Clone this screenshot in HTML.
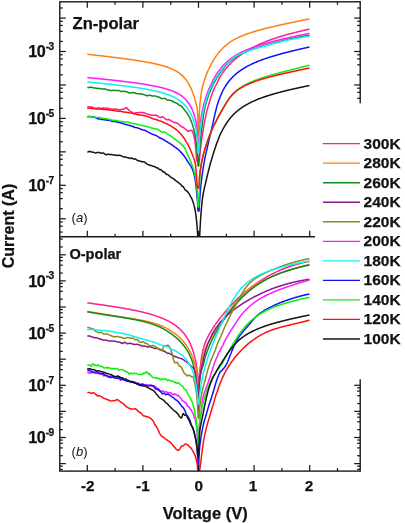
<!DOCTYPE html><html><head><meta charset="utf-8"><title>IV</title><style>
html,body{margin:0;padding:0;background:#fff}
#w{position:relative;width:405px;height:523px;overflow:hidden;background:#fff;font-family:"Liberation Sans",sans-serif;font-weight:bold;color:#111}
.t{position:absolute;white-space:nowrap;line-height:1;-webkit-text-stroke:0.25px #111}
#tx{position:absolute;left:0;top:0;width:405px;height:523px;will-change:transform;background:transparent}
.yl{font-size:16.2px;letter-spacing:-0.35px;text-align:right;width:60px}
.yl sup{font-size:10.2px;letter-spacing:-0.7px;position:relative;top:-7.2px;vertical-align:baseline;line-height:0;margin-left:0.3px;margin-right:0.7px}
.xl{font-size:15.3px;text-align:center;width:40px}
.lg{font-size:15.5px;left:363.6px}
</style></head><body><div id="w">
<svg width="405" height="523" viewBox="0 0 405 523" style="position:absolute;left:0;top:0">
<defs><clipPath id="c1"><rect x="59.8" y="1.8" width="300.4" height="235.0"/></clipPath><clipPath id="c2"><rect x="59.8" y="236.8" width="300.4" height="234.3"/></clipPath></defs>
<g fill="none" stroke-width="1.5" stroke-linejoin="round" stroke-linecap="butt" clip-path="url(#c1)">
<path d="M87.3 106.7 L87.8 106.8 L88.3 106.8 L88.8 106.8 L89.3 106.7 L89.8 106.9 L90.3 107.2 L90.8 107.2 L91.3 106.9 L91.8 106.8 L92.3 107.5 L92.8 108.2 L93.3 108.1 L93.8 107.9 L94.3 108.1 L94.8 108.3 L95.3 108.3 L95.8 108.3 L96.3 108.3 L96.8 108.5 L97.3 108.7 L97.8 108.2 L98.3 107.7 L98.8 107.9 L99.3 108.2 L99.8 108.2 L100.3 108.2 L100.8 108.3 L101.3 108.5 L101.8 108.5 L102.3 108.2 L102.8 108.0 L103.3 108.1 L103.8 108.2 L104.3 108.1 L104.8 107.9 L105.3 108.0 L105.8 108.1 L106.3 108.3 L106.8 108.4 L107.3 108.4 L107.8 108.2 L108.3 108.1 L108.8 108.4 L109.3 108.8 L109.8 108.9 L110.3 109.0 L110.8 109.0 L111.3 109.1 L111.8 109.2 L112.3 109.4 L112.8 109.4 L113.3 109.2 L113.8 109.0 L114.3 109.1 L114.8 109.1 L115.3 109.0 L115.8 108.9 L116.3 109.0 L116.8 109.2 L117.3 109.4 L117.8 109.6 L118.3 109.7 L118.8 109.7 L119.3 109.7 L119.8 109.8 L120.3 109.8 L120.8 109.6 L121.3 109.5 L121.8 109.4 L122.3 109.3 L122.8 109.2 L123.3 109.2 L123.8 109.0 L124.3 108.8 L124.8 108.7 L125.3 108.3 L125.8 107.9 L126.3 107.8 L126.8 107.8 L127.3 108.4 L127.8 109.1 L128.3 109.7 L128.8 110.1 L129.3 110.5 L129.8 111.0 L130.3 111.4 L130.8 111.7 L131.3 111.8 L131.8 112.1 L132.3 112.3 L132.8 112.8 L133.3 113.4 L133.8 113.7 L134.3 113.5 L134.8 113.2 L135.3 112.9 L135.8 112.7 L136.3 112.7 L136.8 112.7 L137.3 112.8 L137.8 112.9 L138.3 112.8 L138.8 112.5 L139.3 112.5 L139.8 112.6 L140.3 112.6 L140.8 112.6 L141.3 112.6 L141.8 112.6 L142.3 112.6 L142.8 112.6 L143.3 112.6 L143.8 112.8 L144.3 113.0 L144.8 113.1 L145.3 113.3 L145.8 113.5 L146.3 113.7 L146.8 113.9 L147.3 114.1 L147.8 114.2 L148.3 114.4 L148.8 114.5 L149.3 114.6 L149.8 114.7 L150.3 114.8 L150.8 115.1 L151.3 115.2 L151.8 115.1 L152.3 115.1 L152.8 115.3 L153.3 115.6 L153.8 115.4 L154.3 115.3 L154.8 115.2 L155.3 115.1 L155.8 115.1 L156.3 115.4 L156.8 115.7 L157.3 115.8 L157.8 116.0 L158.3 116.4 L158.8 116.8 L159.3 117.1 L159.8 117.2 L160.3 117.4 L160.8 117.5 L161.3 117.4 L161.8 116.9 L162.3 116.7 L162.8 116.8 L163.3 117.1 L163.8 117.5 L164.3 118.0 L164.8 118.4 L165.3 118.8 L165.8 119.2 L166.3 119.6 L166.8 119.8 L167.3 119.8 L167.8 119.7 L168.3 119.5 L168.8 119.3 L169.3 119.7 L169.8 120.0 L170.3 120.3 L170.8 120.7 L171.3 121.0 L171.8 121.2 L172.3 121.5 L172.8 121.9 L173.3 122.1 L173.8 122.3 L174.3 122.3 L174.8 122.4 L175.3 122.5 L175.8 122.7 L176.3 122.9 L176.8 123.0 L177.3 123.2 L177.8 123.6 L178.3 124.0 L178.8 124.4 L179.3 124.9 L179.8 125.3 L180.3 125.7 L180.8 126.0 L181.3 126.5 L181.8 126.8 L182.3 127.0 L182.8 127.2 L183.3 127.5 L183.8 127.8 L184.3 128.1 L184.8 128.5 L185.3 129.0 L185.8 129.4 L186.3 129.8 L186.8 130.3 L187.3 130.7 L187.8 131.2 L188.3 131.4 L188.8 131.1 L189.3 131.0 L189.8 130.8 L190.3 130.5 L190.8 130.3 L191.3 130.2 L191.8 130.3 L192.3 131.3 L192.5 131.7 L192.6 131.9 L192.7 132.2 L192.8 132.4 L192.9 132.7 L193.0 133.0 L193.1 133.2 L193.2 133.5 L193.3 133.8 L193.4 134.1 L193.5 134.4 L193.6 134.7 L193.7 135.0 L193.8 135.4 L193.9 135.8 L194.0 136.2 L194.1 136.6 L194.2 137.1 L194.3 137.7 L194.4 138.2 L194.5 138.8 L194.6 139.4 L194.7 140.0 L194.8 140.6 L194.9 141.3 L195.0 142.1 L195.1 142.8 L195.2 143.6 L195.3 144.4 L195.4 145.2 L195.5 146.1 L195.6 147.1 L195.7 148.1 L195.8 149.2 L195.9 150.3 L196.0 151.5 L196.1 152.7 L196.2 153.9 L196.3 155.2 L196.4 156.5 L196.5 157.8 L196.6 159.0 L196.7 160.2 L196.8 161.0 L196.9 161.0 L197.0 161.0 L197.1 161.0 L197.2 161.0 L197.3 161.0 L197.4 161.0 L197.5 161.0 L197.6 161.0 L197.7 161.0 L197.8 161.0 L197.9 161.0 L198.0 161.0 L198.1 161.0 L198.2 161.0 L198.3 161.0 L198.4 161.0 L198.5 161.0 L198.6 161.0 L198.7 161.0 L198.8 161.0 L198.9 161.0 L199.0 161.0 L199.1 161.0 L199.2 161.0 L199.3 161.0 L199.4 160.2 L199.5 159.4 L199.6 158.4 L199.7 157.4 L199.8 156.4 L199.9 155.3 L200.0 154.3 L200.1 153.3 L200.2 152.2 L200.3 151.2 L200.4 150.2 L200.5 149.3 L200.6 148.3 L200.7 147.4 L200.8 146.5 L200.9 145.6 L201.0 144.8 L201.1 144.0 L201.2 143.1 L201.3 142.4 L201.4 141.6 L201.5 140.8 L201.6 140.1 L201.7 139.4 L201.8 138.7 L201.9 138.0 L202.0 137.3 L202.1 136.7 L202.2 136.1 L202.3 135.4 L202.4 134.8 L202.5 134.2 L202.6 133.6 L202.7 132.9 L202.8 132.2 L202.9 131.6 L203.0 130.9 L203.1 130.2 L203.2 129.6 L203.3 129.0 L203.4 128.4 L203.5 127.7 L203.6 127.1 L203.7 126.5 L203.8 125.9 L203.9 125.4 L204.0 124.8 L204.1 124.3 L204.2 123.7 L204.3 123.2 L204.4 122.7 L204.5 122.2 L204.5 122.2 L205.0 119.7 L205.5 117.2 L206.0 114.9 L206.5 112.7 L207.0 110.6 L207.5 108.7 L208.0 107.0 L208.5 105.3 L209.0 103.6 L209.5 101.9 L210.0 100.1 L210.5 98.4 L211.0 97.0 L211.5 95.5 L212.0 94.0 L212.5 92.5 L213.0 91.2 L213.5 90.1 L214.0 88.9 L214.5 87.8 L215.0 86.7 L215.5 85.8 L216.0 85.1 L216.5 84.1 L217.0 83.1 L217.5 82.0 L218.0 80.9 L218.5 79.8 L219.0 78.8 L219.5 77.8 L220.0 77.0 L220.5 76.2 L221.0 75.6 L221.5 74.9 L222.0 74.0 L222.5 73.0 L223.0 72.5 L223.5 71.7 L224.0 71.0 L224.5 70.4 L225.0 69.7 L225.5 69.1 L226.0 68.5 L226.5 67.9 L227.0 67.3 L227.5 66.7 L228.0 66.2 L228.5 65.6 L229.0 65.1 L229.5 64.5 L230.0 64.0 L230.5 63.5 L231.0 63.0 L231.5 62.5 L232.0 62.0 L232.5 61.6 L233.0 61.1 L233.5 60.6 L234.0 60.2 L234.5 59.7 L235.0 59.3 L235.5 58.9 L236.0 58.5 L236.5 58.1 L237.0 57.7 L237.5 57.3 L238.0 56.9 L238.5 56.5 L239.0 56.1 L239.5 55.7 L240.0 55.4 L240.5 55.0 L241.0 54.6 L241.5 54.3 L242.0 53.9 L242.5 53.6 L243.0 53.3 L243.5 52.9 L244.0 52.6 L244.5 52.3 L245.0 52.0 L245.5 51.7 L246.0 51.3 L246.5 51.0 L247.0 50.7 L247.5 50.4 L248.0 50.1 L248.5 49.9 L249.0 49.6 L249.5 49.3 L250.0 49.0 L250.5 48.7 L251.0 48.5 L251.5 48.2 L252.0 47.9 L252.5 47.7 L253.0 47.4 L253.5 47.1 L254.0 46.9 L254.5 46.6 L255.0 46.4 L255.5 46.1 L256.0 45.9 L256.5 45.7 L257.0 45.4 L257.5 45.2 L258.0 45.0 L258.5 44.7 L259.0 44.5 L259.5 44.3 L260.0 44.0 L260.5 43.8 L261.0 43.6 L261.5 43.4 L262.0 43.2 L262.5 43.0 L263.0 42.8 L263.5 42.6 L264.0 42.3 L264.5 42.1 L265.0 41.9 L265.5 41.7 L266.0 41.5 L266.5 41.3 L267.0 41.2 L267.5 41.0 L268.0 40.8 L268.5 40.6 L269.0 40.4 L269.5 40.2 L270.0 40.0 L270.5 39.8 L271.0 39.7 L271.5 39.5 L272.0 39.3 L272.5 39.1 L273.0 39.0 L273.5 38.8 L274.0 38.6 L274.5 38.4 L275.0 38.3 L275.5 38.1 L276.0 37.9 L276.5 37.8 L277.0 37.6 L277.5 37.4 L278.0 37.3 L278.5 37.1 L279.0 37.0 L279.5 36.8 L280.0 36.7 L280.5 36.5 L281.0 36.4 L281.5 36.2 L282.0 36.1 L282.5 35.9 L283.0 35.8 L283.5 35.6 L284.0 35.5 L284.5 35.3 L285.0 35.2 L285.5 35.0 L286.0 34.9 L286.5 34.7 L287.0 34.6 L287.5 34.5 L288.0 34.3 L288.5 34.2 L289.0 34.1 L289.5 33.9 L290.0 33.8 L290.5 33.7 L291.0 33.5 L291.5 33.4 L292.0 33.3 L292.5 33.1 L293.0 33.0 L293.5 32.9 L294.0 32.8 L294.5 32.6 L295.0 32.5 L295.5 32.4 L296.0 32.3 L296.5 32.1 L297.0 32.0 L297.5 31.9 L298.0 31.8 L298.5 31.6 L299.0 31.5 L299.5 31.4 L300.0 31.3 L300.5 31.2 L301.0 31.1 L301.5 30.9 L302.0 30.8 L302.5 30.7 L303.0 30.6 L303.5 30.5 L304.0 30.4 L304.5 30.3 L305.0 30.2 L305.5 30.1 L306.0 29.9 L306.5 29.8 L307.0 29.7 L307.5 29.6 L308.0 29.5 L308.5 29.4 L309.0 29.3 L309.5 29.2" stroke="#ff1f8f"/>
<path d="M87.3 54.3 L87.8 54.3 L88.3 54.4 L88.8 54.4 L89.3 54.5 L89.8 54.6 L90.3 54.6 L90.8 54.7 L91.3 54.7 L91.8 54.8 L92.3 54.8 L92.8 54.9 L93.3 54.9 L93.8 55.0 L94.3 55.1 L94.8 55.1 L95.3 55.2 L95.8 55.2 L96.3 55.3 L96.8 55.3 L97.3 55.4 L97.8 55.4 L98.3 55.5 L98.8 55.6 L99.3 55.6 L99.8 55.7 L100.3 55.7 L100.8 55.8 L101.3 55.8 L101.8 55.9 L102.3 56.0 L102.8 56.0 L103.3 56.1 L103.8 56.1 L104.3 56.2 L104.8 56.3 L105.3 56.3 L105.8 56.4 L106.3 56.4 L106.8 56.5 L107.3 56.6 L107.8 56.6 L108.3 56.7 L108.8 56.7 L109.3 56.8 L109.8 56.9 L110.3 56.9 L110.8 57.0 L111.3 57.0 L111.8 57.1 L112.3 57.2 L112.8 57.2 L113.3 57.3 L113.8 57.3 L114.3 57.4 L114.8 57.5 L115.3 57.5 L115.8 57.6 L116.3 57.7 L116.8 57.7 L117.3 57.8 L117.8 57.8 L118.3 57.9 L118.8 58.0 L119.3 58.0 L119.8 58.1 L120.3 58.2 L120.8 58.2 L121.3 58.3 L121.8 58.4 L122.3 58.4 L122.8 58.5 L123.3 58.6 L123.8 58.6 L124.3 58.7 L124.8 58.8 L125.3 58.8 L125.8 58.9 L126.3 59.0 L126.8 59.0 L127.3 59.1 L127.8 59.2 L128.3 59.2 L128.8 59.3 L129.3 59.4 L129.8 59.5 L130.3 59.5 L130.8 59.6 L131.3 59.7 L131.8 59.7 L132.3 59.8 L132.8 59.9 L133.3 60.0 L133.8 60.0 L134.3 60.1 L134.8 60.2 L135.3 60.3 L135.8 60.3 L136.3 60.4 L136.8 60.5 L137.3 60.6 L137.8 60.7 L138.3 60.7 L138.8 60.8 L139.3 60.9 L139.8 61.0 L140.3 61.1 L140.8 61.1 L141.3 61.2 L141.8 61.3 L142.3 61.4 L142.8 61.5 L143.3 61.6 L143.8 61.6 L144.3 61.7 L144.8 61.8 L145.3 61.9 L145.8 62.0 L146.3 62.1 L146.8 62.2 L147.3 62.3 L147.8 62.4 L148.3 62.5 L148.8 62.6 L149.3 62.6 L149.8 62.7 L150.3 62.8 L150.8 62.9 L151.3 63.0 L151.8 63.1 L152.3 63.2 L152.8 63.3 L153.3 63.5 L153.8 63.6 L154.3 63.7 L154.8 63.8 L155.3 63.9 L155.8 64.0 L156.3 64.1 L156.8 64.2 L157.3 64.3 L157.8 64.5 L158.3 64.6 L158.8 64.7 L159.3 64.8 L159.8 65.0 L160.3 65.1 L160.8 65.2 L161.3 65.4 L161.8 65.5 L162.3 65.6 L162.8 65.8 L163.3 65.9 L163.8 66.1 L164.3 66.2 L164.8 66.4 L165.3 66.5 L165.8 66.7 L166.3 66.8 L166.8 67.0 L167.3 67.2 L167.8 67.3 L168.3 67.5 L168.8 67.7 L169.3 67.9 L169.8 68.1 L170.3 68.3 L170.8 68.5 L171.3 68.7 L171.8 68.9 L172.3 69.1 L172.8 69.3 L173.3 69.6 L173.8 69.8 L174.3 70.1 L174.8 70.3 L175.3 70.6 L175.8 70.9 L176.3 71.2 L176.8 71.4 L177.3 71.8 L177.8 72.1 L178.3 72.4 L178.8 72.7 L179.3 73.1 L179.8 73.5 L180.3 73.9 L180.8 74.3 L181.3 74.7 L181.8 75.1 L182.3 75.6 L182.8 76.1 L183.3 76.6 L183.8 77.1 L184.3 77.7 L184.8 78.3 L185.3 78.9 L185.8 79.5 L186.3 80.2 L186.8 80.8 L187.3 81.6 L187.8 82.3 L188.3 83.2 L188.8 84.0 L189.3 84.9 L189.8 85.9 L190.3 86.9 L190.8 87.9 L191.3 89.0 L191.8 90.2 L192.3 91.5 L192.5 92.0 L192.6 92.3 L192.7 92.5 L192.8 92.8 L192.9 93.1 L193.0 93.4 L193.1 93.7 L193.2 93.9 L193.3 94.2 L193.4 94.5 L193.5 94.8 L193.6 95.1 L193.7 95.4 L193.8 95.7 L193.9 96.0 L194.0 96.3 L194.1 96.7 L194.2 97.0 L194.3 97.3 L194.4 97.6 L194.5 98.0 L194.6 98.3 L194.7 98.6 L194.8 99.0 L194.9 99.3 L195.0 99.7 L195.1 100.0 L195.2 100.4 L195.3 100.8 L195.4 101.1 L195.5 101.5 L195.6 101.9 L195.7 102.2 L195.8 102.6 L195.9 103.0 L196.0 103.4 L196.1 103.8 L196.2 104.2 L196.3 104.6 L196.4 105.0 L196.5 105.4 L196.6 105.8 L196.7 106.2 L196.8 106.7 L196.9 107.2 L197.0 107.7 L197.1 108.3 L197.2 109.0 L197.3 109.7 L197.4 110.6 L197.5 111.6 L197.6 112.9 L197.7 114.5 L197.8 116.5 L197.9 119.3 L198.0 123.3 L198.1 129.4 L198.2 133.6 L198.3 136.0 L198.4 136.0 L198.5 136.0 L198.6 136.0 L198.7 136.0 L198.8 133.0 L198.9 128.8 L199.0 125.6 L199.1 122.9 L199.2 120.7 L199.3 117.3 L199.4 114.6 L199.5 112.2 L199.6 110.1 L199.7 108.3 L199.8 106.7 L199.9 105.3 L200.0 103.9 L200.1 102.7 L200.2 101.6 L200.3 100.6 L200.4 99.6 L200.5 98.7 L200.6 97.8 L200.7 97.0 L200.8 96.3 L200.9 95.5 L201.0 94.8 L201.1 94.2 L201.2 93.5 L201.3 92.9 L201.4 92.3 L201.5 91.8 L201.6 91.2 L201.7 90.7 L201.8 90.2 L201.9 89.7 L202.0 89.2 L202.1 88.7 L202.2 88.2 L202.3 87.8 L202.4 87.4 L202.5 86.9 L202.6 86.5 L202.7 86.1 L202.8 85.7 L202.9 85.3 L203.0 84.9 L203.1 84.5 L203.2 84.2 L203.3 83.8 L203.4 83.4 L203.5 83.1 L203.6 82.7 L203.7 82.4 L203.8 82.1 L203.9 81.7 L204.0 81.4 L204.1 81.1 L204.2 80.8 L204.3 80.5 L204.4 80.1 L204.5 79.8 L204.5 79.8 L205.0 78.4 L205.5 77.0 L206.0 75.6 L206.5 74.4 L207.0 73.1 L207.5 71.9 L208.0 70.8 L208.5 69.7 L209.0 68.6 L209.5 67.6 L210.0 66.6 L210.5 65.6 L211.0 64.6 L211.5 63.7 L212.0 62.8 L212.5 61.9 L213.0 61.0 L213.5 60.2 L214.0 59.4 L214.5 58.6 L215.0 57.8 L215.5 57.0 L216.0 56.3 L216.5 55.6 L217.0 54.9 L217.5 54.2 L218.0 53.6 L218.5 52.9 L219.0 52.3 L219.5 51.7 L220.0 51.1 L220.5 50.6 L221.0 50.0 L221.5 49.5 L222.0 49.0 L222.5 48.4 L223.0 48.0 L223.5 47.5 L224.0 47.0 L224.5 46.5 L225.0 46.1 L225.5 45.7 L226.0 45.2 L226.5 44.8 L227.0 44.4 L227.5 44.0 L228.0 43.6 L228.5 43.3 L229.0 42.9 L229.5 42.5 L230.0 42.2 L230.5 41.9 L231.0 41.5 L231.5 41.2 L232.0 40.9 L232.5 40.6 L233.0 40.3 L233.5 40.0 L234.0 39.7 L234.5 39.4 L235.0 39.2 L235.5 38.9 L236.0 38.6 L236.5 38.4 L237.0 38.1 L237.5 37.9 L238.0 37.6 L238.5 37.4 L239.0 37.2 L239.5 37.0 L240.0 36.7 L240.5 36.5 L241.0 36.3 L241.5 36.1 L242.0 35.9 L242.5 35.7 L243.0 35.5 L243.5 35.3 L244.0 35.1 L244.5 34.9 L245.0 34.7 L245.5 34.5 L246.0 34.3 L246.5 34.1 L247.0 34.0 L247.5 33.8 L248.0 33.6 L248.5 33.4 L249.0 33.3 L249.5 33.1 L250.0 32.9 L250.5 32.8 L251.0 32.6 L251.5 32.4 L252.0 32.3 L252.5 32.1 L253.0 32.0 L253.5 31.8 L254.0 31.7 L254.5 31.5 L255.0 31.4 L255.5 31.2 L256.0 31.1 L256.5 30.9 L257.0 30.8 L257.5 30.6 L258.0 30.5 L258.5 30.3 L259.0 30.2 L259.5 30.1 L260.0 29.9 L260.5 29.8 L261.0 29.7 L261.5 29.5 L262.0 29.4 L262.5 29.3 L263.0 29.1 L263.5 29.0 L264.0 28.9 L264.5 28.7 L265.0 28.6 L265.5 28.5 L266.0 28.4 L266.5 28.2 L267.0 28.1 L267.5 28.0 L268.0 27.9 L268.5 27.7 L269.0 27.6 L269.5 27.5 L270.0 27.4 L270.5 27.2 L271.0 27.1 L271.5 27.0 L272.0 26.9 L272.5 26.8 L273.0 26.6 L273.5 26.5 L274.0 26.4 L274.5 26.3 L275.0 26.2 L275.5 26.1 L276.0 25.9 L276.5 25.8 L277.0 25.7 L277.5 25.6 L278.0 25.5 L278.5 25.4 L279.0 25.3 L279.5 25.2 L280.0 25.0 L280.5 24.9 L281.0 24.8 L281.5 24.7 L282.0 24.6 L282.5 24.5 L283.0 24.4 L283.5 24.3 L284.0 24.2 L284.5 24.1 L285.0 23.9 L285.5 23.8 L286.0 23.7 L286.5 23.6 L287.0 23.5 L287.5 23.4 L288.0 23.3 L288.5 23.2 L289.0 23.1 L289.5 23.0 L290.0 22.9 L290.5 22.8 L291.0 22.7 L291.5 22.6 L292.0 22.5 L292.5 22.4 L293.0 22.3 L293.5 22.2 L294.0 22.0 L294.5 21.9 L295.0 21.8 L295.5 21.7 L296.0 21.6 L296.5 21.5 L297.0 21.4 L297.5 21.3 L298.0 21.2 L298.5 21.1 L299.0 21.0 L299.5 20.9 L300.0 20.8 L300.5 20.7 L301.0 20.6 L301.5 20.5 L302.0 20.4 L302.5 20.3 L303.0 20.2 L303.5 20.1 L304.0 20.0 L304.5 19.9 L305.0 19.8 L305.5 19.7 L306.0 19.6 L306.5 19.5 L307.0 19.4 L307.5 19.3 L308.0 19.2 L308.5 19.1 L309.0 19.0 L309.5 18.9" stroke="#ff8010"/>
<path d="M87.3 87.4 L87.8 87.4 L88.3 87.5 L88.8 87.5 L89.3 87.5 L89.8 87.4 L90.3 87.3 L90.8 87.2 L91.3 87.1 L91.8 87.2 L92.3 87.4 L92.8 87.6 L93.3 87.8 L93.8 87.9 L94.3 87.9 L94.8 88.0 L95.3 88.0 L95.8 88.1 L96.3 88.2 L96.8 88.3 L97.3 88.4 L97.8 88.4 L98.3 88.4 L98.8 88.4 L99.3 88.4 L99.8 88.5 L100.3 88.6 L100.8 88.7 L101.3 88.8 L101.8 88.9 L102.3 88.9 L102.8 88.9 L103.3 88.9 L103.8 88.9 L104.3 88.9 L104.8 88.9 L105.3 88.9 L105.8 89.1 L106.3 89.4 L106.8 89.6 L107.3 89.9 L107.8 89.9 L108.3 90.0 L108.8 90.1 L109.3 90.1 L109.8 90.3 L110.3 90.4 L110.8 90.5 L111.3 90.7 L111.8 90.6 L112.3 90.5 L112.8 90.4 L113.3 90.3 L113.8 90.3 L114.3 90.4 L114.8 90.4 L115.3 90.4 L115.8 90.5 L116.3 90.5 L116.8 90.6 L117.3 90.6 L117.8 90.6 L118.3 90.6 L118.8 90.5 L119.3 90.5 L119.8 90.8 L120.3 91.1 L120.8 91.4 L121.3 91.7 L121.8 91.6 L122.3 91.4 L122.8 91.3 L123.3 91.2 L123.8 91.3 L124.3 91.3 L124.8 91.4 L125.3 91.4 L125.8 91.6 L126.3 91.7 L126.8 91.9 L127.3 92.1 L127.8 92.3 L128.3 92.5 L128.8 92.7 L129.3 92.9 L129.8 92.9 L130.3 92.8 L130.8 92.8 L131.3 92.8 L131.8 92.7 L132.3 92.7 L132.8 92.6 L133.3 92.6 L133.8 92.7 L134.3 92.8 L134.8 92.9 L135.3 93.0 L135.8 93.2 L136.3 93.4 L136.8 93.6 L137.3 93.8 L137.8 93.8 L138.3 93.8 L138.8 93.8 L139.3 93.8 L139.8 93.8 L140.3 93.9 L140.8 93.9 L141.3 93.9 L141.8 94.0 L142.3 94.2 L142.8 94.3 L143.3 94.4 L143.8 94.6 L144.3 94.8 L144.8 94.9 L145.3 95.1 L145.8 95.3 L146.3 95.5 L146.8 95.7 L147.3 95.9 L147.8 95.7 L148.3 95.5 L148.8 95.3 L149.3 95.1 L149.8 95.3 L150.3 95.4 L150.8 95.5 L151.3 95.7 L151.8 95.8 L152.3 95.9 L152.8 95.9 L153.3 96.0 L153.8 96.0 L154.3 95.9 L154.8 95.9 L155.3 95.9 L155.8 96.1 L156.3 96.3 L156.8 96.6 L157.3 96.8 L157.8 96.9 L158.3 97.0 L158.8 97.1 L159.3 97.2 L159.8 97.5 L160.3 97.8 L160.8 98.2 L161.3 98.5 L161.8 98.5 L162.3 98.5 L162.8 98.5 L163.3 98.5 L163.8 98.6 L164.3 98.6 L164.8 98.6 L165.3 98.6 L165.8 98.9 L166.3 99.3 L166.8 99.6 L167.3 100.0 L167.8 100.1 L168.3 100.1 L168.8 100.2 L169.3 100.3 L169.8 100.3 L170.3 100.4 L170.8 100.5 L171.3 100.5 L171.8 100.8 L172.3 101.1 L172.8 101.4 L173.3 101.8 L173.8 102.0 L174.3 102.2 L174.8 102.4 L175.3 102.7 L175.8 102.9 L176.3 103.2 L176.8 103.4 L177.3 103.7 L177.8 104.0 L178.3 104.4 L178.8 104.8 L179.3 105.2 L179.8 105.4 L180.3 105.5 L180.8 105.7 L181.3 105.9 L181.8 106.5 L182.3 107.1 L182.8 107.7 L183.3 108.4 L183.8 109.0 L184.3 109.6 L184.8 110.3 L185.3 111.0 L185.8 111.5 L186.3 112.2 L186.8 112.8 L187.3 113.5 L187.8 114.3 L188.3 115.2 L188.8 116.0 L189.3 117.0 L189.8 118.0 L190.3 119.0 L190.8 120.2 L191.3 121.4 L191.8 122.7 L192.3 124.2 L192.5 124.9 L192.6 125.2 L192.7 125.5 L192.8 125.8 L192.9 126.2 L193.0 126.5 L193.1 126.9 L193.2 127.3 L193.3 127.6 L193.4 128.0 L193.5 128.3 L193.6 128.6 L193.7 129.0 L193.8 129.3 L193.9 129.7 L194.0 130.1 L194.1 130.5 L194.2 130.9 L194.3 131.3 L194.4 131.7 L194.5 132.1 L194.6 132.6 L194.7 133.0 L194.8 133.5 L194.9 134.0 L195.0 134.5 L195.1 135.0 L195.2 135.5 L195.3 136.1 L195.4 136.7 L195.5 137.4 L195.6 138.0 L195.7 138.7 L195.8 139.5 L195.9 140.2 L196.0 141.0 L196.1 141.8 L196.2 142.6 L196.3 143.5 L196.4 144.4 L196.5 145.3 L196.6 146.2 L196.7 147.2 L196.8 148.3 L196.9 149.4 L197.0 150.5 L197.1 151.7 L197.2 152.9 L197.3 154.3 L197.4 155.6 L197.5 156.9 L197.6 158.4 L197.7 160.0 L197.8 161.9 L197.9 164.1 L198.0 166.0 L198.1 166.0 L198.2 166.0 L198.3 166.0 L198.4 166.0 L198.5 166.0 L198.6 166.0 L198.7 166.0 L198.8 166.0 L198.9 163.8 L199.0 160.5 L199.1 157.8 L199.2 155.6 L199.3 153.6 L199.4 151.9 L199.5 150.2 L199.6 148.6 L199.7 147.2 L199.8 146.0 L199.9 144.8 L200.0 143.7 L200.1 142.7 L200.2 141.7 L200.3 140.7 L200.4 139.7 L200.5 138.8 L200.6 137.9 L200.7 137.1 L200.8 136.2 L200.9 135.3 L201.0 134.5 L201.1 133.6 L201.2 132.8 L201.3 132.0 L201.4 131.2 L201.5 130.3 L201.6 129.5 L201.7 128.7 L201.8 127.9 L201.9 127.1 L202.0 126.2 L202.1 125.4 L202.2 124.6 L202.3 123.8 L202.4 123.0 L202.5 122.2 L202.6 121.4 L202.7 120.7 L202.8 119.9 L202.9 119.2 L203.0 118.4 L203.1 117.7 L203.2 117.0 L203.3 116.3 L203.4 115.7 L203.5 115.0 L203.6 114.4 L203.7 113.8 L203.8 113.3 L203.9 112.7 L204.0 112.1 L204.1 111.6 L204.2 111.1 L204.3 110.6 L204.4 110.1 L204.5 109.6 L204.5 109.6 L205.0 107.4 L205.5 105.3 L206.0 103.4 L206.5 101.6 L207.0 99.9 L207.5 98.3 L208.0 96.8 L208.5 95.3 L209.0 93.9 L209.5 92.6 L210.0 91.4 L210.5 90.3 L211.0 89.2 L211.5 88.1 L212.0 87.0 L212.5 85.8 L213.0 84.7 L213.5 83.7 L214.0 82.8 L214.5 81.9 L215.0 81.1 L215.5 80.2 L216.0 79.4 L216.5 78.5 L217.0 77.7 L217.5 76.9 L218.0 76.1 L218.5 75.3 L219.0 74.5 L219.5 73.7 L220.0 73.0 L220.5 72.4 L221.0 71.7 L221.5 71.1 L222.0 70.5 L222.5 69.8 L223.0 69.2 L223.5 68.2 L224.0 67.6 L224.5 66.9 L225.0 66.3 L225.5 65.7 L226.0 65.1 L226.5 64.5 L227.0 64.0 L227.5 63.5 L228.0 63.0 L228.5 62.5 L229.0 62.0 L229.5 61.5 L230.0 61.1 L230.5 60.7 L231.0 60.3 L231.5 59.8 L232.0 59.5 L232.5 59.1 L233.0 58.7 L233.5 58.4 L234.0 58.0 L234.5 57.7 L235.0 57.3 L235.5 57.0 L236.0 56.7 L236.5 56.4 L237.0 56.1 L237.5 55.8 L238.0 55.5 L238.5 55.3 L239.0 55.0 L239.5 54.7 L240.0 54.5 L240.5 54.2 L241.0 54.0 L241.5 53.7 L242.0 53.5 L242.5 53.3 L243.0 53.0 L243.5 52.8 L244.0 52.6 L244.5 52.4 L245.0 52.2 L245.5 52.0 L246.0 51.7 L246.5 51.5 L247.0 51.3 L247.5 51.1 L248.0 51.0 L248.5 50.8 L249.0 50.6 L249.5 50.4 L250.0 50.2 L250.5 50.0 L251.0 49.9 L251.5 49.7 L252.0 49.5 L252.5 49.3 L253.0 49.2 L253.5 49.0 L254.0 48.8 L254.5 48.7 L255.0 48.5 L255.5 48.3 L256.0 48.2 L256.5 48.0 L257.0 47.9 L257.5 47.7 L258.0 47.6 L258.5 47.4 L259.0 47.3 L259.5 47.1 L260.0 47.0 L260.5 46.8 L261.0 46.7 L261.5 46.5 L262.0 46.4 L262.5 46.2 L263.0 46.1 L263.5 45.9 L264.0 45.8 L264.5 45.6 L265.0 45.5 L265.5 45.4 L266.0 45.2 L266.5 45.1 L267.0 44.9 L267.5 44.8 L268.0 44.7 L268.5 44.5 L269.0 44.4 L269.5 44.2 L270.0 44.1 L270.5 44.0 L271.0 43.8 L271.5 43.7 L272.0 43.5 L272.5 43.4 L273.0 43.3 L273.5 43.1 L274.0 43.0 L274.5 42.9 L275.0 42.7 L275.5 42.6 L276.0 42.4 L276.5 42.3 L277.0 42.2 L277.5 42.0 L278.0 41.9 L278.5 41.8 L279.0 41.6 L279.5 41.5 L280.0 41.4 L280.5 41.3 L281.0 41.1 L281.5 41.0 L282.0 40.9 L282.5 40.7 L283.0 40.6 L283.5 40.5 L284.0 40.4 L284.5 40.2 L285.0 40.1 L285.5 40.0 L286.0 39.9 L286.5 39.8 L287.0 39.6 L287.5 39.5 L288.0 39.4 L288.5 39.3 L289.0 39.2 L289.5 39.1 L290.0 38.9 L290.5 38.8 L291.0 38.7 L291.5 38.6 L292.0 38.5 L292.5 38.4 L293.0 38.3 L293.5 38.2 L294.0 38.1 L294.5 38.0 L295.0 37.9 L295.5 37.8 L296.0 37.7 L296.5 37.6 L297.0 37.5 L297.5 37.4 L298.0 37.3 L298.5 37.2 L299.0 37.1 L299.5 37.0 L300.0 36.9 L300.5 36.8 L301.0 36.7 L301.5 36.6 L302.0 36.5 L302.5 36.4 L303.0 36.4 L303.5 36.3 L304.0 36.2 L304.5 36.1 L305.0 36.0 L305.5 35.9 L306.0 35.9 L306.5 35.8 L307.0 35.7 L307.5 35.6 L308.0 35.5 L308.5 35.5 L309.0 35.4 L309.5 35.3" stroke="#0f8a1f"/>
<path d="M87.3 77.6 L87.8 77.6 L88.3 77.7 L88.8 77.7 L89.3 77.8 L89.8 77.8 L90.3 77.9 L90.8 77.9 L91.3 78.0 L91.8 78.0 L92.3 78.1 L92.8 78.1 L93.3 78.2 L93.8 78.2 L94.3 78.3 L94.8 78.3 L95.3 78.4 L95.8 78.4 L96.3 78.5 L96.8 78.5 L97.3 78.6 L97.8 78.6 L98.3 78.7 L98.8 78.7 L99.3 78.8 L99.8 78.8 L100.3 78.9 L100.8 78.9 L101.3 79.0 L101.8 79.0 L102.3 79.1 L102.8 79.1 L103.3 79.2 L103.8 79.2 L104.3 79.3 L104.8 79.3 L105.3 79.4 L105.8 79.4 L106.3 79.5 L106.8 79.5 L107.3 79.6 L107.8 79.6 L108.3 79.7 L108.8 79.7 L109.3 79.8 L109.8 79.8 L110.3 79.9 L110.8 79.9 L111.3 80.0 L111.8 80.1 L112.3 80.1 L112.8 80.2 L113.3 80.2 L113.8 80.3 L114.3 80.3 L114.8 80.4 L115.3 80.4 L115.8 80.5 L116.3 80.6 L116.8 80.6 L117.3 80.7 L117.8 80.7 L118.3 80.8 L118.8 80.8 L119.3 80.9 L119.8 81.0 L120.3 81.0 L120.8 81.1 L121.3 81.1 L121.8 81.2 L122.3 81.3 L122.8 81.3 L123.3 81.4 L123.8 81.4 L124.3 81.5 L124.8 81.6 L125.3 81.6 L125.8 81.7 L126.3 81.7 L126.8 81.8 L127.3 81.9 L127.8 81.9 L128.3 82.0 L128.8 82.1 L129.3 82.1 L129.8 82.2 L130.3 82.2 L130.8 82.3 L131.3 82.4 L131.8 82.4 L132.3 82.5 L132.8 82.6 L133.3 82.6 L133.8 82.7 L134.3 82.8 L134.8 82.9 L135.3 82.9 L135.8 83.0 L136.3 83.1 L136.8 83.1 L137.3 83.2 L137.8 83.3 L138.3 83.3 L138.8 83.4 L139.3 83.5 L139.8 83.6 L140.3 83.6 L140.8 83.7 L141.3 83.8 L141.8 83.9 L142.3 84.0 L142.8 84.0 L143.3 84.1 L143.8 84.2 L144.3 84.3 L144.8 84.3 L145.3 84.4 L145.8 84.5 L146.3 84.6 L146.8 84.7 L147.3 84.8 L147.8 84.8 L148.3 84.9 L148.8 85.0 L149.3 85.1 L149.8 85.2 L150.3 85.3 L150.8 85.4 L151.3 85.5 L151.8 85.6 L152.3 85.7 L152.8 85.8 L153.3 85.9 L153.8 86.0 L154.3 86.0 L154.8 86.2 L155.3 86.3 L155.8 86.4 L156.3 86.5 L156.8 86.6 L157.3 86.7 L157.8 86.8 L158.3 86.9 L158.8 87.0 L159.3 87.1 L159.8 87.2 L160.3 87.4 L160.8 87.5 L161.3 87.6 L161.8 87.7 L162.3 87.8 L162.8 88.0 L163.3 88.1 L163.8 88.2 L164.3 88.4 L164.8 88.5 L165.3 88.6 L165.8 88.8 L166.3 88.9 L166.8 89.1 L167.3 89.2 L167.8 89.4 L168.3 89.5 L168.8 89.7 L169.3 89.9 L169.8 90.0 L170.3 90.2 L170.8 90.4 L171.3 90.6 L171.8 90.8 L172.3 91.0 L172.8 91.2 L173.3 91.4 L173.8 91.6 L174.3 91.8 L174.8 92.0 L175.3 92.2 L175.8 92.5 L176.3 92.7 L176.8 93.0 L177.3 93.2 L177.8 93.5 L178.3 93.8 L178.8 94.1 L179.3 94.4 L179.8 94.7 L180.3 95.0 L180.8 95.4 L181.3 95.7 L181.8 96.1 L182.3 96.5 L182.8 96.9 L183.3 97.3 L183.8 97.7 L184.3 98.2 L184.8 98.7 L185.3 99.2 L185.8 99.7 L186.3 100.2 L186.8 100.8 L187.3 101.4 L187.8 102.1 L188.3 102.7 L188.8 103.4 L189.3 104.2 L189.8 105.0 L190.3 105.8 L190.8 106.7 L191.3 107.7 L191.8 108.7 L192.3 109.8 L192.5 110.3 L192.6 110.5 L192.7 110.8 L192.8 111.0 L192.9 111.3 L193.0 111.5 L193.1 111.8 L193.2 112.0 L193.3 112.3 L193.4 112.6 L193.5 112.9 L193.6 113.1 L193.7 113.4 L193.8 113.7 L193.9 114.0 L194.0 114.3 L194.1 114.6 L194.2 114.9 L194.3 115.2 L194.4 115.5 L194.5 115.8 L194.6 116.1 L194.7 116.5 L194.8 116.8 L194.9 117.1 L195.0 117.5 L195.1 117.8 L195.2 118.2 L195.3 118.5 L195.4 118.9 L195.5 119.3 L195.6 119.7 L195.7 120.1 L195.8 120.5 L195.9 120.9 L196.0 121.4 L196.1 121.9 L196.2 122.5 L196.3 123.0 L196.4 123.7 L196.5 124.4 L196.6 125.2 L196.7 126.0 L196.8 127.0 L196.9 128.1 L197.0 129.3 L197.1 130.8 L197.2 132.5 L197.3 134.5 L197.4 137.0 L197.5 140.0 L197.6 141.5 L197.7 143.2 L197.8 145.1 L197.9 147.0 L198.0 147.0 L198.1 147.0 L198.2 147.0 L198.3 147.0 L198.4 147.0 L198.5 147.0 L198.6 147.0 L198.7 147.0 L198.8 147.0 L198.9 146.7 L199.0 143.4 L199.1 140.8 L199.2 138.6 L199.3 136.6 L199.4 134.9 L199.5 133.3 L199.6 131.8 L199.7 130.5 L199.8 129.2 L199.9 128.1 L200.0 127.0 L200.1 126.0 L200.2 125.0 L200.3 124.1 L200.4 123.2 L200.5 122.3 L200.6 121.5 L200.7 120.8 L200.8 120.0 L200.9 119.3 L201.0 118.6 L201.1 117.9 L201.2 117.3 L201.3 116.6 L201.4 116.0 L201.5 115.4 L201.6 114.8 L201.7 114.2 L201.8 113.7 L201.9 113.1 L202.0 112.6 L202.1 112.1 L202.2 111.6 L202.3 111.1 L202.4 110.6 L202.5 110.1 L202.6 109.6 L202.7 109.2 L202.8 108.7 L202.9 108.2 L203.0 107.8 L203.1 107.4 L203.2 106.9 L203.3 106.5 L203.4 106.1 L203.5 105.7 L203.6 105.3 L203.7 104.9 L203.8 104.5 L203.9 104.1 L204.0 103.7 L204.1 103.4 L204.2 103.0 L204.3 102.6 L204.4 102.3 L204.5 101.9 L204.5 101.9 L205.0 100.2 L205.5 98.5 L206.0 97.0 L206.5 95.5 L207.0 94.1 L207.5 92.7 L208.0 91.4 L208.5 90.1 L209.0 88.9 L209.5 87.7 L210.0 86.6 L210.5 85.5 L211.0 84.4 L211.5 83.3 L212.0 82.3 L212.5 81.3 L213.0 80.3 L213.5 79.4 L214.0 78.5 L214.5 77.6 L215.0 76.7 L215.5 75.9 L216.0 75.1 L216.5 74.3 L217.0 73.5 L217.5 72.8 L218.0 72.1 L218.5 71.4 L219.0 70.7 L219.5 70.0 L220.0 69.4 L220.5 68.7 L221.0 68.1 L221.5 67.5 L222.0 66.9 L222.5 66.3 L223.0 65.8 L223.5 65.2 L224.0 64.7 L224.5 64.2 L225.0 63.7 L225.5 63.2 L226.0 62.7 L226.5 62.3 L227.0 61.8 L227.5 61.4 L228.0 60.9 L228.5 60.5 L229.0 60.1 L229.5 59.7 L230.0 59.3 L230.5 58.9 L231.0 58.5 L231.5 58.2 L232.0 57.8 L232.5 57.5 L233.0 57.1 L233.5 56.8 L234.0 56.5 L234.5 56.1 L235.0 55.8 L235.5 55.5 L236.0 55.2 L236.5 54.9 L237.0 54.6 L237.5 54.4 L238.0 54.1 L238.5 53.8 L239.0 53.5 L239.5 53.3 L240.0 53.0 L240.5 52.8 L241.0 52.5 L241.5 52.3 L242.0 52.0 L242.5 51.8 L243.0 51.6 L243.5 51.3 L244.0 51.1 L244.5 50.9 L245.0 50.6 L245.5 50.4 L246.0 50.2 L246.5 50.0 L247.0 49.8 L247.5 49.6 L248.0 49.4 L248.5 49.2 L249.0 49.0 L249.5 48.8 L250.0 48.6 L250.5 48.4 L251.0 48.2 L251.5 48.0 L252.0 47.9 L252.5 47.7 L253.0 47.5 L253.5 47.3 L254.0 47.1 L254.5 47.0 L255.0 46.8 L255.5 46.6 L256.0 46.5 L256.5 46.3 L257.0 46.1 L257.5 46.0 L258.0 45.8 L258.5 45.6 L259.0 45.5 L259.5 45.3 L260.0 45.2 L260.5 45.0 L261.0 44.8 L261.5 44.7 L262.0 44.5 L262.5 44.4 L263.0 44.2 L263.5 44.1 L264.0 44.0 L264.5 43.8 L265.0 43.7 L265.5 43.5 L266.0 43.4 L266.5 43.2 L267.0 43.1 L267.5 43.0 L268.0 42.8 L268.5 42.7 L269.0 42.5 L269.5 42.4 L270.0 42.3 L270.5 42.1 L271.0 42.0 L271.5 41.9 L272.0 41.7 L272.5 41.6 L273.0 41.5 L273.5 41.4 L274.0 41.2 L274.5 41.1 L275.0 41.0 L275.5 40.8 L276.0 40.7 L276.5 40.6 L277.0 40.5 L277.5 40.3 L278.0 40.2 L278.5 40.1 L279.0 40.0 L279.5 39.9 L280.0 39.7 L280.5 39.6 L281.0 39.5 L281.5 39.4 L282.0 39.3 L282.5 39.1 L283.0 39.0 L283.5 38.9 L284.0 38.8 L284.5 38.7 L285.0 38.6 L285.5 38.4 L286.0 38.3 L286.5 38.2 L287.0 38.1 L287.5 38.0 L288.0 37.9 L288.5 37.8 L289.0 37.7 L289.5 37.5 L290.0 37.4 L290.5 37.3 L291.0 37.2 L291.5 37.1 L292.0 37.0 L292.5 36.9 L293.0 36.8 L293.5 36.7 L294.0 36.6 L294.5 36.5 L295.0 36.4 L295.5 36.2 L296.0 36.1 L296.5 36.0 L297.0 35.9 L297.5 35.8 L298.0 35.7 L298.5 35.6 L299.0 35.5 L299.5 35.4 L300.0 35.3 L300.5 35.2 L301.0 35.1 L301.5 35.0 L302.0 34.9 L302.5 34.8 L303.0 34.7 L303.5 34.6 L304.0 34.5 L304.5 34.4 L305.0 34.3 L305.5 34.2 L306.0 34.1 L306.5 34.0 L307.0 33.9 L307.5 33.8 L308.0 33.7 L308.5 33.6 L309.0 33.5 L309.5 33.4" stroke="#ff19ff"/>
<path d="M87.3 82.0 L87.8 82.1 L88.3 82.1 L88.8 82.2 L89.3 82.2 L89.8 82.2 L90.3 82.3 L90.8 82.3 L91.3 82.4 L91.8 82.4 L92.3 82.5 L92.8 82.5 L93.3 82.6 L93.8 82.6 L94.3 82.7 L94.8 82.7 L95.3 82.8 L95.8 82.8 L96.3 82.9 L96.8 82.9 L97.3 83.0 L97.8 83.0 L98.3 83.0 L98.8 83.1 L99.3 83.1 L99.8 83.2 L100.3 83.2 L100.8 83.3 L101.3 83.3 L101.8 83.4 L102.3 83.4 L102.8 83.5 L103.3 83.5 L103.8 83.6 L104.3 83.6 L104.8 83.7 L105.3 83.8 L105.8 83.8 L106.3 83.9 L106.8 83.9 L107.3 84.0 L107.8 84.0 L108.3 84.1 L108.8 84.1 L109.3 84.2 L109.8 84.2 L110.3 84.3 L110.8 84.3 L111.3 84.4 L111.8 84.4 L112.3 84.5 L112.8 84.6 L113.3 84.6 L113.8 84.7 L114.3 84.7 L114.8 84.8 L115.3 84.8 L115.8 84.9 L116.3 84.9 L116.8 85.0 L117.3 85.1 L117.8 85.1 L118.3 85.2 L118.8 85.2 L119.3 85.3 L119.8 85.4 L120.3 85.4 L120.8 85.5 L121.3 85.5 L121.8 85.6 L122.3 85.7 L122.8 85.7 L123.3 85.8 L123.8 85.8 L124.3 85.9 L124.8 86.0 L125.3 86.0 L125.8 86.1 L126.3 86.2 L126.8 86.2 L127.3 86.3 L127.8 86.4 L128.3 86.4 L128.8 86.5 L129.3 86.6 L129.8 86.6 L130.3 86.7 L130.8 86.8 L131.3 86.8 L131.8 86.9 L132.3 87.0 L132.8 87.0 L133.3 87.1 L133.8 87.2 L134.3 87.3 L134.8 87.3 L135.3 87.4 L135.8 87.5 L136.3 87.5 L136.8 87.6 L137.3 87.7 L137.8 87.8 L138.3 87.8 L138.8 87.9 L139.3 88.0 L139.8 88.1 L140.3 88.2 L140.8 88.2 L141.3 88.3 L141.8 88.4 L142.3 88.5 L142.8 88.6 L143.3 88.7 L143.8 88.7 L144.3 88.8 L144.8 88.9 L145.3 89.0 L145.8 89.1 L146.3 89.2 L146.8 89.3 L147.3 89.4 L147.8 89.5 L148.3 89.6 L148.8 89.7 L149.3 89.7 L149.8 89.8 L150.3 89.9 L150.8 90.0 L151.3 90.1 L151.8 90.3 L152.3 90.4 L152.8 90.5 L153.3 90.6 L153.8 90.7 L154.3 90.8 L154.8 90.9 L155.3 91.0 L155.8 91.1 L156.3 91.2 L156.8 91.4 L157.3 91.5 L157.8 91.6 L158.3 91.7 L158.8 91.8 L159.3 92.0 L159.8 92.1 L160.3 92.2 L160.8 92.4 L161.3 92.5 L161.8 92.6 L162.3 92.8 L162.8 92.9 L163.3 93.1 L163.8 93.2 L164.3 93.4 L164.8 93.5 L165.3 93.7 L165.8 93.9 L166.3 94.0 L166.8 94.2 L167.3 94.4 L167.8 94.5 L168.3 94.7 L168.8 94.9 L169.3 95.1 L169.8 95.3 L170.3 95.5 L170.8 95.7 L171.3 95.9 L171.8 96.1 L172.3 96.3 L172.8 96.6 L173.3 96.8 L173.8 97.0 L174.3 97.3 L174.8 97.5 L175.3 97.8 L175.8 98.1 L176.3 98.4 L176.8 98.6 L177.3 98.9 L177.8 99.3 L178.3 99.6 L178.8 99.9 L179.3 100.3 L179.8 100.6 L180.3 101.0 L180.8 101.4 L181.3 101.8 L181.8 102.2 L182.3 102.6 L182.8 103.1 L183.3 103.6 L183.8 104.0 L184.3 104.6 L184.8 105.1 L185.3 105.6 L185.8 106.2 L186.3 106.8 L186.8 107.4 L187.3 108.1 L187.8 108.8 L188.3 109.5 L188.8 110.3 L189.3 111.1 L189.8 111.9 L190.3 112.8 L190.8 113.7 L191.3 114.7 L191.8 115.8 L192.3 116.9 L192.5 117.4 L192.6 117.6 L192.7 117.9 L192.8 118.1 L192.9 118.4 L193.0 118.6 L193.1 118.9 L193.2 119.2 L193.3 119.4 L193.4 119.7 L193.5 120.0 L193.6 120.3 L193.7 120.6 L193.8 120.9 L193.9 121.1 L194.0 121.5 L194.1 121.8 L194.2 122.1 L194.3 122.4 L194.4 122.7 L194.5 123.1 L194.6 123.4 L194.7 123.8 L194.8 124.2 L194.9 124.5 L195.0 124.9 L195.1 125.3 L195.2 125.8 L195.3 126.2 L195.4 126.6 L195.5 127.1 L195.6 127.6 L195.7 128.1 L195.8 128.6 L195.9 129.2 L196.0 129.7 L196.1 130.3 L196.2 131.0 L196.3 131.6 L196.4 132.3 L196.5 133.0 L196.6 133.7 L196.7 134.5 L196.8 135.3 L196.9 136.1 L197.0 137.0 L197.1 137.9 L197.2 138.8 L197.3 139.8 L197.4 140.8 L197.5 141.9 L197.6 143.0 L197.7 144.0 L197.8 145.0 L197.9 145.9 L198.0 148.6 L198.1 151.8 L198.2 153.0 L198.3 153.0 L198.4 153.0 L198.5 153.0 L198.6 153.0 L198.7 153.0 L198.8 153.0 L198.9 153.0 L199.0 150.5 L199.1 147.9 L199.2 145.6 L199.3 143.7 L199.4 142.0 L199.5 139.8 L199.6 137.9 L199.7 136.3 L199.8 134.8 L199.9 133.4 L200.0 132.2 L200.1 131.0 L200.2 130.0 L200.3 129.0 L200.4 128.0 L200.5 127.1 L200.6 126.3 L200.7 125.5 L200.8 124.7 L200.9 124.0 L201.0 123.3 L201.1 122.6 L201.2 121.9 L201.3 121.3 L201.4 120.7 L201.5 120.0 L201.6 119.5 L201.7 118.9 L201.8 118.3 L201.9 117.8 L202.0 117.2 L202.1 116.7 L202.2 116.2 L202.3 115.6 L202.4 115.1 L202.5 114.7 L202.6 114.2 L202.7 113.7 L202.8 113.2 L202.9 112.7 L203.0 112.3 L203.1 111.8 L203.2 111.4 L203.3 110.9 L203.4 110.5 L203.5 110.1 L203.6 109.7 L203.7 109.2 L203.8 108.8 L203.9 108.4 L204.0 108.0 L204.1 107.6 L204.2 107.2 L204.3 106.8 L204.4 106.4 L204.5 106.0 L204.5 106.0 L205.0 104.1 L205.5 102.3 L206.0 100.5 L206.5 98.8 L207.0 97.3 L207.5 95.7 L208.0 94.3 L208.5 92.9 L209.0 91.6 L209.5 90.4 L210.0 89.1 L210.5 88.0 L211.0 86.9 L211.5 85.9 L212.0 84.8 L212.5 83.9 L213.0 82.9 L213.5 82.0 L214.0 81.1 L214.5 80.2 L215.0 79.4 L215.5 78.6 L216.0 77.8 L216.5 77.0 L217.0 76.2 L217.5 75.5 L218.0 74.7 L218.5 74.0 L219.0 73.3 L219.5 72.6 L220.0 71.9 L220.5 71.2 L221.0 70.5 L221.5 69.9 L222.0 69.2 L222.5 68.6 L223.0 67.9 L223.5 67.3 L224.0 66.7 L224.5 66.0 L225.0 65.5 L225.5 64.9 L226.0 64.3 L226.5 63.7 L227.0 63.2 L227.5 62.7 L228.0 62.2 L228.5 61.7 L229.0 61.2 L229.5 60.7 L230.0 60.3 L230.5 59.9 L231.0 59.4 L231.5 59.0 L232.0 58.7 L232.5 58.3 L233.0 57.9 L233.5 57.6 L234.0 57.3 L234.5 56.9 L235.0 56.6 L235.5 56.3 L236.0 56.0 L236.5 55.8 L237.0 55.5 L237.5 55.2 L238.0 55.0 L238.5 54.7 L239.0 54.5 L239.5 54.3 L240.0 54.0 L240.5 53.8 L241.0 53.6 L241.5 53.4 L242.0 53.2 L242.5 53.0 L243.0 52.8 L243.5 52.6 L244.0 52.4 L244.5 52.2 L245.0 52.0 L245.5 51.8 L246.0 51.7 L246.5 51.5 L247.0 51.3 L247.5 51.1 L248.0 51.0 L248.5 50.8 L249.0 50.6 L249.5 50.5 L250.0 50.3 L250.5 50.2 L251.0 50.0 L251.5 49.8 L252.0 49.7 L252.5 49.5 L253.0 49.4 L253.5 49.2 L254.0 49.1 L254.5 48.9 L255.0 48.8 L255.5 48.6 L256.0 48.5 L256.5 48.3 L257.0 48.2 L257.5 48.0 L258.0 47.9 L258.5 47.7 L259.0 47.6 L259.5 47.4 L260.0 47.3 L260.5 47.2 L261.0 47.0 L261.5 46.9 L262.0 46.7 L262.5 46.6 L263.0 46.4 L263.5 46.3 L264.0 46.2 L264.5 46.0 L265.0 45.9 L265.5 45.7 L266.0 45.6 L266.5 45.5 L267.0 45.3 L267.5 45.2 L268.0 45.1 L268.5 44.9 L269.0 44.8 L269.5 44.6 L270.0 44.5 L270.5 44.4 L271.0 44.2 L271.5 44.1 L272.0 44.0 L272.5 43.8 L273.0 43.7 L273.5 43.6 L274.0 43.4 L274.5 43.3 L275.0 43.2 L275.5 43.1 L276.0 42.9 L276.5 42.8 L277.0 42.7 L277.5 42.5 L278.0 42.4 L278.5 42.3 L279.0 42.2 L279.5 42.0 L280.0 41.9 L280.5 41.8 L281.0 41.7 L281.5 41.5 L282.0 41.4 L282.5 41.3 L283.0 41.2 L283.5 41.1 L284.0 41.0 L284.5 40.8 L285.0 40.7 L285.5 40.6 L286.0 40.5 L286.5 40.4 L287.0 40.3 L287.5 40.2 L288.0 40.1 L288.5 40.0 L289.0 39.8 L289.5 39.7 L290.0 39.6 L290.5 39.5 L291.0 39.4 L291.5 39.3 L292.0 39.2 L292.5 39.1 L293.0 39.0 L293.5 38.9 L294.0 38.8 L294.5 38.7 L295.0 38.6 L295.5 38.5 L296.0 38.4 L296.5 38.3 L297.0 38.3 L297.5 38.2 L298.0 38.1 L298.5 38.0 L299.0 37.9 L299.5 37.8 L300.0 37.7 L300.5 37.6 L301.0 37.5 L301.5 37.5 L302.0 37.4 L302.5 37.3 L303.0 37.2 L303.5 37.1 L304.0 37.1 L304.5 37.0 L305.0 36.9 L305.5 36.8 L306.0 36.8 L306.5 36.7 L307.0 36.6 L307.5 36.5 L308.0 36.5 L308.5 36.4 L309.0 36.3 L309.5 36.3" stroke="#10f0f0"/>
<path d="M87.3 116.8 L87.8 116.8 L88.3 116.7 L88.8 116.6 L89.3 116.5 L89.8 116.5 L90.3 116.6 L90.8 116.7 L91.3 116.8 L91.8 116.9 L92.3 117.0 L92.8 117.0 L93.3 117.0 L93.8 117.1 L94.3 117.1 L94.8 117.2 L95.3 117.5 L95.8 117.8 L96.3 118.1 L96.8 118.4 L97.3 118.7 L97.8 118.8 L98.3 118.9 L98.8 118.9 L99.3 119.0 L99.8 119.0 L100.3 119.1 L100.8 119.2 L101.3 119.4 L101.8 119.5 L102.3 119.6 L102.8 119.6 L103.3 119.6 L103.8 119.7 L104.3 119.7 L104.8 119.7 L105.3 119.8 L105.8 119.9 L106.3 120.0 L106.8 120.1 L107.3 120.3 L107.8 120.2 L108.3 120.2 L108.8 120.2 L109.3 120.2 L109.8 120.2 L110.3 120.5 L110.8 120.7 L111.3 121.0 L111.8 121.3 L112.3 121.5 L112.8 121.5 L113.3 121.5 L113.8 121.4 L114.3 121.4 L114.8 121.3 L115.3 121.5 L115.8 121.6 L116.3 121.8 L116.8 121.9 L117.3 122.0 L117.8 122.2 L118.3 122.3 L118.8 122.4 L119.3 122.6 L119.8 122.7 L120.3 122.8 L120.8 122.9 L121.3 123.0 L121.8 123.1 L122.3 123.3 L122.8 123.5 L123.3 123.7 L123.8 123.9 L124.3 124.1 L124.8 124.3 L125.3 124.4 L125.8 124.5 L126.3 124.6 L126.8 124.7 L127.3 124.8 L127.8 124.9 L128.3 125.1 L128.8 125.2 L129.3 125.4 L129.8 125.5 L130.3 125.7 L130.8 125.8 L131.3 126.0 L131.8 126.1 L132.3 126.3 L132.8 126.5 L133.3 126.7 L133.8 127.0 L134.3 127.2 L134.8 127.4 L135.3 127.5 L135.8 127.6 L136.3 127.6 L136.8 127.7 L137.3 127.8 L137.8 128.0 L138.3 128.2 L138.8 128.4 L139.3 128.6 L139.8 128.8 L140.3 129.0 L140.8 129.2 L141.3 129.4 L141.8 129.6 L142.3 129.8 L142.8 129.9 L143.3 130.0 L143.8 130.1 L144.3 130.2 L144.8 130.3 L145.3 130.5 L145.8 130.8 L146.3 131.1 L146.8 131.3 L147.3 131.6 L147.8 131.8 L148.3 132.1 L148.8 132.4 L149.3 132.6 L149.8 132.9 L150.3 133.2 L150.8 133.4 L151.3 133.7 L151.8 133.9 L152.3 134.2 L152.8 134.4 L153.3 134.5 L153.8 134.7 L154.3 134.9 L154.8 135.1 L155.3 135.3 L155.8 135.5 L156.3 135.7 L156.8 135.9 L157.3 136.1 L157.8 136.5 L158.3 136.9 L158.8 137.2 L159.3 137.6 L159.8 138.0 L160.3 138.2 L160.8 138.3 L161.3 138.5 L161.8 138.7 L162.3 138.9 L162.8 139.2 L163.3 139.5 L163.8 139.8 L164.3 140.1 L164.8 140.4 L165.3 140.7 L165.8 141.1 L166.3 141.4 L166.8 141.7 L167.3 142.0 L167.8 142.3 L168.3 142.6 L168.8 142.9 L169.3 143.2 L169.8 143.5 L170.3 143.8 L170.8 144.1 L171.3 144.5 L171.8 144.8 L172.3 145.1 L172.8 145.5 L173.3 145.9 L173.8 146.3 L174.3 146.7 L174.8 147.1 L175.3 147.4 L175.8 147.7 L176.3 148.0 L176.8 148.3 L177.3 148.6 L177.8 149.1 L178.3 149.5 L178.8 150.0 L179.3 150.5 L179.8 151.0 L180.3 151.6 L180.8 152.1 L181.3 152.6 L181.8 153.2 L182.3 153.8 L182.8 154.4 L183.3 155.0 L183.8 155.6 L184.3 156.2 L184.8 156.9 L185.3 157.6 L185.8 158.4 L186.3 159.2 L186.8 160.0 L187.3 160.8 L187.8 161.6 L188.3 162.3 L188.8 163.1 L189.3 163.9 L189.8 164.6 L190.3 165.4 L190.8 166.2 L191.3 167.0 L191.8 167.9 L192.3 168.9 L192.5 169.4 L192.6 169.6 L192.7 169.9 L192.8 170.1 L192.9 170.4 L193.0 170.7 L193.1 171.0 L193.2 171.3 L193.3 171.6 L193.4 171.9 L193.5 172.2 L193.6 172.6 L193.7 172.9 L193.8 173.3 L193.9 173.7 L194.0 174.1 L194.1 174.5 L194.2 174.9 L194.3 175.4 L194.4 175.8 L194.5 176.3 L194.6 176.8 L194.7 177.3 L194.8 177.8 L194.9 178.4 L195.0 179.0 L195.1 179.6 L195.2 180.2 L195.3 180.8 L195.4 181.5 L195.5 182.2 L195.6 182.9 L195.7 183.6 L195.8 184.4 L195.9 185.2 L196.0 186.0 L196.1 186.9 L196.2 187.8 L196.3 188.7 L196.4 189.7 L196.5 190.6 L196.6 191.7 L196.7 192.7 L196.8 193.8 L196.9 194.9 L197.0 196.1 L197.1 197.2 L197.2 198.4 L197.3 199.5 L197.4 200.7 L197.5 201.8 L197.6 203.3 L197.7 205.0 L197.8 207.0 L197.9 209.2 L198.0 211.0 L198.1 211.0 L198.2 211.0 L198.3 211.0 L198.4 211.0 L198.5 211.0 L198.6 211.0 L198.7 211.0 L198.8 211.0 L198.9 211.0 L199.0 211.0 L199.1 210.5 L199.2 208.2 L199.3 206.3 L199.4 204.6 L199.5 203.1 L199.6 201.7 L199.7 199.9 L199.8 198.3 L199.9 196.8 L200.0 195.4 L200.1 194.0 L200.2 192.7 L200.3 191.5 L200.4 190.4 L200.5 189.3 L200.6 188.2 L200.7 187.2 L200.8 186.2 L200.9 185.2 L201.0 184.3 L201.1 183.4 L201.2 182.5 L201.3 181.6 L201.4 180.8 L201.5 180.0 L201.6 179.2 L201.7 178.4 L201.8 177.6 L201.9 176.9 L202.0 176.1 L202.1 175.4 L202.2 174.7 L202.3 174.0 L202.4 173.3 L202.5 172.6 L202.6 171.9 L202.7 171.2 L202.8 170.6 L202.9 169.9 L203.0 169.2 L203.1 168.6 L203.2 168.0 L203.3 167.3 L203.4 166.7 L203.5 166.1 L203.6 165.5 L203.7 164.9 L203.8 164.3 L203.9 163.7 L204.0 163.1 L204.1 162.6 L204.2 162.0 L204.3 161.4 L204.4 160.9 L204.5 160.3 L204.5 160.3 L205.0 157.7 L205.5 155.4 L206.0 153.1 L206.5 150.9 L207.0 148.8 L207.5 146.7 L208.0 144.5 L208.5 142.4 L209.0 140.3 L209.5 138.1 L210.0 136.0 L210.5 133.9 L211.0 131.8 L211.5 129.6 L212.0 127.4 L212.5 125.2 L213.0 122.9 L213.5 120.6 L214.0 118.4 L214.5 116.1 L215.0 113.9 L215.5 111.8 L216.0 109.7 L216.5 107.8 L217.0 105.9 L217.5 104.2 L218.0 102.7 L218.5 101.2 L219.0 99.8 L219.5 98.5 L220.0 97.2 L220.5 96.0 L221.0 94.8 L221.5 93.6 L222.0 92.5 L222.5 91.5 L223.0 90.4 L223.5 89.5 L224.0 88.6 L224.5 87.7 L225.0 86.9 L225.5 86.0 L226.0 85.3 L226.5 84.5 L227.0 83.8 L227.5 83.1 L228.0 82.4 L228.5 81.8 L229.0 81.1 L229.5 80.5 L230.0 79.9 L230.5 79.4 L231.0 78.8 L231.5 78.2 L232.0 77.7 L232.5 77.2 L233.0 76.7 L233.5 76.2 L234.0 75.7 L234.5 75.3 L235.0 74.8 L235.5 74.4 L236.0 73.9 L236.5 73.5 L237.0 73.1 L237.5 72.7 L238.0 72.3 L238.5 71.9 L239.0 71.6 L239.5 71.2 L240.0 70.8 L240.5 70.5 L241.0 70.1 L241.5 69.8 L242.0 69.5 L242.5 69.1 L243.0 68.8 L243.5 68.5 L244.0 68.2 L244.5 67.9 L245.0 67.6 L245.5 67.3 L246.0 67.0 L246.5 66.7 L247.0 66.5 L247.5 66.2 L248.0 65.9 L248.5 65.7 L249.0 65.4 L249.5 65.2 L250.0 64.9 L250.5 64.7 L251.0 64.4 L251.5 64.2 L252.0 63.9 L252.5 63.7 L253.0 63.5 L253.5 63.2 L254.0 63.0 L254.5 62.8 L255.0 62.6 L255.5 62.4 L256.0 62.2 L256.5 62.0 L257.0 61.7 L257.5 61.5 L258.0 61.3 L258.5 61.1 L259.0 60.9 L259.5 60.7 L260.0 60.6 L260.5 60.4 L261.0 60.2 L261.5 60.0 L262.0 59.8 L262.5 59.6 L263.0 59.4 L263.5 59.3 L264.0 59.1 L264.5 58.9 L265.0 58.7 L265.5 58.6 L266.0 58.4 L266.5 58.2 L267.0 58.1 L267.5 57.9 L268.0 57.7 L268.5 57.6 L269.0 57.4 L269.5 57.2 L270.0 57.1 L270.5 56.9 L271.0 56.8 L271.5 56.6 L272.0 56.5 L272.5 56.3 L273.0 56.2 L273.5 56.0 L274.0 55.9 L274.5 55.7 L275.0 55.6 L275.5 55.4 L276.0 55.3 L276.5 55.1 L277.0 55.0 L277.5 54.8 L278.0 54.7 L278.5 54.6 L279.0 54.4 L279.5 54.3 L280.0 54.1 L280.5 54.0 L281.0 53.9 L281.5 53.7 L282.0 53.6 L282.5 53.5 L283.0 53.3 L283.5 53.2 L284.0 53.1 L284.5 52.9 L285.0 52.8 L285.5 52.7 L286.0 52.5 L286.5 52.4 L287.0 52.3 L287.5 52.2 L288.0 52.0 L288.5 51.9 L289.0 51.8 L289.5 51.6 L290.0 51.5 L290.5 51.4 L291.0 51.3 L291.5 51.2 L292.0 51.0 L292.5 50.9 L293.0 50.8 L293.5 50.7 L294.0 50.5 L294.5 50.4 L295.0 50.3 L295.5 50.2 L296.0 50.1 L296.5 49.9 L297.0 49.8 L297.5 49.7 L298.0 49.6 L298.5 49.5 L299.0 49.4 L299.5 49.2 L300.0 49.1 L300.5 49.0 L301.0 48.9 L301.5 48.8 L302.0 48.7 L302.5 48.6 L303.0 48.4 L303.5 48.3 L304.0 48.2 L304.5 48.1 L305.0 48.0 L305.5 47.9 L306.0 47.8 L306.5 47.6 L307.0 47.5 L307.5 47.4 L308.0 47.3 L308.5 47.2 L309.0 47.1 L309.5 47.0" stroke="#1010ff"/>
<path d="M87.3 116.4 L87.8 116.4 L88.3 116.4 L88.8 116.4 L89.3 116.5 L89.8 116.5 L90.3 116.6 L90.8 116.7 L91.3 116.8 L91.8 117.0 L92.3 117.1 L92.8 117.1 L93.3 117.2 L93.8 117.2 L94.3 117.2 L94.8 117.3 L95.3 117.3 L95.8 117.4 L96.3 117.5 L96.8 117.5 L97.3 117.6 L97.8 117.6 L98.3 117.6 L98.8 117.6 L99.3 117.6 L99.8 117.6 L100.3 117.7 L100.8 117.8 L101.3 118.0 L101.8 118.1 L102.3 118.2 L102.8 118.3 L103.3 118.4 L103.8 118.5 L104.3 118.5 L104.8 118.6 L105.3 118.7 L105.8 118.7 L106.3 118.8 L106.8 118.8 L107.3 118.8 L107.8 119.0 L108.3 119.1 L108.8 119.3 L109.3 119.4 L109.8 119.6 L110.3 119.7 L110.8 119.9 L111.3 120.0 L111.8 120.1 L112.3 120.3 L112.8 120.3 L113.3 120.3 L113.8 120.2 L114.3 120.2 L114.8 120.2 L115.3 120.3 L115.8 120.4 L116.3 120.5 L116.8 120.6 L117.3 120.7 L117.8 120.9 L118.3 121.0 L118.8 121.2 L119.3 121.3 L119.8 121.5 L120.3 121.5 L120.8 121.5 L121.3 121.5 L121.8 121.5 L122.3 121.5 L122.8 121.6 L123.3 121.8 L123.8 121.9 L124.3 122.1 L124.8 122.2 L125.3 122.2 L125.8 122.1 L126.3 122.1 L126.8 122.0 L127.3 122.0 L127.8 122.1 L128.3 122.2 L128.8 122.4 L129.3 122.5 L129.8 122.7 L130.3 122.8 L130.8 123.0 L131.3 123.2 L131.8 123.4 L132.3 123.6 L132.8 123.6 L133.3 123.7 L133.8 123.8 L134.3 123.8 L134.8 123.9 L135.3 124.0 L135.8 124.0 L136.3 124.1 L136.8 124.2 L137.3 124.2 L137.8 124.4 L138.3 124.6 L138.8 124.7 L139.3 124.9 L139.8 125.1 L140.3 125.1 L140.8 125.2 L141.3 125.3 L141.8 125.4 L142.3 125.5 L142.8 125.6 L143.3 125.7 L143.8 125.9 L144.3 126.0 L144.8 126.1 L145.3 126.2 L145.8 126.3 L146.3 126.4 L146.8 126.5 L147.3 126.5 L147.8 126.7 L148.3 126.9 L148.8 127.1 L149.3 127.2 L149.8 127.4 L150.3 127.6 L150.8 127.7 L151.3 127.9 L151.8 128.0 L152.3 128.2 L152.8 128.3 L153.3 128.4 L153.8 128.5 L154.3 128.6 L154.8 128.7 L155.3 128.8 L155.8 128.9 L156.3 129.0 L156.8 129.0 L157.3 129.1 L157.8 129.4 L158.3 129.7 L158.8 130.0 L159.3 130.3 L159.8 130.7 L160.3 131.0 L160.8 131.4 L161.3 131.7 L161.8 132.1 L162.3 132.4 L162.8 132.3 L163.3 132.3 L163.8 132.2 L164.3 132.1 L164.8 132.0 L165.3 132.4 L165.8 132.7 L166.3 133.1 L166.8 133.4 L167.3 133.8 L167.8 134.1 L168.3 134.4 L168.8 134.7 L169.3 135.0 L169.8 135.4 L170.3 135.7 L170.8 136.0 L171.3 136.4 L171.8 136.7 L172.3 137.1 L172.8 137.5 L173.3 137.9 L173.8 138.3 L174.3 138.7 L174.8 139.1 L175.3 139.5 L175.8 139.8 L176.3 140.2 L176.8 140.6 L177.3 141.0 L177.8 141.4 L178.3 141.8 L178.8 142.1 L179.3 142.5 L179.8 142.9 L180.3 143.3 L180.8 143.7 L181.3 144.2 L181.8 144.6 L182.3 145.1 L182.8 145.6 L183.3 146.1 L183.8 146.7 L184.3 147.4 L184.8 148.2 L185.3 149.2 L185.8 150.3 L186.3 151.5 L186.8 152.7 L187.3 153.9 L187.8 155.0 L188.3 156.1 L188.8 157.2 L189.3 158.3 L189.8 159.5 L190.3 160.7 L190.8 161.9 L191.3 163.1 L191.8 164.4 L192.3 165.7 L192.5 166.2 L192.6 166.5 L192.7 166.8 L192.8 167.0 L192.9 167.3 L193.0 167.6 L193.1 167.9 L193.2 168.2 L193.3 168.4 L193.4 168.8 L193.5 169.1 L193.6 169.4 L193.7 169.7 L193.8 170.1 L193.9 170.4 L194.0 170.8 L194.1 171.1 L194.2 171.5 L194.3 171.9 L194.4 172.3 L194.5 172.7 L194.6 173.1 L194.7 173.6 L194.8 174.0 L194.9 174.5 L195.0 175.0 L195.1 175.5 L195.2 176.0 L195.3 176.5 L195.4 177.1 L195.5 177.7 L195.6 178.2 L195.7 178.9 L195.8 179.5 L195.9 180.1 L196.0 180.8 L196.1 181.5 L196.2 182.3 L196.3 183.0 L196.4 183.8 L196.5 184.6 L196.6 185.5 L196.7 186.4 L196.8 187.3 L196.9 188.3 L197.0 189.3 L197.1 190.4 L197.2 191.5 L197.3 192.6 L197.4 193.9 L197.5 195.2 L197.6 196.5 L197.7 197.9 L197.8 199.8 L197.9 202.1 L198.0 204.8 L198.1 207.0 L198.2 207.0 L198.3 207.0 L198.4 207.0 L198.5 207.0 L198.6 207.0 L198.7 207.0 L198.8 206.0 L198.9 201.8 L199.0 198.6 L199.1 195.9 L199.2 193.7 L199.3 191.8 L199.4 190.1 L199.5 186.8 L199.6 184.2 L199.7 181.9 L199.8 179.9 L199.9 178.2 L200.0 176.6 L200.1 175.3 L200.2 174.0 L200.3 172.9 L200.4 171.8 L200.5 170.9 L200.6 170.0 L200.7 169.1 L200.8 168.3 L200.9 167.6 L201.0 166.9 L201.1 166.2 L201.2 165.5 L201.3 164.9 L201.4 164.3 L201.5 163.7 L201.6 163.1 L201.7 162.6 L201.8 162.1 L201.9 161.5 L202.0 161.0 L202.1 160.5 L202.2 160.0 L202.3 159.6 L202.4 159.1 L202.5 158.7 L202.6 158.2 L202.7 157.8 L202.8 157.3 L202.9 156.9 L203.0 156.5 L203.1 156.1 L203.2 155.7 L203.3 155.3 L203.4 154.9 L203.5 154.5 L203.6 154.1 L203.7 153.7 L203.8 153.3 L203.9 152.9 L204.0 152.5 L204.1 152.2 L204.2 151.8 L204.3 151.4 L204.4 151.1 L204.5 150.7 L204.5 150.7 L205.0 149.0 L205.5 147.3 L206.0 145.8 L206.5 144.3 L207.0 142.8 L207.5 141.4 L208.0 139.9 L208.5 138.5 L209.0 137.1 L209.5 135.8 L210.0 134.5 L210.5 133.3 L211.0 132.1 L211.5 131.0 L212.0 129.8 L212.5 128.7 L213.0 127.6 L213.5 126.5 L214.0 125.4 L214.5 124.4 L215.0 123.3 L215.5 122.3 L216.0 121.3 L216.5 120.2 L217.0 119.2 L217.5 118.2 L218.0 117.3 L218.5 116.3 L219.0 115.4 L219.5 114.4 L220.0 113.5 L220.5 112.6 L221.0 111.8 L221.5 111.0 L222.0 110.1 L222.5 109.2 L223.0 108.3 L223.5 107.4 L224.0 106.6 L224.5 105.7 L225.0 104.8 L225.5 104.0 L226.0 103.1 L226.5 102.3 L227.0 101.5 L227.5 100.8 L228.0 100.0 L228.5 99.3 L229.0 98.6 L229.5 97.9 L230.0 97.3 L230.5 96.6 L231.0 96.0 L231.5 95.4 L232.0 94.8 L232.5 94.3 L233.0 93.8 L233.5 93.3 L234.0 92.8 L234.5 92.3 L235.0 91.8 L235.5 91.4 L236.0 91.0 L236.5 90.5 L237.0 90.1 L237.5 89.7 L238.0 89.4 L238.5 89.0 L239.0 88.6 L239.5 88.3 L240.0 87.9 L240.5 87.6 L241.0 87.3 L241.5 87.0 L242.0 86.6 L242.5 86.3 L243.0 86.1 L243.5 85.8 L244.0 85.5 L244.5 85.2 L245.0 84.9 L245.5 84.7 L246.0 84.4 L246.5 84.1 L247.0 83.9 L247.5 83.7 L248.0 83.4 L248.5 83.2 L249.0 82.9 L249.5 82.7 L250.0 82.5 L250.5 82.3 L251.0 82.0 L251.5 81.8 L252.0 81.6 L252.5 81.4 L253.0 81.2 L253.5 81.0 L254.0 80.8 L254.5 80.6 L255.0 80.4 L255.5 80.2 L256.0 80.0 L256.5 79.9 L257.0 79.7 L257.5 79.5 L258.0 79.3 L258.5 79.1 L259.0 79.0 L259.5 78.8 L260.0 78.6 L260.5 78.4 L261.0 78.3 L261.5 78.1 L262.0 78.0 L262.5 77.8 L263.0 77.6 L263.5 77.5 L264.0 77.3 L264.5 77.1 L265.0 77.0 L265.5 76.8 L266.0 76.7 L266.5 76.5 L267.0 76.4 L267.5 76.2 L268.0 76.1 L268.5 75.9 L269.0 75.8 L269.5 75.6 L270.0 75.5 L270.5 75.3 L271.0 75.2 L271.5 75.1 L272.0 74.9 L272.5 74.8 L273.0 74.6 L273.5 74.5 L274.0 74.4 L274.5 74.2 L275.0 74.1 L275.5 73.9 L276.0 73.8 L276.5 73.7 L277.0 73.5 L277.5 73.4 L278.0 73.3 L278.5 73.1 L279.0 73.0 L279.5 72.9 L280.0 72.7 L280.5 72.6 L281.0 72.5 L281.5 72.3 L282.0 72.2 L282.5 72.1 L283.0 71.9 L283.5 71.8 L284.0 71.7 L284.5 71.5 L285.0 71.4 L285.5 71.3 L286.0 71.2 L286.5 71.0 L287.0 70.9 L287.5 70.8 L288.0 70.6 L288.5 70.5 L289.0 70.4 L289.5 70.3 L290.0 70.1 L290.5 70.0 L291.0 69.9 L291.5 69.7 L292.0 69.6 L292.5 69.5 L293.0 69.4 L293.5 69.2 L294.0 69.1 L294.5 69.0 L295.0 68.9 L295.5 68.7 L296.0 68.6 L296.5 68.5 L297.0 68.4 L297.5 68.2 L298.0 68.1 L298.5 68.0 L299.0 67.9 L299.5 67.7 L300.0 67.6 L300.5 67.5 L301.0 67.3 L301.5 67.2 L302.0 67.1 L302.5 67.0 L303.0 66.8 L303.5 66.7 L304.0 66.6 L304.5 66.5 L305.0 66.3 L305.5 66.2 L306.0 66.1 L306.5 66.0 L307.0 65.8 L307.5 65.7 L308.0 65.6 L308.5 65.5 L309.0 65.3 L309.5 65.2" stroke="#10ee10"/>
<path d="M87.3 108.4 L87.8 108.3 L88.3 108.3 L88.8 108.3 L89.3 108.2 L89.8 108.2 L90.3 108.2 L90.8 108.3 L91.3 108.3 L91.8 108.4 L92.3 108.5 L92.8 108.5 L93.3 108.6 L93.8 108.7 L94.3 108.7 L94.8 108.8 L95.3 108.8 L95.8 108.9 L96.3 108.9 L96.8 108.9 L97.3 108.9 L97.8 108.9 L98.3 108.9 L98.8 108.9 L99.3 108.9 L99.8 109.0 L100.3 109.1 L100.8 109.1 L101.3 109.2 L101.8 109.3 L102.3 109.3 L102.8 109.4 L103.3 109.4 L103.8 109.5 L104.3 109.5 L104.8 109.5 L105.3 109.6 L105.8 109.6 L106.3 109.7 L106.8 109.7 L107.3 109.8 L107.8 109.8 L108.3 109.9 L108.8 109.9 L109.3 110.0 L109.8 110.0 L110.3 110.1 L110.8 110.1 L111.3 110.2 L111.8 110.2 L112.3 110.3 L112.8 110.4 L113.3 110.5 L113.8 110.5 L114.3 110.6 L114.8 110.7 L115.3 110.8 L115.8 110.9 L116.3 111.0 L116.8 111.0 L117.3 111.1 L117.8 111.1 L118.3 111.2 L118.8 111.2 L119.3 111.2 L119.8 111.2 L120.3 111.2 L120.8 111.3 L121.3 111.5 L121.8 111.6 L122.3 111.7 L122.8 111.8 L123.3 112.0 L123.8 112.0 L124.3 112.1 L124.8 112.1 L125.3 112.2 L125.8 112.3 L126.3 112.3 L126.8 112.4 L127.3 112.5 L127.8 112.6 L128.3 112.7 L128.8 112.8 L129.3 112.9 L129.8 112.9 L130.3 113.0 L130.8 113.0 L131.3 113.1 L131.8 113.2 L132.3 113.2 L132.8 113.3 L133.3 113.5 L133.8 113.6 L134.3 113.7 L134.8 113.9 L135.3 114.0 L135.8 114.1 L136.3 114.3 L136.8 114.4 L137.3 114.6 L137.8 114.7 L138.3 114.8 L138.8 114.9 L139.3 114.9 L139.8 115.0 L140.3 115.0 L140.8 115.1 L141.3 115.1 L141.8 115.2 L142.3 115.3 L142.8 115.4 L143.3 115.5 L143.8 115.6 L144.3 115.7 L144.8 115.8 L145.3 116.0 L145.8 116.1 L146.3 116.2 L146.8 116.4 L147.3 116.5 L147.8 116.7 L148.3 116.9 L148.8 117.1 L149.3 117.3 L149.8 117.5 L150.3 117.6 L150.8 117.8 L151.3 118.0 L151.8 118.2 L152.3 118.4 L152.8 118.7 L153.3 118.9 L153.8 119.0 L154.3 119.1 L154.8 119.2 L155.3 119.4 L155.8 119.5 L156.3 119.6 L156.8 119.8 L157.3 120.0 L157.8 120.2 L158.3 120.4 L158.8 120.6 L159.3 120.8 L159.8 120.9 L160.3 121.1 L160.8 121.2 L161.3 121.4 L161.8 121.6 L162.3 121.7 L162.8 122.0 L163.3 122.2 L163.8 122.5 L164.3 122.7 L164.8 123.0 L165.3 123.2 L165.8 123.4 L166.3 123.6 L166.8 123.8 L167.3 124.0 L167.8 124.3 L168.3 124.5 L168.8 124.8 L169.3 125.1 L169.8 125.4 L170.3 125.7 L170.8 126.0 L171.3 126.3 L171.8 126.6 L172.3 126.9 L172.8 127.2 L173.3 127.5 L173.8 127.8 L174.3 128.2 L174.8 128.5 L175.3 128.9 L175.8 129.3 L176.3 129.7 L176.8 130.1 L177.3 130.5 L177.8 131.0 L178.3 131.4 L178.8 131.9 L179.3 132.4 L179.8 133.0 L180.3 133.5 L180.8 134.0 L181.3 134.6 L181.8 135.2 L182.3 135.8 L182.8 136.4 L183.3 137.0 L183.8 137.7 L184.3 138.5 L184.8 139.3 L185.3 140.1 L185.8 140.9 L186.3 141.8 L186.8 142.6 L187.3 143.5 L187.8 144.4 L188.3 145.3 L188.8 146.3 L189.3 147.3 L189.8 148.4 L190.3 149.5 L190.8 150.7 L191.3 151.9 L191.8 153.2 L192.3 154.5 L192.5 155.0 L192.6 155.2 L192.7 155.5 L192.8 155.7 L192.9 156.0 L193.0 156.2 L193.1 156.5 L193.2 156.8 L193.3 157.0 L193.4 157.3 L193.5 157.5 L193.6 157.8 L193.7 158.0 L193.8 158.3 L193.9 158.6 L194.0 158.8 L194.1 159.1 L194.2 159.4 L194.3 159.7 L194.4 160.0 L194.5 160.3 L194.6 160.7 L194.7 161.0 L194.8 161.4 L194.9 161.8 L195.0 162.3 L195.1 162.7 L195.2 163.3 L195.3 163.8 L195.4 164.4 L195.5 165.1 L195.6 165.9 L195.7 166.7 L195.8 167.6 L195.9 168.5 L196.0 169.5 L196.1 170.6 L196.2 171.8 L196.3 173.0 L196.4 174.3 L196.5 175.6 L196.6 177.0 L196.7 178.5 L196.8 180.0 L196.9 181.5 L197.0 183.0 L197.1 184.4 L197.2 185.7 L197.3 186.9 L197.4 187.7 L197.5 188.0 L197.6 187.7 L197.7 186.2 L197.8 188.0 L197.9 188.0 L198.0 188.0 L198.1 188.0 L198.2 188.0 L198.3 188.0 L198.4 188.0 L198.5 188.0 L198.6 188.0 L198.7 188.0 L198.8 188.0 L198.9 188.0 L199.0 186.5 L199.1 183.9 L199.2 181.7 L199.3 179.7 L199.4 178.0 L199.5 176.8 L199.6 175.8 L199.7 174.8 L199.8 173.8 L199.9 173.0 L200.0 172.1 L200.1 171.3 L200.2 170.6 L200.3 169.8 L200.4 169.1 L200.5 168.5 L200.6 167.8 L200.7 167.2 L200.8 166.6 L200.9 166.0 L201.0 165.4 L201.1 164.8 L201.2 164.3 L201.3 163.7 L201.4 163.2 L201.5 162.7 L201.6 162.2 L201.7 161.7 L201.8 161.2 L201.9 160.7 L202.0 160.2 L202.1 159.8 L202.2 159.3 L202.3 158.9 L202.4 158.4 L202.5 158.0 L202.6 157.6 L202.7 157.2 L202.8 156.7 L202.9 156.3 L203.0 155.9 L203.1 155.5 L203.2 155.1 L203.3 154.7 L203.4 154.3 L203.5 154.0 L203.6 153.6 L203.7 153.2 L203.8 152.8 L203.9 152.5 L204.0 152.1 L204.1 151.8 L204.2 151.4 L204.3 151.0 L204.4 150.7 L204.5 150.3 L204.5 150.3 L205.0 148.6 L205.5 147.0 L206.0 145.4 L206.5 143.9 L207.0 142.4 L207.5 141.0 L208.0 139.6 L208.5 138.2 L209.0 136.9 L209.5 135.6 L210.0 134.3 L210.5 133.1 L211.0 131.9 L211.5 130.8 L212.0 129.6 L212.5 128.5 L213.0 127.4 L213.5 126.4 L214.0 125.3 L214.5 124.3 L215.0 123.3 L215.5 122.3 L216.0 121.3 L216.5 120.4 L217.0 119.4 L217.5 118.5 L218.0 117.6 L218.5 116.7 L219.0 115.8 L219.5 114.9 L220.0 114.0 L220.5 113.1 L221.0 112.2 L221.5 111.3 L222.0 110.4 L222.5 109.5 L223.0 108.6 L223.5 107.7 L224.0 106.8 L224.5 106.0 L225.0 105.1 L225.5 104.3 L226.0 103.4 L226.5 102.6 L227.0 101.8 L227.5 101.1 L228.0 100.3 L228.5 99.6 L229.0 98.9 L229.5 98.2 L230.0 97.5 L230.5 96.9 L231.0 96.3 L231.5 95.7 L232.0 95.2 L232.5 94.6 L233.0 94.1 L233.5 93.6 L234.0 93.1 L234.5 92.7 L235.0 92.2 L235.5 91.8 L236.0 91.4 L236.5 91.0 L237.0 90.6 L237.5 90.2 L238.0 89.9 L238.5 89.5 L239.0 89.2 L239.5 88.8 L240.0 88.5 L240.5 88.2 L241.0 87.9 L241.5 87.6 L242.0 87.3 L242.5 87.0 L243.0 86.7 L243.5 86.5 L244.0 86.2 L244.5 85.9 L245.0 85.7 L245.5 85.4 L246.0 85.2 L246.5 84.9 L247.0 84.7 L247.5 84.5 L248.0 84.2 L248.5 84.0 L249.0 83.8 L249.5 83.6 L250.0 83.4 L250.5 83.2 L251.0 83.0 L251.5 82.8 L252.0 82.6 L252.5 82.4 L253.0 82.2 L253.5 82.0 L254.0 81.8 L254.5 81.6 L255.0 81.4 L255.5 81.3 L256.0 81.1 L256.5 80.9 L257.0 80.7 L257.5 80.6 L258.0 80.4 L258.5 80.2 L259.0 80.1 L259.5 79.9 L260.0 79.8 L260.5 79.6 L261.0 79.5 L261.5 79.3 L262.0 79.1 L262.5 79.0 L263.0 78.8 L263.5 78.7 L264.0 78.6 L264.5 78.4 L265.0 78.3 L265.5 78.1 L266.0 78.0 L266.5 77.8 L267.0 77.7 L267.5 77.6 L268.0 77.4 L268.5 77.3 L269.0 77.2 L269.5 77.0 L270.0 76.9 L270.5 76.8 L271.0 76.6 L271.5 76.5 L272.0 76.4 L272.5 76.3 L273.0 76.1 L273.5 76.0 L274.0 75.9 L274.5 75.8 L275.0 75.6 L275.5 75.5 L276.0 75.4 L276.5 75.3 L277.0 75.2 L277.5 75.0 L278.0 74.9 L278.5 74.8 L279.0 74.7 L279.5 74.6 L280.0 74.4 L280.5 74.3 L281.0 74.2 L281.5 74.1 L282.0 74.0 L282.5 73.9 L283.0 73.7 L283.5 73.6 L284.0 73.5 L284.5 73.4 L285.0 73.3 L285.5 73.2 L286.0 73.1 L286.5 72.9 L287.0 72.8 L287.5 72.7 L288.0 72.6 L288.5 72.5 L289.0 72.4 L289.5 72.3 L290.0 72.2 L290.5 72.1 L291.0 72.0 L291.5 71.8 L292.0 71.7 L292.5 71.6 L293.0 71.5 L293.5 71.4 L294.0 71.3 L294.5 71.2 L295.0 71.1 L295.5 71.0 L296.0 70.9 L296.5 70.8 L297.0 70.6 L297.5 70.5 L298.0 70.4 L298.5 70.3 L299.0 70.2 L299.5 70.1 L300.0 70.0 L300.5 69.9 L301.0 69.8 L301.5 69.7 L302.0 69.6 L302.5 69.5 L303.0 69.4 L303.5 69.3 L304.0 69.1 L304.5 69.0 L305.0 68.9 L305.5 68.8 L306.0 68.7 L306.5 68.6 L307.0 68.5 L307.5 68.4 L308.0 68.3 L308.5 68.2 L309.0 68.1 L309.5 68.0" stroke="#ff1010"/>
<path d="M87.3 151.9 L87.8 151.9 L88.3 151.8 L88.8 151.7 L89.3 151.4 L89.8 151.2 L90.3 151.5 L90.8 151.9 L91.3 152.1 L91.8 152.1 L92.3 152.1 L92.8 152.2 L93.3 152.2 L93.8 152.4 L94.3 152.6 L94.8 152.8 L95.3 152.9 L95.8 152.9 L96.3 152.8 L96.8 152.6 L97.3 152.5 L97.8 152.5 L98.3 152.4 L98.8 152.5 L99.3 152.5 L99.8 152.7 L100.3 152.9 L100.8 153.1 L101.3 153.2 L101.8 153.2 L102.3 153.1 L102.8 153.0 L103.3 153.1 L103.8 153.3 L104.3 153.6 L104.8 154.0 L105.3 154.4 L105.8 154.5 L106.3 154.7 L106.8 154.6 L107.3 154.4 L107.8 154.3 L108.3 154.2 L108.8 154.2 L109.3 154.4 L109.8 154.6 L110.3 154.7 L110.8 154.5 L111.3 154.4 L111.8 154.6 L112.3 154.7 L112.8 154.9 L113.3 155.1 L113.8 155.2 L114.3 155.1 L114.8 155.1 L115.3 155.1 L115.8 155.2 L116.3 155.3 L116.8 155.4 L117.3 155.6 L117.8 155.5 L118.3 155.3 L118.8 155.3 L119.3 155.3 L119.8 155.4 L120.3 155.4 L120.8 155.6 L121.3 155.8 L121.8 156.1 L122.3 156.4 L122.8 156.6 L123.3 156.8 L123.8 156.9 L124.3 157.0 L124.8 157.1 L125.3 157.1 L125.8 157.2 L126.3 157.4 L126.8 157.5 L127.3 157.6 L127.8 157.7 L128.3 157.8 L128.8 158.0 L129.3 158.1 L129.8 158.3 L130.3 158.5 L130.8 158.4 L131.3 158.0 L131.8 157.9 L132.3 158.3 L132.8 158.8 L133.3 158.9 L133.8 158.9 L134.3 158.9 L134.8 158.9 L135.3 159.0 L135.8 159.3 L136.3 159.7 L136.8 160.0 L137.3 160.2 L137.8 160.5 L138.3 160.8 L138.8 161.1 L139.3 161.1 L139.8 160.9 L140.3 161.0 L140.8 161.3 L141.3 161.6 L141.8 161.7 L142.3 161.9 L142.8 161.8 L143.3 161.8 L143.8 161.7 L144.3 161.9 L144.8 162.2 L145.3 162.7 L145.8 163.1 L146.3 163.5 L146.8 163.8 L147.3 164.1 L147.8 164.4 L148.3 164.6 L148.8 164.8 L149.3 165.0 L149.8 165.2 L150.3 165.4 L150.8 165.5 L151.3 165.6 L151.8 165.7 L152.3 165.9 L152.8 166.2 L153.3 166.4 L153.8 166.4 L154.3 166.4 L154.8 166.6 L155.3 167.0 L155.8 167.3 L156.3 167.6 L156.8 167.9 L157.3 168.0 L157.8 168.0 L158.3 168.2 L158.8 168.9 L159.3 169.5 L159.8 169.5 L160.3 169.5 L160.8 169.7 L161.3 170.1 L161.8 170.5 L162.3 171.0 L162.8 171.7 L163.3 171.9 L163.8 172.0 L164.3 172.2 L164.8 172.6 L165.3 173.1 L165.8 173.7 L166.3 174.3 L166.8 174.5 L167.3 174.5 L167.8 174.6 L168.3 175.0 L168.8 175.4 L169.3 175.9 L169.8 176.3 L170.3 176.8 L170.8 177.1 L171.3 177.5 L171.8 177.8 L172.3 178.1 L172.8 178.4 L173.3 178.6 L173.8 178.9 L174.3 179.4 L174.8 179.9 L175.3 180.3 L175.8 180.7 L176.3 181.0 L176.8 181.4 L177.3 181.8 L177.8 182.1 L178.3 182.4 L178.8 182.8 L179.3 183.3 L179.8 183.8 L180.3 184.1 L180.8 184.4 L181.3 185.1 L181.8 185.9 L182.3 186.4 L182.8 186.5 L183.3 186.7 L183.8 187.6 L184.3 188.4 L184.8 189.2 L185.3 189.9 L185.8 190.5 L186.3 190.7 L186.8 190.9 L187.3 191.4 L187.8 192.0 L188.3 192.7 L188.8 193.3 L189.3 194.0 L189.8 195.0 L190.3 196.1 L190.8 196.9 L191.3 197.7 L191.8 198.7 L192.3 199.9 L192.5 200.5 L192.6 200.8 L192.7 201.0 L192.8 201.3 L192.9 201.6 L193.0 201.9 L193.1 202.2 L193.2 202.5 L193.3 202.8 L193.4 203.1 L193.5 203.4 L193.6 203.7 L193.7 204.0 L193.8 204.4 L193.9 204.7 L194.0 205.1 L194.1 205.5 L194.2 205.8 L194.3 206.3 L194.4 206.7 L194.5 207.1 L194.6 207.6 L194.7 208.0 L194.8 208.5 L194.9 209.0 L195.0 209.5 L195.1 210.0 L195.2 210.6 L195.3 211.1 L195.4 211.7 L195.5 212.4 L195.6 213.0 L195.7 213.7 L195.8 214.4 L195.9 215.1 L196.0 215.9 L196.1 216.7 L196.2 217.6 L196.3 218.5 L196.4 219.4 L196.5 220.4 L196.6 221.3 L196.7 222.3 L196.8 223.3 L196.9 224.4 L197.0 225.5 L197.1 226.8 L197.2 228.0 L197.3 229.4 L197.4 230.8 L197.5 232.3 L197.6 233.8 L197.7 235.4 L197.8 237.0 L197.9 238.5 L198.0 239.8 L198.1 240.4 L198.2 241.8 L198.3 241.8 L198.4 241.8 L198.5 241.8 L198.6 241.8 L198.7 241.8 L198.8 241.8 L198.9 240.0 L199.0 241.8 L199.1 241.8 L199.2 241.8 L199.3 241.8 L199.4 241.2 L199.5 239.4 L199.6 237.5 L199.7 235.5 L199.8 233.5 L199.9 231.5 L200.0 229.6 L200.1 227.7 L200.2 225.9 L200.3 224.1 L200.4 222.5 L200.5 220.8 L200.6 219.3 L200.7 217.8 L200.8 216.3 L200.9 214.9 L201.0 213.6 L201.1 212.3 L201.2 211.1 L201.3 209.9 L201.4 208.8 L201.5 207.6 L201.6 206.6 L201.7 205.5 L201.8 204.5 L201.9 203.6 L202.0 202.6 L202.1 201.7 L202.2 200.9 L202.3 200.0 L202.4 199.2 L202.5 198.4 L202.6 197.7 L202.7 197.1 L202.8 196.4 L202.9 195.8 L203.0 195.2 L203.1 194.6 L203.2 194.0 L203.3 193.5 L203.4 193.0 L203.5 192.4 L203.6 191.9 L203.7 191.4 L203.8 190.9 L203.9 190.4 L204.0 189.9 L204.1 189.4 L204.2 188.9 L204.3 188.4 L204.4 188.0 L204.5 187.5 L204.5 187.5 L205.0 185.3 L205.5 183.2 L206.0 181.2 L206.5 179.1 L207.0 177.0 L207.5 174.9 L208.0 172.8 L208.5 170.7 L209.0 168.7 L209.5 166.9 L210.0 165.0 L210.5 163.2 L211.0 161.5 L211.5 159.7 L212.0 158.0 L212.5 156.3 L213.0 154.6 L213.5 153.1 L214.0 151.6 L214.5 150.1 L215.0 148.6 L215.5 147.1 L216.0 145.6 L216.5 144.0 L217.0 142.6 L217.5 141.4 L218.0 140.2 L218.5 138.8 L219.0 137.4 L219.5 136.0 L220.0 134.9 L220.5 133.8 L221.0 132.9 L221.5 132.0 L222.0 131.0 L222.5 130.0 L223.0 129.1 L223.5 128.2 L224.0 127.3 L224.5 126.4 L225.0 125.6 L225.5 124.8 L226.0 124.0 L226.5 123.2 L227.0 122.5 L227.5 121.7 L228.0 121.0 L228.5 120.3 L229.0 119.7 L229.5 119.0 L230.0 118.4 L230.5 117.8 L231.0 117.2 L231.5 116.6 L232.0 116.1 L232.5 115.5 L233.0 115.0 L233.5 114.5 L234.0 114.0 L234.5 113.5 L235.0 113.0 L235.5 112.6 L236.0 112.1 L236.5 111.7 L237.0 111.3 L237.5 110.8 L238.0 110.4 L238.5 110.0 L239.0 109.6 L239.5 109.3 L240.0 108.9 L240.5 108.5 L241.0 108.2 L241.5 107.8 L242.0 107.5 L242.5 107.1 L243.0 106.8 L243.5 106.5 L244.0 106.2 L244.5 105.9 L245.0 105.6 L245.5 105.3 L246.0 105.0 L246.5 104.7 L247.0 104.4 L247.5 104.1 L248.0 103.9 L248.5 103.6 L249.0 103.3 L249.5 103.1 L250.0 102.8 L250.5 102.6 L251.0 102.3 L251.5 102.1 L252.0 101.8 L252.5 101.6 L253.0 101.4 L253.5 101.1 L254.0 100.9 L254.5 100.7 L255.0 100.5 L255.5 100.3 L256.0 100.1 L256.5 99.8 L257.0 99.6 L257.5 99.4 L258.0 99.2 L258.5 99.0 L259.0 98.8 L259.5 98.6 L260.0 98.5 L260.5 98.3 L261.0 98.1 L261.5 97.9 L262.0 97.7 L262.5 97.5 L263.0 97.4 L263.5 97.2 L264.0 97.0 L264.5 96.8 L265.0 96.7 L265.5 96.5 L266.0 96.3 L266.5 96.2 L267.0 96.0 L267.5 95.8 L268.0 95.7 L268.5 95.5 L269.0 95.4 L269.5 95.2 L270.0 95.1 L270.5 94.9 L271.0 94.8 L271.5 94.6 L272.0 94.5 L272.5 94.3 L273.0 94.2 L273.5 94.0 L274.0 93.9 L274.5 93.7 L275.0 93.6 L275.5 93.4 L276.0 93.3 L276.5 93.2 L277.0 93.0 L277.5 92.9 L278.0 92.8 L278.5 92.6 L279.0 92.5 L279.5 92.4 L280.0 92.2 L280.5 92.1 L281.0 92.0 L281.5 91.8 L282.0 91.7 L282.5 91.6 L283.0 91.4 L283.5 91.3 L284.0 91.2 L284.5 91.1 L285.0 90.9 L285.5 90.8 L286.0 90.7 L286.5 90.6 L287.0 90.5 L287.5 90.3 L288.0 90.2 L288.5 90.1 L289.0 90.0 L289.5 89.9 L290.0 89.7 L290.5 89.6 L291.0 89.5 L291.5 89.4 L292.0 89.3 L292.5 89.2 L293.0 89.1 L293.5 88.9 L294.0 88.8 L294.5 88.7 L295.0 88.6 L295.5 88.5 L296.0 88.4 L296.5 88.3 L297.0 88.2 L297.5 88.0 L298.0 87.9 L298.5 87.8 L299.0 87.7 L299.5 87.6 L300.0 87.5 L300.5 87.4 L301.0 87.3 L301.5 87.2 L302.0 87.1 L302.5 87.0 L303.0 86.9 L303.5 86.8 L304.0 86.7 L304.5 86.6 L305.0 86.4 L305.5 86.3 L306.0 86.2 L306.5 86.1 L307.0 86.0 L307.5 85.9 L308.0 85.8 L308.5 85.7 L309.0 85.6 L309.5 85.5" stroke="#141414"/>
</g>
<g fill="none" stroke-width="1.5" stroke-linejoin="round" stroke-linecap="butt" clip-path="url(#c2)">
<path d="M87.3 302.9 L87.8 302.9 L88.3 303.0 L88.8 303.1 L89.3 303.1 L89.8 303.2 L90.3 303.3 L90.8 303.3 L91.3 303.4 L91.8 303.5 L92.3 303.5 L92.8 303.6 L93.3 303.7 L93.8 303.7 L94.3 303.8 L94.8 303.9 L95.3 303.9 L95.8 304.0 L96.3 304.1 L96.8 304.2 L97.3 304.2 L97.8 304.3 L98.3 304.4 L98.8 304.4 L99.3 304.5 L99.8 304.6 L100.3 304.6 L100.8 304.7 L101.3 304.8 L101.8 304.9 L102.3 304.9 L102.8 305.0 L103.3 305.1 L103.8 305.1 L104.3 305.2 L104.8 305.3 L105.3 305.4 L105.8 305.4 L106.3 305.5 L106.8 305.6 L107.3 305.7 L107.8 305.7 L108.3 305.8 L108.8 305.9 L109.3 306.0 L109.8 306.0 L110.3 306.1 L110.8 306.2 L111.3 306.3 L111.8 306.3 L112.3 306.4 L112.8 306.5 L113.3 306.6 L113.8 306.7 L114.3 306.7 L114.8 306.8 L115.3 306.9 L115.8 307.0 L116.3 307.1 L116.8 307.1 L117.3 307.2 L117.8 307.3 L118.3 307.4 L118.8 307.5 L119.3 307.5 L119.8 307.6 L120.3 307.7 L120.8 307.8 L121.3 307.9 L121.8 308.0 L122.3 308.1 L122.8 308.1 L123.3 308.2 L123.8 308.3 L124.3 308.4 L124.8 308.5 L125.3 308.6 L125.8 308.7 L126.3 308.8 L126.8 308.9 L127.3 308.9 L127.8 309.0 L128.3 309.1 L128.8 309.2 L129.3 309.3 L129.8 309.4 L130.3 309.5 L130.8 309.6 L131.3 309.7 L131.8 309.8 L132.3 309.9 L132.8 310.0 L133.3 310.1 L133.8 310.2 L134.3 310.3 L134.8 310.4 L135.3 310.5 L135.8 310.6 L136.3 310.7 L136.8 310.8 L137.3 310.9 L137.8 311.0 L138.3 311.1 L138.8 311.3 L139.3 311.4 L139.8 311.5 L140.3 311.6 L140.8 311.7 L141.3 311.8 L141.8 311.9 L142.3 312.1 L142.8 312.2 L143.3 312.3 L143.8 312.4 L144.3 312.6 L144.8 312.7 L145.3 312.8 L145.8 312.9 L146.3 313.1 L146.8 313.2 L147.3 313.3 L147.8 313.5 L148.3 313.6 L148.8 313.7 L149.3 313.9 L149.8 314.0 L150.3 314.2 L150.8 314.3 L151.3 314.5 L151.8 314.6 L152.3 314.8 L152.8 314.9 L153.3 315.1 L153.8 315.2 L154.3 315.4 L154.8 315.6 L155.3 315.7 L155.8 315.9 L156.3 316.1 L156.8 316.2 L157.3 316.4 L157.8 316.6 L158.3 316.8 L158.8 316.9 L159.3 317.1 L159.8 317.3 L160.3 317.5 L160.8 317.7 L161.3 317.9 L161.8 318.1 L162.3 318.3 L162.8 318.5 L163.3 318.7 L163.8 318.9 L164.3 319.2 L164.8 319.4 L165.3 319.6 L165.8 319.8 L166.3 320.1 L166.8 320.3 L167.3 320.6 L167.8 320.8 L168.3 321.1 L168.8 321.3 L169.3 321.6 L169.8 321.9 L170.3 322.2 L170.8 322.4 L171.3 322.7 L171.8 323.0 L172.3 323.3 L172.8 323.7 L173.3 324.0 L173.8 324.3 L174.3 324.6 L174.8 325.0 L175.3 325.3 L175.8 325.7 L176.3 326.1 L176.8 326.5 L177.3 326.9 L177.8 327.3 L178.3 327.7 L178.8 328.1 L179.3 328.6 L179.8 329.0 L180.3 329.5 L180.8 330.0 L181.3 330.5 L181.8 331.0 L182.3 331.6 L182.8 332.1 L183.3 332.7 L183.8 333.3 L184.3 333.9 L184.8 334.6 L185.3 335.3 L185.8 336.0 L186.3 336.7 L186.8 337.5 L187.3 338.3 L187.8 339.1 L188.3 340.0 L188.8 340.9 L189.3 341.9 L189.8 342.9 L190.3 344.0 L190.8 345.1 L191.3 346.3 L191.8 347.6 L192.3 348.9 L192.5 349.5 L192.6 349.8 L192.7 350.1 L192.8 350.4 L192.9 350.7 L193.0 351.0 L193.1 351.3 L193.2 351.6 L193.3 351.9 L193.4 352.2 L193.5 352.6 L193.6 352.9 L193.7 353.2 L193.8 353.6 L193.9 353.9 L194.0 354.3 L194.1 354.7 L194.2 355.0 L194.3 355.4 L194.4 355.8 L194.5 356.1 L194.6 356.5 L194.7 356.9 L194.8 357.3 L194.9 357.7 L195.0 358.2 L195.1 358.6 L195.2 359.0 L195.3 359.5 L195.4 359.9 L195.5 360.4 L195.6 360.9 L195.7 361.4 L195.8 361.9 L195.9 362.4 L196.0 362.9 L196.1 363.5 L196.2 364.0 L196.3 364.6 L196.4 365.2 L196.5 365.9 L196.6 366.5 L196.7 367.2 L196.8 368.0 L196.9 368.7 L197.0 369.5 L197.1 370.4 L197.2 371.3 L197.3 372.3 L197.4 373.4 L197.5 374.6 L197.6 376.0 L197.7 377.5 L197.8 379.2 L197.9 381.3 L198.0 383.9 L198.1 386.4 L198.2 389.7 L198.3 392.0 L198.4 392.0 L198.5 392.0 L198.6 392.0 L198.7 391.8 L198.8 387.2 L198.9 383.9 L199.0 381.4 L199.1 379.3 L199.2 377.6 L199.3 376.0 L199.4 374.7 L199.5 373.5 L199.6 372.4 L199.7 371.4 L199.8 370.5 L199.9 369.7 L200.0 368.9 L200.1 368.2 L200.2 367.5 L200.3 366.8 L200.4 366.2 L200.5 365.7 L200.6 365.1 L200.7 364.0 L200.8 363.0 L200.9 362.0 L201.0 361.2 L201.1 360.3 L201.2 359.5 L201.3 358.8 L201.4 358.0 L201.5 357.4 L201.6 356.7 L201.7 356.1 L201.8 355.5 L201.9 354.9 L202.0 354.4 L202.1 353.9 L202.2 353.3 L202.3 352.8 L202.4 352.4 L202.5 351.9 L202.6 351.5 L202.7 351.0 L202.8 350.6 L202.9 350.2 L203.0 349.8 L203.1 349.4 L203.2 349.0 L203.3 348.7 L203.4 348.3 L203.5 348.0 L203.6 347.6 L203.7 347.3 L203.8 346.9 L203.9 346.6 L204.0 346.3 L204.1 346.0 L204.2 345.7 L204.3 345.4 L204.4 345.1 L204.5 344.8 L204.5 344.8 L205.0 343.4 L205.5 342.1 L206.0 340.9 L206.5 339.8 L207.0 338.7 L207.5 337.6 L208.0 336.6 L208.5 335.7 L209.0 334.7 L209.5 333.8 L210.0 332.9 L210.5 332.1 L211.0 331.2 L211.5 330.4 L212.0 329.6 L212.5 328.8 L213.0 328.0 L213.5 327.3 L214.0 326.5 L214.5 325.8 L215.0 325.1 L215.5 324.3 L216.0 323.6 L216.5 322.9 L217.0 322.2 L217.5 321.6 L218.0 320.9 L218.5 320.2 L219.0 319.6 L219.5 318.9 L220.0 318.3 L220.5 317.6 L221.0 317.0 L221.5 316.4 L222.0 315.7 L222.5 315.1 L223.0 314.5 L223.5 313.9 L224.0 313.3 L224.5 312.7 L225.0 312.1 L225.5 311.5 L226.0 311.0 L226.5 310.4 L227.0 309.8 L227.5 309.2 L228.0 308.7 L228.5 308.1 L229.0 307.6 L229.5 307.0 L230.0 306.5 L230.5 305.9 L231.0 305.4 L231.5 304.9 L232.0 304.3 L232.5 303.8 L233.0 303.3 L233.5 302.8 L234.0 302.3 L234.5 301.8 L235.0 301.3 L235.5 300.8 L236.0 300.3 L236.5 299.8 L237.0 299.3 L237.5 298.9 L238.0 298.4 L238.5 297.9 L239.0 297.5 L239.5 297.0 L240.0 296.5 L240.5 296.1 L241.0 295.6 L241.5 295.2 L242.0 294.8 L242.5 294.3 L243.0 293.9 L243.5 293.5 L244.0 293.0 L244.5 292.6 L245.0 292.2 L245.5 291.8 L246.0 291.4 L246.5 291.0 L247.0 290.6 L247.5 290.1 L248.0 289.8 L248.5 289.4 L249.0 289.0 L249.5 288.6 L250.0 288.2 L250.5 287.8 L251.0 287.4 L251.5 287.1 L252.0 286.7 L252.5 286.3 L253.0 285.9 L253.5 285.6 L254.0 285.2 L254.5 284.9 L255.0 284.5 L255.5 284.1 L256.0 283.8 L256.5 283.4 L257.0 283.1 L257.5 282.8 L258.0 282.4 L258.5 282.1 L259.0 281.7 L259.5 281.4 L260.0 281.1 L260.5 280.8 L261.0 280.4 L261.5 280.1 L262.0 279.8 L262.5 279.5 L263.0 279.2 L263.5 278.9 L264.0 278.6 L264.5 278.3 L265.0 278.0 L265.5 277.7 L266.0 277.4 L266.5 277.1 L267.0 276.8 L267.5 276.5 L268.0 276.2 L268.5 276.0 L269.0 275.7 L269.5 275.4 L270.0 275.1 L270.5 274.9 L271.0 274.6 L271.5 274.3 L272.0 274.1 L272.5 273.8 L273.0 273.6 L273.5 273.3 L274.0 273.1 L274.5 272.8 L275.0 272.6 L275.5 272.3 L276.0 272.1 L276.5 271.9 L277.0 271.6 L277.5 271.4 L278.0 271.2 L278.5 270.9 L279.0 270.7 L279.5 270.5 L280.0 270.3 L280.5 270.1 L281.0 269.8 L281.5 269.6 L282.0 269.4 L282.5 269.2 L283.0 269.0 L283.5 268.8 L284.0 268.6 L284.5 268.4 L285.0 268.2 L285.5 268.0 L286.0 267.9 L286.5 267.7 L287.0 267.5 L287.5 267.3 L288.0 267.1 L288.5 266.9 L289.0 266.8 L289.5 266.6 L290.0 266.4 L290.5 266.3 L291.0 266.1 L291.5 265.9 L292.0 265.8 L292.5 265.6 L293.0 265.5 L293.5 265.3 L294.0 265.1 L294.5 265.0 L295.0 264.8 L295.5 264.7 L296.0 264.6 L296.5 264.4 L297.0 264.3 L297.5 264.1 L298.0 264.0 L298.5 263.9 L299.0 263.7 L299.5 263.6 L300.0 263.5 L300.5 263.3 L301.0 263.2 L301.5 263.1 L302.0 263.0 L302.5 262.8 L303.0 262.7 L303.5 262.6 L304.0 262.5 L304.5 262.4 L305.0 262.3 L305.5 262.2 L306.0 262.1 L306.5 262.0 L307.0 261.9 L307.5 261.8 L308.0 261.7 L308.5 261.6 L309.0 261.5 L309.5 261.4" stroke="#ff1f8f"/>
<path d="M87.3 311.3 L87.8 311.4 L88.3 311.5 L88.8 311.6 L89.3 311.7 L89.8 311.8 L90.3 311.8 L90.8 311.9 L91.3 312.0 L91.8 312.1 L92.3 312.2 L92.8 312.3 L93.3 312.4 L93.8 312.5 L94.3 312.6 L94.8 312.6 L95.3 312.7 L95.8 312.8 L96.3 312.9 L96.8 313.0 L97.3 313.1 L97.8 313.2 L98.3 313.2 L98.8 313.3 L99.3 313.4 L99.8 313.5 L100.3 313.6 L100.8 313.7 L101.3 313.8 L101.8 313.8 L102.3 313.9 L102.8 314.0 L103.3 314.1 L103.8 314.2 L104.3 314.3 L104.8 314.3 L105.3 314.4 L105.8 314.5 L106.3 314.6 L106.8 314.7 L107.3 314.7 L107.8 314.8 L108.3 314.9 L108.8 315.0 L109.3 315.1 L109.8 315.1 L110.3 315.2 L110.8 315.3 L111.3 315.4 L111.8 315.5 L112.3 315.5 L112.8 315.6 L113.3 315.7 L113.8 315.8 L114.3 315.9 L114.8 315.9 L115.3 316.0 L115.8 316.1 L116.3 316.2 L116.8 316.2 L117.3 316.3 L117.8 316.4 L118.3 316.5 L118.8 316.6 L119.3 316.6 L119.8 316.7 L120.3 316.8 L120.8 316.9 L121.3 316.9 L121.8 317.0 L122.3 317.1 L122.8 317.2 L123.3 317.2 L123.8 317.3 L124.3 317.4 L124.8 317.5 L125.3 317.6 L125.8 317.6 L126.3 317.7 L126.8 317.8 L127.3 317.9 L127.8 317.9 L128.3 318.0 L128.8 318.1 L129.3 318.2 L129.8 318.3 L130.3 318.3 L130.8 318.4 L131.3 318.5 L131.8 318.6 L132.3 318.7 L132.8 318.7 L133.3 318.8 L133.8 318.9 L134.3 319.0 L134.8 319.1 L135.3 319.1 L135.8 319.2 L136.3 319.3 L136.8 319.4 L137.3 319.5 L137.8 319.6 L138.3 319.7 L138.8 319.8 L139.3 319.8 L139.8 319.9 L140.3 320.0 L140.8 320.1 L141.3 320.2 L141.8 320.3 L142.3 320.4 L142.8 320.5 L143.3 320.6 L143.8 320.7 L144.3 320.8 L144.8 320.9 L145.3 321.0 L145.8 321.1 L146.3 321.2 L146.8 321.4 L147.3 321.5 L147.8 321.6 L148.3 321.7 L148.8 321.8 L149.3 321.9 L149.8 322.1 L150.3 322.2 L150.8 322.3 L151.3 322.4 L151.8 322.6 L152.3 322.7 L152.8 322.9 L153.3 323.0 L153.8 323.1 L154.3 323.3 L154.8 323.4 L155.3 323.6 L155.8 323.8 L156.3 323.9 L156.8 324.1 L157.3 324.2 L157.8 324.4 L158.3 324.6 L158.8 324.8 L159.3 325.0 L159.8 325.2 L160.3 325.4 L160.8 325.6 L161.3 325.8 L161.8 326.0 L162.3 326.2 L162.8 326.4 L163.3 326.6 L163.8 326.9 L164.3 327.1 L164.8 327.4 L165.3 327.6 L165.8 327.9 L166.3 328.1 L166.8 328.4 L167.3 328.6 L167.8 328.9 L168.3 329.2 L168.8 329.5 L169.3 329.8 L169.8 330.1 L170.3 330.4 L170.8 330.7 L171.3 331.0 L171.8 331.3 L172.3 331.7 L172.8 332.0 L173.3 332.4 L173.8 332.7 L174.3 333.1 L174.8 333.4 L175.3 333.8 L175.8 334.2 L176.3 334.6 L176.8 335.0 L177.3 335.4 L177.8 335.9 L178.3 336.3 L178.8 336.7 L179.3 337.2 L179.8 337.7 L180.3 338.2 L180.8 338.7 L181.3 339.2 L181.8 339.7 L182.3 340.3 L182.8 340.8 L183.3 341.4 L183.8 342.0 L184.3 342.6 L184.8 343.2 L185.3 343.9 L185.8 344.6 L186.3 345.3 L186.8 346.0 L187.3 346.8 L187.8 347.6 L188.3 348.4 L188.8 349.3 L189.3 350.2 L189.8 351.1 L190.3 352.1 L190.8 353.1 L191.3 354.2 L191.8 355.3 L192.3 356.5 L192.5 357.0 L192.6 357.3 L192.7 357.5 L192.8 357.8 L192.9 358.1 L193.0 358.3 L193.1 358.6 L193.2 358.9 L193.3 359.1 L193.4 359.4 L193.5 359.7 L193.6 360.0 L193.7 360.3 L193.8 360.6 L193.9 360.9 L194.0 361.2 L194.1 361.5 L194.2 361.8 L194.3 362.1 L194.4 362.4 L194.5 362.7 L194.6 363.1 L194.7 363.4 L194.8 363.7 L194.9 364.1 L195.0 364.4 L195.1 364.8 L195.2 365.1 L195.3 365.5 L195.4 365.9 L195.5 366.2 L195.6 366.6 L195.7 367.0 L195.8 367.4 L195.9 367.8 L196.0 368.3 L196.1 368.7 L196.2 369.2 L196.3 369.7 L196.4 370.2 L196.5 370.8 L196.6 371.4 L196.7 372.0 L196.8 372.7 L196.9 373.5 L197.0 374.4 L197.1 375.4 L197.2 376.5 L197.3 377.8 L197.4 379.3 L197.5 381.2 L197.6 383.5 L197.7 386.3 L197.8 390.0 L197.9 391.7 L198.0 393.8 L198.1 396.3 L198.2 399.6 L198.3 402.0 L198.4 402.0 L198.5 402.0 L198.6 402.0 L198.7 395.7 L198.8 391.1 L198.9 387.8 L199.0 385.3 L199.1 383.2 L199.2 381.5 L199.3 380.0 L199.4 378.6 L199.5 377.5 L199.6 376.4 L199.7 375.4 L199.8 374.5 L199.9 373.6 L200.0 372.9 L200.1 372.1 L200.2 371.4 L200.3 370.8 L200.4 370.2 L200.5 369.6 L200.6 369.0 L200.7 368.5 L200.8 368.0 L200.9 367.5 L201.0 367.1 L201.1 366.6 L201.2 366.2 L201.3 365.8 L201.4 365.4 L201.5 365.0 L201.6 364.2 L201.7 363.4 L201.8 362.7 L201.9 362.0 L202.0 361.4 L202.1 360.8 L202.2 360.2 L202.3 359.6 L202.4 359.1 L202.5 358.6 L202.6 358.1 L202.7 357.6 L202.8 357.1 L202.9 356.7 L203.0 356.3 L203.1 355.8 L203.2 355.4 L203.3 355.1 L203.4 354.7 L203.5 354.3 L203.6 354.0 L203.7 353.6 L203.8 353.3 L203.9 352.9 L204.0 352.6 L204.1 352.3 L204.2 352.0 L204.3 351.7 L204.4 351.4 L204.5 351.1 L204.5 351.1 L205.0 349.8 L205.5 348.5 L206.0 347.3 L206.5 346.2 L207.0 345.2 L207.5 344.2 L208.0 343.2 L208.5 342.3 L209.0 341.4 L209.5 340.5 L210.0 339.6 L210.5 338.8 L211.0 337.9 L211.5 337.1 L212.0 336.3 L212.5 335.5 L213.0 334.7 L213.5 333.9 L214.0 333.1 L214.5 332.3 L215.0 331.5 L215.5 330.8 L216.0 330.0 L216.5 329.3 L217.0 328.5 L217.5 327.7 L218.0 327.0 L218.5 326.3 L219.0 325.5 L219.5 324.8 L220.0 324.0 L220.5 323.3 L221.0 322.6 L221.5 321.9 L222.0 321.1 L222.5 320.4 L223.0 319.7 L223.5 319.0 L224.0 318.3 L224.5 317.6 L225.0 316.9 L225.5 316.2 L226.0 315.5 L226.5 314.8 L227.0 314.1 L227.5 313.4 L228.0 312.7 L228.5 312.0 L229.0 311.3 L229.5 310.6 L230.0 309.9 L230.5 309.3 L231.0 308.6 L231.5 307.9 L232.0 307.3 L232.5 306.6 L233.0 306.0 L233.5 305.4 L234.0 304.7 L234.5 304.1 L235.0 303.5 L235.5 302.9 L236.0 302.3 L236.5 301.7 L237.0 301.1 L237.5 300.5 L238.0 300.0 L238.5 299.4 L239.0 298.9 L239.5 298.3 L240.0 297.8 L240.5 297.3 L241.0 296.7 L241.5 296.2 L242.0 295.7 L242.5 295.2 L243.0 294.8 L243.5 294.3 L244.0 293.8 L244.5 293.4 L245.0 292.9 L245.5 292.5 L246.0 292.0 L246.5 291.6 L247.0 291.2 L247.5 290.8 L248.0 290.4 L248.5 290.0 L249.0 289.6 L249.5 289.2 L250.0 288.9 L250.5 288.5 L251.0 288.1 L251.5 287.8 L252.0 287.4 L252.5 287.1 L253.0 286.7 L253.5 286.4 L254.0 286.1 L254.5 285.7 L255.0 285.4 L255.5 285.1 L256.0 284.8 L256.5 284.5 L257.0 284.2 L257.5 283.9 L258.0 283.6 L258.5 283.3 L259.0 283.0 L259.5 282.7 L260.0 282.4 L260.5 282.2 L261.0 281.9 L261.5 281.6 L262.0 281.3 L262.5 281.1 L263.0 280.8 L263.5 280.5 L264.0 280.3 L264.5 280.0 L265.0 279.8 L265.5 279.5 L266.0 279.3 L266.5 279.1 L267.0 278.8 L267.5 278.6 L268.0 278.3 L268.5 278.1 L269.0 277.9 L269.5 277.6 L270.0 277.4 L270.5 277.2 L271.0 277.0 L271.5 276.8 L272.0 276.5 L272.5 276.3 L273.0 276.1 L273.5 275.9 L274.0 275.7 L274.5 275.5 L275.0 275.3 L275.5 275.1 L276.0 274.9 L276.5 274.7 L277.0 274.5 L277.5 274.3 L278.0 274.1 L278.5 273.9 L279.0 273.7 L279.5 273.5 L280.0 273.3 L280.5 273.2 L281.0 273.0 L281.5 272.8 L282.0 272.6 L282.5 272.4 L283.0 272.2 L283.5 272.1 L284.0 271.9 L284.5 271.7 L285.0 271.5 L285.5 271.4 L286.0 271.2 L286.5 271.0 L287.0 270.9 L287.5 270.7 L288.0 270.5 L288.5 270.4 L289.0 270.2 L289.5 270.1 L290.0 269.9 L290.5 269.7 L291.0 269.6 L291.5 269.4 L292.0 269.3 L292.5 269.1 L293.0 269.0 L293.5 268.8 L294.0 268.7 L294.5 268.5 L295.0 268.4 L295.5 268.2 L296.0 268.1 L296.5 267.9 L297.0 267.8 L297.5 267.6 L298.0 267.5 L298.5 267.3 L299.0 267.2 L299.5 267.1 L300.0 266.9 L300.5 266.8 L301.0 266.6 L301.5 266.5 L302.0 266.4 L302.5 266.2 L303.0 266.1 L303.5 266.0 L304.0 265.8 L304.5 265.7 L305.0 265.6 L305.5 265.4 L306.0 265.3 L306.5 265.2 L307.0 265.0 L307.5 264.9 L308.0 264.8 L308.5 264.7 L309.0 264.5 L309.5 264.4" stroke="#ff8010"/>
<path d="M87.3 311.9 L87.8 312.0 L88.3 312.1 L88.8 312.1 L89.3 312.2 L89.8 312.3 L90.3 312.4 L90.8 312.5 L91.3 312.5 L91.8 312.6 L92.3 312.7 L92.8 312.8 L93.3 312.9 L93.8 312.9 L94.3 313.0 L94.8 313.1 L95.3 313.2 L95.8 313.3 L96.3 313.3 L96.8 313.4 L97.3 313.5 L97.8 313.6 L98.3 313.7 L98.8 313.7 L99.3 313.8 L99.8 313.9 L100.3 314.0 L100.8 314.0 L101.3 314.1 L101.8 314.2 L102.3 314.3 L102.8 314.4 L103.3 314.4 L103.8 314.5 L104.3 314.6 L104.8 314.7 L105.3 314.7 L105.8 314.8 L106.3 314.9 L106.8 315.0 L107.3 315.1 L107.8 315.1 L108.3 315.2 L108.8 315.3 L109.3 315.4 L109.8 315.4 L110.3 315.5 L110.8 315.6 L111.3 315.7 L111.8 315.8 L112.3 315.8 L112.8 315.9 L113.3 316.0 L113.8 316.1 L114.3 316.2 L114.8 316.2 L115.3 316.3 L115.8 316.4 L116.3 316.5 L116.8 316.5 L117.3 316.6 L117.8 316.7 L118.3 316.8 L118.8 316.9 L119.3 316.9 L119.8 317.0 L120.3 317.1 L120.8 317.2 L121.3 317.3 L121.8 317.3 L122.3 317.4 L122.8 317.5 L123.3 317.6 L123.8 317.7 L124.3 317.8 L124.8 317.8 L125.3 317.9 L125.8 318.0 L126.3 318.1 L126.8 318.2 L127.3 318.3 L127.8 318.4 L128.3 318.4 L128.8 318.5 L129.3 318.6 L129.8 318.7 L130.3 318.8 L130.8 318.9 L131.3 319.0 L131.8 319.1 L132.3 319.2 L132.8 319.3 L133.3 319.3 L133.8 319.4 L134.3 319.5 L134.8 319.6 L135.3 319.7 L135.8 319.8 L136.3 319.9 L136.8 320.0 L137.3 320.1 L137.8 320.2 L138.3 320.3 L138.8 320.5 L139.3 320.6 L139.8 320.7 L140.3 320.8 L140.8 320.9 L141.3 321.0 L141.8 321.1 L142.3 321.2 L142.8 321.4 L143.3 321.5 L143.8 321.6 L144.3 321.7 L144.8 321.9 L145.3 322.0 L145.8 322.1 L146.3 322.3 L146.8 322.4 L147.3 322.5 L147.8 322.7 L148.3 322.8 L148.8 323.0 L149.3 323.1 L149.8 323.3 L150.3 323.4 L150.8 323.6 L151.3 323.8 L151.8 323.9 L152.3 324.1 L152.8 324.3 L153.3 324.4 L153.8 324.6 L154.3 324.8 L154.8 325.0 L155.3 325.2 L155.8 325.4 L156.3 325.6 L156.8 325.8 L157.3 326.0 L157.8 326.2 L158.3 326.4 L158.8 326.6 L159.3 326.8 L159.8 327.1 L160.3 327.3 L160.8 327.5 L161.3 327.8 L161.8 328.0 L162.3 328.3 L162.8 328.6 L163.3 328.8 L163.8 329.1 L164.3 329.4 L164.8 329.7 L165.3 330.0 L165.8 330.2 L166.3 330.5 L166.8 330.9 L167.3 331.2 L167.8 331.5 L168.3 331.8 L168.8 332.1 L169.3 332.5 L169.8 332.8 L170.3 333.2 L170.8 333.5 L171.3 333.9 L171.8 334.2 L172.3 334.6 L172.8 335.0 L173.3 335.4 L173.8 335.8 L174.3 336.2 L174.8 336.6 L175.3 337.0 L175.8 337.4 L176.3 337.8 L176.8 338.3 L177.3 338.7 L177.8 339.2 L178.3 339.6 L178.8 340.1 L179.3 340.6 L179.8 341.1 L180.3 341.6 L180.8 342.2 L181.3 342.7 L181.8 343.2 L182.3 343.8 L182.8 344.4 L183.3 345.0 L183.8 345.6 L184.3 346.3 L184.8 347.0 L185.3 347.6 L185.8 348.4 L186.3 349.1 L186.8 349.9 L187.3 350.7 L187.8 351.5 L188.3 352.4 L188.8 353.3 L189.3 354.3 L189.8 355.3 L190.3 356.4 L190.8 357.6 L191.3 358.8 L191.8 360.1 L192.3 361.6 L192.5 362.2 L192.6 362.5 L192.7 362.8 L192.8 363.1 L192.9 363.4 L193.0 363.8 L193.1 364.1 L193.2 364.5 L193.3 364.8 L193.4 365.2 L193.5 365.5 L193.6 365.9 L193.7 366.3 L193.8 366.7 L193.9 367.1 L194.0 367.5 L194.1 367.9 L194.2 368.3 L194.3 368.8 L194.4 369.2 L194.5 369.7 L194.6 370.2 L194.7 370.7 L194.8 371.2 L194.9 371.7 L195.0 372.2 L195.1 372.8 L195.2 373.3 L195.3 373.9 L195.4 374.5 L195.5 375.2 L195.6 375.8 L195.7 376.5 L195.8 377.2 L195.9 377.9 L196.0 378.7 L196.1 379.5 L196.2 380.3 L196.3 381.2 L196.4 382.1 L196.5 383.1 L196.6 384.1 L196.7 385.2 L196.8 386.4 L196.9 387.7 L197.0 389.0 L197.1 390.4 L197.2 392.0 L197.3 392.9 L197.4 393.9 L197.5 395.0 L197.6 396.2 L197.7 397.5 L197.8 399.0 L197.9 400.8 L198.0 402.8 L198.1 405.4 L198.2 408.6 L198.3 410.0 L198.4 410.0 L198.5 410.0 L198.6 408.8 L198.7 401.0 L198.8 396.4 L198.9 393.1 L199.0 390.6 L199.1 388.5 L199.2 386.8 L199.3 385.2 L199.4 383.9 L199.5 382.7 L199.6 381.6 L199.7 380.6 L199.8 379.7 L199.9 378.9 L200.0 378.1 L200.1 377.4 L200.2 376.7 L200.3 376.0 L200.4 375.4 L200.5 374.9 L200.6 374.3 L200.7 373.8 L200.8 373.3 L200.9 372.8 L201.0 372.3 L201.1 371.9 L201.2 371.5 L201.3 371.0 L201.4 370.6 L201.5 370.3 L201.6 369.9 L201.7 369.5 L201.8 369.2 L201.9 368.8 L202.0 368.5 L202.1 368.2 L202.2 367.9 L202.3 367.6 L202.4 367.3 L202.5 367.0 L202.6 366.7 L202.7 366.4 L202.8 366.2 L202.9 365.9 L203.0 365.7 L203.1 365.4 L203.2 365.2 L203.3 364.9 L203.4 364.5 L203.5 364.0 L203.6 363.6 L203.7 363.1 L203.8 362.7 L203.9 362.3 L204.0 361.9 L204.1 361.5 L204.2 361.1 L204.3 360.7 L204.4 360.3 L204.5 359.9 L204.5 359.9 L205.0 358.1 L205.5 356.4 L206.0 354.8 L206.5 353.3 L207.0 351.9 L207.5 350.5 L208.0 349.2 L208.5 347.9 L209.0 346.7 L209.5 345.5 L210.0 344.3 L210.5 343.2 L211.0 342.1 L211.5 341.0 L212.0 340.0 L212.5 338.9 L213.0 337.9 L213.5 337.0 L214.0 336.0 L214.5 335.1 L215.0 334.1 L215.5 333.2 L216.0 332.3 L216.5 331.4 L217.0 330.6 L217.5 329.7 L218.0 328.9 L218.5 328.1 L219.0 327.2 L219.5 326.4 L220.0 325.6 L220.5 324.8 L221.0 324.1 L221.5 323.3 L222.0 322.5 L222.5 321.8 L223.0 321.0 L223.5 320.3 L224.0 319.6 L224.5 318.8 L225.0 318.1 L225.5 317.4 L226.0 316.7 L226.5 316.0 L227.0 315.3 L227.5 314.6 L228.0 314.0 L228.5 313.3 L229.0 312.6 L229.5 312.0 L230.0 311.3 L230.5 310.7 L231.0 310.0 L231.5 309.4 L232.0 308.8 L232.5 308.2 L233.0 307.5 L233.5 306.9 L234.0 306.3 L234.5 305.7 L235.0 305.1 L235.5 304.5 L236.0 304.0 L236.5 303.4 L237.0 302.8 L237.5 302.3 L238.0 301.7 L238.5 301.2 L239.0 300.6 L239.5 300.1 L240.0 299.6 L240.5 299.0 L241.0 298.5 L241.5 298.0 L242.0 297.5 L242.5 297.0 L243.0 296.5 L243.5 296.0 L244.0 295.6 L244.5 295.1 L245.0 294.6 L245.5 294.2 L246.0 293.7 L246.5 293.3 L247.0 292.8 L247.5 292.4 L248.0 292.0 L248.5 291.5 L249.0 291.1 L249.5 290.7 L250.0 290.3 L250.5 289.9 L251.0 289.5 L251.5 289.1 L252.0 288.7 L252.5 288.3 L253.0 287.9 L253.5 287.6 L254.0 287.2 L254.5 286.8 L255.0 286.5 L255.5 286.1 L256.0 285.8 L256.5 285.4 L257.0 285.1 L257.5 284.7 L258.0 284.4 L258.5 284.1 L259.0 283.8 L259.5 283.4 L260.0 283.1 L260.5 282.8 L261.0 282.5 L261.5 282.2 L262.0 281.9 L262.5 281.6 L263.0 281.3 L263.5 281.0 L264.0 280.8 L264.5 280.5 L265.0 280.2 L265.5 279.9 L266.0 279.7 L266.5 279.4 L267.0 279.1 L267.5 278.9 L268.0 278.6 L268.5 278.4 L269.0 278.1 L269.5 277.9 L270.0 277.6 L270.5 277.4 L271.0 277.1 L271.5 276.9 L272.0 276.7 L272.5 276.4 L273.0 276.2 L273.5 276.0 L274.0 275.8 L274.5 275.5 L275.0 275.3 L275.5 275.1 L276.0 274.9 L276.5 274.7 L277.0 274.5 L277.5 274.3 L278.0 274.1 L278.5 273.9 L279.0 273.7 L279.5 273.5 L280.0 273.3 L280.5 273.1 L281.0 272.9 L281.5 272.7 L282.0 272.6 L282.5 272.4 L283.0 272.2 L283.5 272.0 L284.0 271.8 L284.5 271.7 L285.0 271.5 L285.5 271.3 L286.0 271.2 L286.5 271.0 L287.0 270.8 L287.5 270.7 L288.0 270.5 L288.5 270.3 L289.0 270.2 L289.5 270.0 L290.0 269.9 L290.5 269.7 L291.0 269.6 L291.5 269.4 L292.0 269.3 L292.5 269.1 L293.0 269.0 L293.5 268.9 L294.0 268.7 L294.5 268.6 L295.0 268.4 L295.5 268.3 L296.0 268.2 L296.5 268.0 L297.0 267.9 L297.5 267.8 L298.0 267.7 L298.5 267.5 L299.0 267.4 L299.5 267.3 L300.0 267.2 L300.5 267.0 L301.0 266.9 L301.5 266.8 L302.0 266.7 L302.5 266.6 L303.0 266.5 L303.5 266.4 L304.0 266.2 L304.5 266.1 L305.0 266.0 L305.5 265.9 L306.0 265.8 L306.5 265.7 L307.0 265.6 L307.5 265.5 L308.0 265.4 L308.5 265.3 L309.0 265.2 L309.5 265.1" stroke="#0f8a1f"/>
<path d="M87.3 335.8 L87.8 335.9 L88.3 335.9 L88.8 336.0 L89.3 336.0 L89.8 336.1 L90.3 336.3 L90.8 336.5 L91.3 336.7 L91.8 336.9 L92.3 337.1 L92.8 337.2 L93.3 337.3 L93.8 337.5 L94.3 337.6 L94.8 337.7 L95.3 337.7 L95.8 337.8 L96.3 337.8 L96.8 337.8 L97.3 337.9 L97.8 338.1 L98.3 338.3 L98.8 338.6 L99.3 338.8 L99.8 339.0 L100.3 339.2 L100.8 339.3 L101.3 339.5 L101.8 339.6 L102.3 339.8 L102.8 339.8 L103.3 339.9 L103.8 340.0 L104.3 340.0 L104.8 340.1 L105.3 340.2 L105.8 340.3 L106.3 340.3 L106.8 340.4 L107.3 340.5 L107.8 340.6 L108.3 340.7 L108.8 340.9 L109.3 341.0 L109.8 341.1 L110.3 341.1 L110.8 341.0 L111.3 341.0 L111.8 341.0 L112.3 341.0 L112.8 341.1 L113.3 341.1 L113.8 341.2 L114.3 341.3 L114.8 341.3 L115.3 341.4 L115.8 341.5 L116.3 341.6 L116.8 341.7 L117.3 341.8 L117.8 341.9 L118.3 342.0 L118.8 342.1 L119.3 342.2 L119.8 342.3 L120.3 342.5 L120.8 342.7 L121.3 343.0 L121.8 343.2 L122.3 343.5 L122.8 343.2 L123.3 343.0 L123.8 342.7 L124.3 342.5 L124.8 342.2 L125.3 342.6 L125.8 342.9 L126.3 343.2 L126.8 343.5 L127.3 343.8 L127.8 343.7 L128.3 343.6 L128.8 343.4 L129.3 343.3 L129.8 343.2 L130.3 343.3 L130.8 343.5 L131.3 343.6 L131.8 343.8 L132.3 344.0 L132.8 344.1 L133.3 344.2 L133.8 344.3 L134.3 344.3 L134.8 344.4 L135.3 344.4 L135.8 344.4 L136.3 344.3 L136.8 344.3 L137.3 344.2 L137.8 344.4 L138.3 344.6 L138.8 344.8 L139.3 345.0 L139.8 345.1 L140.3 345.3 L140.8 345.5 L141.3 345.7 L141.8 345.9 L142.3 346.0 L142.8 346.0 L143.3 346.0 L143.8 346.0 L144.3 345.9 L144.8 345.9 L145.3 346.1 L145.8 346.3 L146.3 346.6 L146.8 346.8 L147.3 347.0 L147.8 346.9 L148.3 346.9 L148.8 346.8 L149.3 346.7 L149.8 346.7 L150.3 346.8 L150.8 347.0 L151.3 347.1 L151.8 347.3 L152.3 347.4 L152.8 347.6 L153.3 347.9 L153.8 348.1 L154.3 348.3 L154.8 348.5 L155.3 348.5 L155.8 348.5 L156.3 348.5 L156.8 348.4 L157.3 348.4 L157.8 348.5 L158.3 348.7 L158.8 348.8 L159.3 349.0 L159.8 349.1 L160.3 349.4 L160.8 349.7 L161.3 350.0 L161.8 350.4 L162.3 350.7 L162.8 350.8 L163.3 351.0 L163.8 351.1 L164.3 351.3 L164.8 351.5 L165.3 351.8 L165.8 352.1 L166.3 352.5 L166.8 352.8 L167.3 353.2 L167.8 353.2 L168.3 353.3 L168.8 353.3 L169.3 353.4 L169.8 353.4 L170.3 353.8 L170.8 354.1 L171.3 354.5 L171.8 354.8 L172.3 355.2 L172.8 355.5 L173.3 355.7 L173.8 356.0 L174.3 356.3 L174.8 356.5 L175.3 356.7 L175.8 356.8 L176.3 357.0 L176.8 357.1 L177.3 357.3 L177.8 357.5 L178.3 357.7 L178.8 357.9 L179.3 358.1 L179.8 358.3 L180.3 358.4 L180.8 358.5 L181.3 358.6 L181.8 358.8 L182.3 359.0 L182.8 359.3 L183.3 359.6 L183.8 360.0 L184.3 360.4 L184.8 360.8 L185.3 361.1 L185.8 361.4 L186.3 361.7 L186.8 362.1 L187.3 362.4 L187.8 362.9 L188.3 363.4 L188.8 363.8 L189.3 364.3 L189.8 364.8 L190.3 365.3 L190.8 365.8 L191.3 366.3 L191.8 366.8 L192.3 367.3 L192.5 367.4 L192.6 367.5 L192.7 367.5 L192.8 367.6 L192.9 367.7 L193.0 367.7 L193.1 367.8 L193.2 367.9 L193.3 367.9 L193.4 368.0 L193.5 368.1 L193.6 368.2 L193.7 368.3 L193.8 368.5 L193.9 368.6 L194.0 368.8 L194.1 368.9 L194.2 369.1 L194.3 369.3 L194.4 369.5 L194.5 369.8 L194.6 370.0 L194.7 370.3 L194.8 370.6 L194.9 371.0 L195.0 371.5 L195.1 372.0 L195.2 372.5 L195.3 373.0 L195.4 373.6 L195.5 374.3 L195.6 375.0 L195.7 375.7 L195.8 376.5 L195.9 377.3 L196.0 378.2 L196.1 379.2 L196.2 380.2 L196.3 381.2 L196.4 382.4 L196.5 383.6 L196.6 384.8 L196.7 386.1 L196.8 387.5 L196.9 388.9 L197.0 390.4 L197.1 392.0 L197.2 393.5 L197.3 395.1 L197.4 396.5 L197.5 397.9 L197.6 399.1 L197.7 399.9 L197.8 400.0 L197.9 401.7 L198.0 403.8 L198.1 406.3 L198.2 409.6 L198.3 412.0 L198.4 412.0 L198.5 412.0 L198.6 406.6 L198.7 398.7 L198.8 394.1 L198.9 390.9 L199.0 388.3 L199.1 386.3 L199.2 384.5 L199.3 383.0 L199.4 381.7 L199.5 380.5 L199.6 379.4 L199.7 378.4 L199.8 377.5 L199.9 376.7 L200.0 375.9 L200.1 375.2 L200.2 374.5 L200.3 373.8 L200.4 373.2 L200.5 372.6 L200.6 372.1 L200.7 371.6 L200.8 371.1 L200.9 370.6 L201.0 370.1 L201.1 369.7 L201.2 369.2 L201.3 368.8 L201.4 368.4 L201.5 368.1 L201.6 367.7 L201.7 367.3 L201.8 367.0 L201.9 366.6 L202.0 366.3 L202.1 366.0 L202.2 365.7 L202.3 365.4 L202.4 365.1 L202.5 364.8 L202.6 364.1 L202.7 363.5 L202.8 362.9 L202.9 362.3 L203.0 361.7 L203.1 361.1 L203.2 360.6 L203.3 360.0 L203.4 359.5 L203.5 359.0 L203.6 358.5 L203.7 358.0 L203.8 357.5 L203.9 357.0 L204.0 356.5 L204.1 356.1 L204.2 355.6 L204.3 355.2 L204.4 354.7 L204.5 354.3 L204.5 354.3 L205.0 352.3 L205.5 350.6 L206.0 349.0 L206.5 347.5 L207.0 346.1 L207.5 344.8 L208.0 343.5 L208.5 342.2 L209.0 341.0 L209.5 339.9 L210.0 338.8 L210.5 337.7 L211.0 336.6 L211.5 335.6 L212.0 334.6 L212.5 333.6 L213.0 332.7 L213.5 331.9 L214.0 331.1 L214.5 330.3 L215.0 329.5 L215.5 328.8 L216.0 328.0 L216.5 327.3 L217.0 326.7 L217.5 326.0 L218.0 325.3 L218.5 324.6 L219.0 323.9 L219.5 323.2 L220.0 322.6 L220.5 322.1 L221.0 321.6 L221.5 321.1 L222.0 320.6 L222.5 320.1 L223.0 319.6 L223.5 318.9 L224.0 318.4 L224.5 317.9 L225.0 317.4 L225.5 316.9 L226.0 316.5 L226.5 316.0 L227.0 315.5 L227.5 315.0 L228.0 314.6 L228.5 314.1 L229.0 313.7 L229.5 313.3 L230.0 312.8 L230.5 312.4 L231.0 312.0 L231.5 311.6 L232.0 311.2 L232.5 310.8 L233.0 310.4 L233.5 310.0 L234.0 309.6 L234.5 309.2 L235.0 308.9 L235.5 308.5 L236.0 308.1 L236.5 307.8 L237.0 307.4 L237.5 307.0 L238.0 306.7 L238.5 306.3 L239.0 306.0 L239.5 305.7 L240.0 305.3 L240.5 305.0 L241.0 304.7 L241.5 304.3 L242.0 304.0 L242.5 303.7 L243.0 303.4 L243.5 303.0 L244.0 302.7 L244.5 302.4 L245.0 302.1 L245.5 301.8 L246.0 301.5 L246.5 301.2 L247.0 300.9 L247.5 300.6 L248.0 300.3 L248.5 300.0 L249.0 299.8 L249.5 299.5 L250.0 299.2 L250.5 298.9 L251.0 298.6 L251.5 298.4 L252.0 298.1 L252.5 297.8 L253.0 297.6 L253.5 297.3 L254.0 297.0 L254.5 296.8 L255.0 296.5 L255.5 296.2 L256.0 296.0 L256.5 295.7 L257.0 295.5 L257.5 295.2 L258.0 295.0 L258.5 294.7 L259.0 294.5 L259.5 294.2 L260.0 294.0 L260.5 293.8 L261.0 293.5 L261.5 293.3 L262.0 293.1 L262.5 292.8 L263.0 292.6 L263.5 292.4 L264.0 292.1 L264.5 291.9 L265.0 291.7 L265.5 291.5 L266.0 291.3 L266.5 291.0 L267.0 290.8 L267.5 290.6 L268.0 290.4 L268.5 290.2 L269.0 290.0 L269.5 289.8 L270.0 289.6 L270.5 289.4 L271.0 289.2 L271.5 289.0 L272.0 288.8 L272.5 288.6 L273.0 288.4 L273.5 288.2 L274.0 288.1 L274.5 287.9 L275.0 287.7 L275.5 287.5 L276.0 287.3 L276.5 287.2 L277.0 287.0 L277.5 286.8 L278.0 286.7 L278.5 286.5 L279.0 286.3 L279.5 286.2 L280.0 286.0 L280.5 285.8 L281.0 285.7 L281.5 285.5 L282.0 285.4 L282.5 285.2 L283.0 285.1 L283.5 284.9 L284.0 284.8 L284.5 284.6 L285.0 284.5 L285.5 284.3 L286.0 284.2 L286.5 284.0 L287.0 283.9 L287.5 283.8 L288.0 283.6 L288.5 283.5 L289.0 283.4 L289.5 283.2 L290.0 283.1 L290.5 283.0 L291.0 282.8 L291.5 282.7 L292.0 282.6 L292.5 282.5 L293.0 282.4 L293.5 282.2 L294.0 282.1 L294.5 282.0 L295.0 281.9 L295.5 281.8 L296.0 281.7 L296.5 281.6 L297.0 281.5 L297.5 281.4 L298.0 281.3 L298.5 281.2 L299.0 281.0 L299.5 280.9 L300.0 280.8 L300.5 280.8 L301.0 280.7 L301.5 280.6 L302.0 280.5 L302.5 280.4 L303.0 280.3 L303.5 280.2 L304.0 280.1 L304.5 280.0 L305.0 279.9 L305.5 279.9 L306.0 279.8 L306.5 279.7 L307.0 279.6 L307.5 279.5 L308.0 279.5 L308.5 279.4 L309.0 279.3 L309.5 279.2" stroke="#8a1a8a"/>
<path d="M87.3 327.2 L87.8 327.4 L88.3 327.5 L88.8 327.6 L89.3 327.8 L89.8 327.9 L90.3 328.1 L90.8 328.3 L91.3 328.5 L91.8 328.6 L92.3 328.7 L92.8 328.8 L93.3 328.9 L93.8 329.5 L94.3 330.1 L94.8 330.6 L95.3 331.2 L95.8 331.4 L96.3 331.7 L96.8 331.9 L97.3 332.1 L97.8 332.3 L98.3 332.5 L98.8 332.7 L99.3 332.8 L99.8 332.7 L100.3 332.5 L100.8 332.3 L101.3 332.2 L101.8 332.6 L102.3 333.0 L102.8 333.5 L103.3 333.9 L103.8 334.0 L104.3 334.0 L104.8 334.1 L105.3 334.1 L105.8 334.1 L106.3 334.0 L106.8 334.0 L107.3 333.9 L107.8 334.2 L108.3 334.4 L108.8 334.7 L109.3 334.9 L109.8 335.1 L110.3 335.3 L110.8 335.6 L111.3 335.8 L111.8 336.0 L112.3 336.2 L112.8 336.4 L113.3 336.6 L113.8 336.7 L114.3 336.8 L114.8 336.8 L115.3 336.9 L115.8 336.7 L116.3 336.6 L116.8 336.4 L117.3 336.3 L117.8 336.5 L118.3 336.7 L118.8 336.9 L119.3 337.1 L119.8 337.1 L120.3 337.2 L120.8 337.2 L121.3 337.2 L121.8 337.5 L122.3 337.7 L122.8 338.0 L123.3 338.3 L123.8 338.3 L124.3 338.3 L124.8 338.3 L125.3 338.3 L125.8 338.1 L126.3 337.8 L126.8 337.6 L127.3 337.4 L127.8 337.5 L128.3 337.6 L128.8 337.8 L129.3 337.9 L129.8 338.0 L130.3 338.1 L130.8 338.2 L131.3 338.3 L131.8 338.3 L132.3 338.3 L132.8 338.3 L133.3 338.4 L133.8 338.7 L134.3 339.1 L134.8 339.4 L135.3 339.8 L135.8 339.7 L136.3 339.6 L136.8 339.5 L137.3 339.4 L137.8 340.1 L138.3 340.7 L138.8 341.4 L139.3 342.0 L139.8 342.1 L140.3 342.2 L140.8 342.2 L141.3 342.3 L141.8 342.1 L142.3 342.0 L142.8 341.9 L143.3 341.7 L143.8 342.1 L144.3 342.5 L144.8 342.9 L145.3 343.3 L145.8 343.4 L146.3 343.5 L146.8 343.6 L147.3 343.7 L147.8 344.2 L148.3 344.7 L148.8 345.2 L149.3 345.7 L149.8 345.8 L150.3 345.8 L150.8 345.9 L151.3 345.9 L151.8 345.8 L152.3 345.7 L152.8 345.5 L153.3 345.4 L153.8 345.7 L154.3 345.9 L154.8 346.2 L155.3 346.5 L155.8 346.9 L156.3 347.3 L156.8 347.6 L157.3 348.0 L157.8 348.4 L158.3 348.9 L158.8 349.3 L159.3 349.8 L159.8 350.0 L160.3 350.2 L160.8 350.4 L161.3 350.5 L161.8 350.5 L162.3 350.5 L162.8 349.6 L163.3 347.4 L163.8 345.7 L164.3 345.4 L164.8 345.6 L165.3 345.7 L165.8 345.7 L166.3 345.6 L166.8 345.5 L167.3 345.5 L167.8 345.2 L168.3 345.4 L168.8 345.8 L169.3 346.4 L169.8 347.5 L170.3 348.5 L170.8 349.7 L171.3 351.0 L171.8 352.5 L172.3 354.1 L172.8 355.9 L173.3 358.3 L173.8 360.6 L174.3 362.1 L174.8 362.5 L175.3 362.8 L175.8 362.7 L176.3 362.6 L176.8 362.5 L177.3 362.3 L177.8 363.2 L178.3 364.1 L178.8 365.1 L179.3 366.1 L179.8 366.2 L180.3 366.4 L180.8 366.8 L181.3 367.2 L181.8 368.1 L182.3 369.2 L182.8 370.2 L183.3 371.4 L183.8 372.4 L184.3 373.3 L184.8 373.7 L185.3 373.8 L185.8 374.3 L186.3 374.9 L186.8 375.4 L187.3 375.9 L187.8 375.7 L188.3 375.5 L188.8 375.3 L189.3 375.1 L189.8 375.4 L190.3 375.9 L190.8 376.3 L191.3 376.8 L191.8 376.6 L192.3 376.6 L192.5 376.6 L192.6 376.6 L192.7 376.6 L192.8 376.7 L192.9 376.7 L193.0 376.8 L193.1 376.9 L193.2 377.0 L193.3 377.1 L193.4 377.5 L193.5 377.9 L193.6 378.3 L193.7 378.7 L193.8 379.1 L193.9 379.5 L194.0 380.0 L194.1 380.4 L194.2 380.9 L194.3 381.3 L194.4 381.8 L194.5 382.2 L194.6 382.7 L194.7 383.2 L194.8 383.7 L194.9 384.2 L195.0 384.7 L195.1 385.2 L195.2 385.8 L195.3 386.3 L195.4 386.8 L195.5 387.2 L195.6 387.7 L195.7 388.2 L195.8 388.7 L195.9 389.3 L196.0 389.9 L196.1 390.5 L196.2 391.1 L196.3 391.8 L196.4 392.5 L196.5 393.3 L196.6 394.1 L196.7 394.9 L196.8 395.9 L196.9 396.9 L197.0 397.9 L197.1 399.1 L197.2 400.4 L197.3 401.8 L197.4 403.3 L197.5 404.9 L197.6 406.8 L197.7 409.0 L197.8 410.4 L197.9 412.1 L198.0 414.1 L198.1 416.5 L198.2 418.0 L198.3 418.0 L198.4 418.0 L198.5 418.0 L198.6 418.0 L198.7 418.0 L198.8 418.0 L198.9 418.0 L199.0 418.0 L199.1 417.8 L199.2 416.0 L199.3 414.5 L199.4 413.2 L199.5 412.0 L199.6 410.4 L199.7 409.0 L199.8 407.7 L199.9 406.5 L200.0 405.5 L200.1 404.5 L200.2 403.6 L200.3 402.8 L200.4 402.0 L200.5 401.2 L200.6 400.5 L200.7 399.8 L200.8 399.1 L200.9 398.5 L201.0 397.9 L201.1 397.3 L201.2 396.7 L201.3 396.1 L201.4 395.6 L201.5 395.0 L201.6 394.5 L201.7 394.0 L201.8 393.5 L201.9 392.9 L202.0 392.4 L202.1 392.0 L202.2 391.5 L202.3 391.0 L202.4 390.5 L202.5 390.1 L202.6 389.6 L202.7 389.1 L202.8 388.7 L202.9 388.2 L203.0 387.8 L203.1 387.4 L203.2 386.9 L203.3 386.5 L203.4 386.1 L203.5 385.8 L203.6 385.4 L203.7 385.0 L203.8 384.7 L203.9 384.3 L204.0 384.0 L204.1 383.6 L204.2 383.3 L204.3 382.9 L204.4 382.6 L204.5 382.3 L204.5 382.3 L205.0 380.6 L205.5 378.8 L206.0 376.8 L206.5 374.9 L207.0 372.9 L207.5 371.1 L208.0 369.4 L208.5 367.8 L209.0 366.1 L209.5 364.6 L210.0 363.1 L210.5 361.6 L211.0 360.2 L211.5 358.9 L212.0 357.7 L212.5 356.6 L213.0 355.5 L213.5 354.3 L214.0 353.1 L214.5 351.9 L215.0 350.7 L215.5 349.4 L216.0 347.9 L216.5 346.5 L217.0 345.1 L217.5 343.7 L218.0 342.5 L218.5 341.4 L219.0 340.2 L219.5 339.1 L220.0 338.0 L220.5 337.0 L221.0 335.9 L221.5 334.8 L222.0 333.6 L222.5 332.4 L223.0 331.2 L223.5 329.7 L224.0 328.6 L224.5 327.5 L225.0 326.5 L225.5 325.4 L226.0 324.3 L226.5 323.3 L227.0 322.2 L227.5 321.2 L228.0 320.1 L228.5 319.1 L229.0 318.1 L229.5 317.1 L230.0 316.0 L230.5 315.0 L231.0 314.0 L231.5 313.0 L232.0 312.1 L232.5 311.1 L233.0 310.1 L233.5 309.1 L234.0 308.2 L234.5 307.2 L235.0 306.2 L235.5 305.3 L236.0 304.4 L236.5 303.4 L237.0 302.5 L237.5 301.5 L238.0 300.6 L238.5 299.7 L239.0 298.8 L239.5 297.9 L240.0 297.0 L240.5 296.1 L241.0 295.2 L241.5 294.3 L242.0 293.5 L242.5 292.6 L243.0 291.8 L243.5 291.0 L244.0 290.3 L244.5 289.5 L245.0 288.8 L245.5 288.1 L246.0 287.4 L246.5 286.7 L247.0 286.1 L247.5 285.5 L248.0 284.9 L248.5 284.4 L249.0 283.8 L249.5 283.3 L250.0 282.8 L250.5 282.4 L251.0 281.9 L251.5 281.4 L252.0 281.0 L252.5 280.6 L253.0 280.2 L253.5 279.8 L254.0 279.4 L254.5 279.1 L255.0 278.7 L255.5 278.4 L256.0 278.0 L256.5 277.7 L257.0 277.4 L257.5 277.1 L258.0 276.8 L258.5 276.5 L259.0 276.2 L259.5 275.9 L260.0 275.6 L260.5 275.3 L261.0 275.1 L261.5 274.8 L262.0 274.5 L262.5 274.3 L263.0 274.0 L263.5 273.8 L264.0 273.6 L264.5 273.3 L265.0 273.1 L265.5 272.8 L266.0 272.6 L266.5 272.4 L267.0 272.2 L267.5 271.9 L268.0 271.7 L268.5 271.5 L269.0 271.3 L269.5 271.1 L270.0 270.9 L270.5 270.6 L271.0 270.4 L271.5 270.2 L272.0 270.0 L272.5 269.8 L273.0 269.6 L273.5 269.4 L274.0 269.2 L274.5 269.0 L275.0 268.8 L275.5 268.6 L276.0 268.4 L276.5 268.2 L277.0 268.0 L277.5 267.8 L278.0 267.6 L278.5 267.4 L279.0 267.2 L279.5 267.0 L280.0 266.8 L280.5 266.6 L281.0 266.4 L281.5 266.3 L282.0 266.1 L282.5 265.9 L283.0 265.7 L283.5 265.5 L284.0 265.4 L284.5 265.2 L285.0 265.0 L285.5 264.9 L286.0 264.7 L286.5 264.5 L287.0 264.4 L287.5 264.2 L288.0 264.0 L288.5 263.9 L289.0 263.7 L289.5 263.6 L290.0 263.4 L290.5 263.3 L291.0 263.1 L291.5 263.0 L292.0 262.8 L292.5 262.7 L293.0 262.5 L293.5 262.4 L294.0 262.2 L294.5 262.1 L295.0 262.0 L295.5 261.8 L296.0 261.7 L296.5 261.5 L297.0 261.4 L297.5 261.3 L298.0 261.2 L298.5 261.0 L299.0 260.9 L299.5 260.8 L300.0 260.7 L300.5 260.5 L301.0 260.4 L301.5 260.3 L302.0 260.2 L302.5 260.1 L303.0 260.0 L303.5 259.9 L304.0 259.8 L304.5 259.6 L305.0 259.5 L305.5 259.4 L306.0 259.3 L306.5 259.2 L307.0 259.1 L307.5 259.0 L308.0 258.9 L308.5 258.9 L309.0 258.8 L309.5 258.7" stroke="#8a8a1a"/>
<path d="M87.3 372.9 L87.8 372.5 L88.3 372.2 L88.8 372.8 L89.3 373.4 L89.8 373.2 L90.3 373.0 L90.8 372.8 L91.3 372.7 L91.8 372.6 L92.3 372.6 L92.8 372.6 L93.3 372.6 L93.8 372.5 L94.3 372.3 L94.8 372.9 L95.3 373.5 L95.8 373.5 L96.3 373.5 L96.8 373.4 L97.3 373.3 L97.8 373.3 L98.3 373.3 L98.8 373.7 L99.3 374.1 L99.8 373.8 L100.3 373.6 L100.8 374.0 L101.3 374.3 L101.8 374.3 L102.3 374.3 L102.8 375.1 L103.3 375.9 L103.8 375.2 L104.3 374.4 L104.8 375.3 L105.3 376.1 L105.8 375.8 L106.3 375.4 L106.8 375.5 L107.3 375.5 L107.8 375.9 L108.3 376.2 L108.8 376.8 L109.3 377.4 L109.8 377.0 L110.3 376.6 L110.8 376.3 L111.3 376.0 L111.8 376.4 L112.3 376.8 L112.8 376.8 L113.3 376.8 L113.8 376.6 L114.3 376.4 L114.8 376.9 L115.3 377.5 L115.8 377.3 L116.3 377.2 L116.8 377.9 L117.3 378.7 L117.8 378.4 L118.3 378.1 L118.8 378.3 L119.3 378.4 L119.8 379.4 L120.3 380.3 L120.8 379.9 L121.3 379.6 L121.8 379.3 L122.3 379.0 L122.8 378.9 L123.3 378.7 L123.8 379.3 L124.3 379.9 L124.8 380.2 L125.3 380.5 L125.8 380.8 L126.3 381.1 L126.8 381.3 L127.3 381.4 L127.8 381.3 L128.3 381.2 L128.8 381.2 L129.3 381.1 L129.8 381.5 L130.3 382.0 L130.8 382.2 L131.3 382.4 L131.8 382.0 L132.3 381.6 L132.8 381.9 L133.3 382.2 L133.8 382.2 L134.3 382.2 L134.8 382.4 L135.3 382.6 L135.8 382.9 L136.3 383.3 L136.8 383.3 L137.3 383.2 L137.8 383.3 L138.3 383.3 L138.8 383.7 L139.3 384.2 L139.8 384.6 L140.3 385.0 L140.8 385.2 L141.3 385.5 L141.8 385.1 L142.3 384.6 L142.8 384.4 L143.3 384.1 L143.8 384.7 L144.3 385.4 L144.8 385.3 L145.3 385.3 L145.8 385.1 L146.3 385.0 L146.8 385.5 L147.3 385.9 L147.8 385.4 L148.3 385.0 L148.8 385.1 L149.3 385.2 L149.8 385.3 L150.3 385.4 L150.8 385.1 L151.3 384.7 L151.8 385.2 L152.3 385.7 L152.8 385.7 L153.3 385.8 L153.8 385.8 L154.3 385.9 L154.8 386.3 L155.3 386.7 L155.8 387.0 L156.3 387.2 L156.8 387.9 L157.3 388.5 L157.8 388.5 L158.3 388.5 L158.8 389.0 L159.3 389.5 L159.8 390.3 L160.3 391.1 L160.8 391.1 L161.3 391.0 L161.8 391.2 L162.3 391.4 L162.8 391.2 L163.3 391.1 L163.8 391.4 L164.3 391.7 L164.8 391.9 L165.3 392.1 L165.8 391.9 L166.3 391.7 L166.8 392.1 L167.3 392.6 L167.8 392.7 L168.3 392.8 L168.8 392.6 L169.3 392.4 L169.8 392.7 L170.3 393.0 L170.8 392.9 L171.3 392.8 L171.8 393.6 L172.3 394.4 L172.8 394.6 L173.3 394.9 L173.8 394.2 L174.3 393.5 L174.8 394.0 L175.3 394.6 L175.8 394.5 L176.3 394.4 L176.8 395.1 L177.3 395.8 L177.8 395.5 L178.3 395.2 L178.8 395.9 L179.3 396.6 L179.8 397.2 L180.3 397.9 L180.8 398.2 L181.3 398.4 L181.8 399.8 L182.3 401.0 L182.8 401.1 L183.3 401.1 L183.8 401.5 L184.3 401.9 L184.8 402.5 L185.3 403.1 L185.8 403.0 L186.3 402.9 L186.8 404.3 L187.3 405.7 L187.8 406.2 L188.3 406.6 L188.8 406.8 L189.3 407.1 L189.8 408.2 L190.3 409.3 L190.8 409.6 L191.3 409.9 L191.8 411.1 L192.3 412.2 L192.5 412.5 L192.6 412.7 L192.7 412.8 L192.8 413.0 L192.9 413.2 L193.0 413.3 L193.1 413.5 L193.2 413.7 L193.3 413.9 L193.4 414.3 L193.5 414.6 L193.6 415.0 L193.7 415.4 L193.8 415.8 L193.9 416.2 L194.0 416.7 L194.1 417.1 L194.2 417.5 L194.3 418.0 L194.4 418.1 L194.5 418.2 L194.6 418.3 L194.7 418.4 L194.8 418.6 L194.9 418.7 L195.0 418.9 L195.1 419.1 L195.2 419.3 L195.3 419.5 L195.4 420.0 L195.5 420.5 L195.6 421.0 L195.7 421.6 L195.8 422.2 L195.9 422.8 L196.0 423.4 L196.1 424.1 L196.2 424.8 L196.3 425.6 L196.4 426.3 L196.5 427.0 L196.6 427.9 L196.7 428.7 L196.8 429.7 L196.9 430.7 L197.0 431.8 L197.1 433.0 L197.2 434.4 L197.3 435.9 L197.4 437.6 L197.5 439.6 L197.6 440.8 L197.7 442.2 L197.8 443.7 L197.9 445.5 L198.0 447.6 L198.1 450.2 L198.2 453.5 L198.3 455.0 L198.4 455.0 L198.5 455.0 L198.6 450.6 L198.7 442.7 L198.8 438.1 L198.9 434.8 L199.0 432.3 L199.1 430.3 L199.2 428.5 L199.3 427.0 L199.4 425.7 L199.5 424.5 L199.6 423.4 L199.7 422.4 L199.8 421.5 L199.9 420.6 L200.0 419.8 L200.1 419.1 L200.2 418.3 L200.3 417.7 L200.4 417.1 L200.5 416.5 L200.6 416.0 L200.7 415.4 L200.8 415.0 L200.9 414.5 L201.0 414.1 L201.1 413.6 L201.2 413.2 L201.3 412.9 L201.4 412.4 L201.5 411.9 L201.6 410.3 L201.7 408.8 L201.8 407.5 L201.9 406.2 L202.0 405.0 L202.1 403.9 L202.2 402.8 L202.3 401.9 L202.4 401.1 L202.5 400.5 L202.6 399.9 L202.7 399.3 L202.8 398.8 L202.9 398.3 L203.0 397.9 L203.1 397.5 L203.2 397.1 L203.3 396.7 L203.4 396.3 L203.5 395.8 L203.6 395.4 L203.7 395.0 L203.8 394.7 L203.9 394.3 L204.0 393.9 L204.1 393.6 L204.2 393.3 L204.3 392.9 L204.4 392.6 L204.5 392.4 L204.5 392.4 L205.0 391.0 L205.5 389.7 L206.0 388.3 L206.5 386.9 L207.0 385.5 L207.5 384.2 L208.0 382.9 L208.5 381.6 L209.0 380.1 L209.5 378.6 L210.0 377.1 L210.5 375.4 L211.0 373.6 L211.5 372.0 L212.0 370.7 L212.5 369.3 L213.0 367.7 L213.5 366.0 L214.0 364.4 L214.5 362.9 L215.0 361.6 L215.5 360.3 L216.0 359.2 L216.5 358.2 L217.0 357.2 L217.5 356.0 L218.0 354.5 L218.5 353.2 L219.0 352.3 L219.5 351.4 L220.0 350.8 L220.5 349.9 L221.0 348.7 L221.5 347.7 L222.0 346.7 L222.5 345.8 L223.0 344.8 L223.5 343.6 L224.0 342.6 L224.5 341.7 L225.0 340.7 L225.5 339.8 L226.0 338.9 L226.5 338.0 L227.0 337.1 L227.5 336.2 L228.0 335.3 L228.5 334.5 L229.0 333.7 L229.5 332.8 L230.0 332.0 L230.5 331.2 L231.0 330.4 L231.5 329.6 L232.0 328.8 L232.5 328.0 L233.0 327.2 L233.5 326.5 L234.0 325.7 L234.5 324.9 L235.0 324.1 L235.5 323.4 L236.0 322.6 L236.5 321.9 L237.0 321.1 L237.5 320.4 L238.0 319.6 L238.5 318.9 L239.0 318.2 L239.5 317.5 L240.0 316.8 L240.5 316.1 L241.0 315.5 L241.5 314.8 L242.0 314.2 L242.5 313.6 L243.0 313.0 L243.5 312.4 L244.0 311.8 L244.5 311.3 L245.0 310.7 L245.5 310.2 L246.0 309.7 L246.5 309.2 L247.0 308.7 L247.5 308.2 L248.0 307.7 L248.5 307.3 L249.0 306.8 L249.5 306.4 L250.0 306.0 L250.5 305.5 L251.0 305.1 L251.5 304.7 L252.0 304.3 L252.5 303.9 L253.0 303.5 L253.5 303.2 L254.0 302.8 L254.5 302.4 L255.0 302.1 L255.5 301.7 L256.0 301.4 L256.5 301.0 L257.0 300.7 L257.5 300.4 L258.0 300.1 L258.5 299.7 L259.0 299.4 L259.5 299.1 L260.0 298.8 L260.5 298.5 L261.0 298.2 L261.5 297.9 L262.0 297.7 L262.5 297.4 L263.0 297.1 L263.5 296.8 L264.0 296.6 L264.5 296.3 L265.0 296.0 L265.5 295.8 L266.0 295.5 L266.5 295.3 L267.0 295.0 L267.5 294.8 L268.0 294.6 L268.5 294.3 L269.0 294.1 L269.5 293.9 L270.0 293.6 L270.5 293.4 L271.0 293.2 L271.5 293.0 L272.0 292.7 L272.5 292.5 L273.0 292.3 L273.5 292.1 L274.0 291.9 L274.5 291.7 L275.0 291.5 L275.5 291.3 L276.0 291.1 L276.5 290.9 L277.0 290.7 L277.5 290.5 L278.0 290.3 L278.5 290.1 L279.0 289.9 L279.5 289.7 L280.0 289.5 L280.5 289.3 L281.0 289.1 L281.5 288.9 L282.0 288.7 L282.5 288.6 L283.0 288.4 L283.5 288.2 L284.0 288.0 L284.5 287.8 L285.0 287.7 L285.5 287.5 L286.0 287.3 L286.5 287.1 L287.0 286.9 L287.5 286.8 L288.0 286.6 L288.5 286.4 L289.0 286.3 L289.5 286.1 L290.0 285.9 L290.5 285.7 L291.0 285.6 L291.5 285.4 L292.0 285.2 L292.5 285.1 L293.0 284.9 L293.5 284.8 L294.0 284.6 L294.5 284.4 L295.0 284.3 L295.5 284.1 L296.0 284.0 L296.5 283.8 L297.0 283.6 L297.5 283.5 L298.0 283.3 L298.5 283.2 L299.0 283.0 L299.5 282.9 L300.0 282.7 L300.5 282.6 L301.0 282.4 L301.5 282.3 L302.0 282.1 L302.5 282.0 L303.0 281.8 L303.5 281.7 L304.0 281.6 L304.5 281.4 L305.0 281.3 L305.5 281.1 L306.0 281.0 L306.5 280.9 L307.0 280.7 L307.5 280.6 L308.0 280.4 L308.5 280.3 L309.0 280.2 L309.5 280.0" stroke="#ff19ff"/>
<path d="M87.3 329.4 L87.8 329.4 L88.3 329.4 L88.8 329.4 L89.3 329.5 L89.8 329.5 L90.3 329.5 L90.8 329.5 L91.3 329.4 L91.8 329.4 L92.3 329.4 L92.8 329.4 L93.3 329.3 L93.8 329.5 L94.3 329.6 L94.8 329.7 L95.3 329.9 L95.8 330.0 L96.3 330.1 L96.8 330.1 L97.3 330.2 L97.8 330.2 L98.3 330.2 L98.8 330.2 L99.3 330.3 L99.8 330.3 L100.3 330.3 L100.8 330.3 L101.3 330.4 L101.8 330.4 L102.3 330.4 L102.8 330.4 L103.3 330.5 L103.8 330.5 L104.3 330.5 L104.8 330.5 L105.3 330.6 L105.8 330.7 L106.3 330.8 L106.8 330.9 L107.3 331.0 L107.8 331.1 L108.3 331.2 L108.8 331.2 L109.3 331.2 L109.8 331.2 L110.3 331.2 L110.8 331.2 L111.3 331.2 L111.8 331.4 L112.3 331.5 L112.8 331.6 L113.3 331.7 L113.8 331.8 L114.3 332.0 L114.8 332.1 L115.3 332.2 L115.8 332.3 L116.3 332.4 L116.8 332.5 L117.3 332.6 L117.8 332.7 L118.3 332.7 L118.8 332.8 L119.3 332.9 L119.8 332.9 L120.3 333.0 L120.8 333.1 L121.3 333.2 L121.8 333.2 L122.3 333.3 L122.8 333.4 L123.3 333.5 L123.8 333.6 L124.3 333.7 L124.8 333.8 L125.3 333.9 L125.8 334.1 L126.3 334.2 L126.8 334.3 L127.3 334.4 L127.8 334.5 L128.3 334.7 L128.8 334.8 L129.3 334.9 L129.8 335.1 L130.3 335.3 L130.8 335.5 L131.3 335.7 L131.8 335.8 L132.3 336.0 L132.8 336.2 L133.3 336.4 L133.8 336.5 L134.3 336.7 L134.8 336.8 L135.3 337.0 L135.8 337.1 L136.3 337.2 L136.8 337.3 L137.3 337.4 L137.8 337.5 L138.3 337.7 L138.8 337.8 L139.3 338.0 L139.8 338.1 L140.3 338.3 L140.8 338.4 L141.3 338.6 L141.8 338.7 L142.3 338.9 L142.8 339.0 L143.3 339.1 L143.8 339.3 L144.3 339.4 L144.8 339.6 L145.3 339.7 L145.8 339.8 L146.3 340.0 L146.8 340.1 L147.3 340.3 L147.8 340.4 L148.3 340.6 L148.8 340.8 L149.3 341.0 L149.8 341.1 L150.3 341.3 L150.8 341.4 L151.3 341.5 L151.8 341.6 L152.3 341.7 L152.8 341.8 L153.3 341.9 L153.8 342.1 L154.3 342.3 L154.8 342.5 L155.3 342.7 L155.8 342.9 L156.3 343.1 L156.8 343.3 L157.3 343.6 L157.8 343.8 L158.3 344.0 L158.8 344.2 L159.3 344.4 L159.8 344.6 L160.3 344.7 L160.8 344.9 L161.3 345.1 L161.8 345.3 L162.3 345.5 L162.8 345.6 L163.3 345.7 L163.8 345.7 L164.3 345.8 L164.8 345.9 L165.3 346.0 L165.8 346.2 L166.3 346.4 L166.8 346.7 L167.3 346.9 L167.8 347.1 L168.3 347.4 L168.8 347.6 L169.3 347.9 L169.8 348.2 L170.3 348.4 L170.8 348.7 L171.3 349.0 L171.8 349.2 L172.3 349.4 L172.8 349.6 L173.3 349.8 L173.8 350.0 L174.3 350.2 L174.8 350.5 L175.3 350.7 L175.8 351.0 L176.3 351.3 L176.8 351.6 L177.3 351.9 L177.8 352.2 L178.3 352.6 L178.8 352.9 L179.3 353.3 L179.8 353.7 L180.3 354.1 L180.8 354.4 L181.3 354.7 L181.8 355.0 L182.3 355.4 L182.8 355.7 L183.3 356.1 L183.8 356.7 L184.3 357.2 L184.8 357.8 L185.3 358.4 L185.8 359.0 L186.3 359.7 L186.8 360.4 L187.3 361.1 L187.8 361.8 L188.3 362.6 L188.8 363.5 L189.3 364.3 L189.8 365.1 L190.3 365.9 L190.8 366.8 L191.3 367.8 L191.8 368.8 L192.3 369.9 L192.5 370.5 L192.6 370.8 L192.7 371.0 L192.8 371.3 L192.9 371.6 L193.0 371.9 L193.1 372.2 L193.2 372.5 L193.3 372.8 L193.4 373.2 L193.5 373.5 L193.6 373.8 L193.7 374.1 L193.8 374.5 L193.9 374.8 L194.0 375.2 L194.1 375.6 L194.2 375.9 L194.3 376.3 L194.4 376.7 L194.5 377.1 L194.6 377.5 L194.7 377.9 L194.8 378.3 L194.9 378.8 L195.0 379.2 L195.1 379.7 L195.2 380.1 L195.3 380.6 L195.4 381.1 L195.5 381.5 L195.6 382.0 L195.7 382.5 L195.8 383.1 L195.9 383.6 L196.0 384.2 L196.1 384.7 L196.2 385.3 L196.3 386.0 L196.4 386.6 L196.5 387.3 L196.6 388.0 L196.7 388.7 L196.8 389.4 L196.9 390.2 L197.0 391.0 L197.1 391.9 L197.2 392.8 L197.3 393.8 L197.4 394.8 L197.5 395.8 L197.6 397.0 L197.7 398.1 L197.8 399.6 L197.9 401.4 L198.0 403.4 L198.1 404.0 L198.2 404.0 L198.3 404.0 L198.4 404.0 L198.5 404.0 L198.6 404.0 L198.7 404.0 L198.8 404.0 L198.9 404.0 L199.0 404.0 L199.1 402.2 L199.2 400.4 L199.3 398.9 L199.4 397.6 L199.5 396.4 L199.6 395.3 L199.7 394.3 L199.8 393.4 L199.9 392.6 L200.0 391.8 L200.1 391.0 L200.2 390.4 L200.3 389.7 L200.4 389.1 L200.5 388.5 L200.6 388.0 L200.7 387.4 L200.8 386.9 L200.9 386.5 L201.0 386.0 L201.1 385.2 L201.2 384.5 L201.3 383.8 L201.4 383.1 L201.5 382.4 L201.6 381.8 L201.7 381.2 L201.8 380.6 L201.9 380.0 L202.0 379.5 L202.1 378.9 L202.2 378.4 L202.3 377.9 L202.4 377.4 L202.5 376.9 L202.6 376.4 L202.7 376.0 L202.8 375.5 L202.9 375.0 L203.0 374.6 L203.1 374.2 L203.2 373.7 L203.3 373.3 L203.4 372.9 L203.5 372.5 L203.6 372.1 L203.7 371.7 L203.8 371.3 L203.9 370.9 L204.0 370.5 L204.1 370.1 L204.2 369.7 L204.3 369.4 L204.4 369.0 L204.5 368.6 L204.5 368.6 L205.0 366.9 L205.5 365.1 L206.0 363.5 L206.5 361.9 L207.0 360.3 L207.5 358.8 L208.0 357.3 L208.5 355.8 L209.0 354.4 L209.5 352.9 L210.0 351.5 L210.5 350.1 L211.0 348.7 L211.5 347.4 L212.0 346.0 L212.5 344.7 L213.0 343.4 L213.5 342.1 L214.0 340.9 L214.5 339.7 L215.0 338.5 L215.5 337.4 L216.0 336.2 L216.5 335.1 L217.0 333.8 L217.5 332.6 L218.0 331.4 L218.5 330.2 L219.0 329.0 L219.5 327.9 L220.0 326.8 L220.5 325.7 L221.0 324.6 L221.5 323.5 L222.0 322.4 L222.5 321.3 L223.0 320.2 L223.5 319.1 L224.0 318.0 L224.5 316.9 L225.0 315.8 L225.5 314.8 L226.0 313.7 L226.5 312.7 L227.0 311.6 L227.5 310.6 L228.0 309.6 L228.5 308.6 L229.0 307.6 L229.5 306.6 L230.0 305.6 L230.5 304.6 L231.0 303.7 L231.5 302.7 L232.0 301.8 L232.5 300.9 L233.0 300.0 L233.5 299.2 L234.0 298.3 L234.5 297.5 L235.0 296.7 L235.5 295.9 L236.0 295.2 L236.5 294.4 L237.0 293.7 L237.5 293.0 L238.0 292.3 L238.5 291.7 L239.0 291.0 L239.5 290.4 L240.0 289.8 L240.5 289.2 L241.0 288.6 L241.5 288.1 L242.0 287.5 L242.5 287.0 L243.0 286.5 L243.5 286.0 L244.0 285.5 L244.5 285.0 L245.0 284.6 L245.5 284.1 L246.0 283.7 L246.5 283.3 L247.0 282.8 L247.5 282.4 L248.0 282.0 L248.5 281.7 L249.0 281.3 L249.5 280.9 L250.0 280.6 L250.5 280.2 L251.0 279.9 L251.5 279.5 L252.0 279.2 L252.5 278.9 L253.0 278.6 L253.5 278.2 L254.0 277.9 L254.5 277.6 L255.0 277.4 L255.5 277.1 L256.0 276.8 L256.5 276.5 L257.0 276.3 L257.5 276.0 L258.0 275.7 L258.5 275.5 L259.0 275.2 L259.5 275.0 L260.0 274.7 L260.5 274.5 L261.0 274.3 L261.5 274.1 L262.0 273.8 L262.5 273.6 L263.0 273.4 L263.5 273.2 L264.0 273.0 L264.5 272.8 L265.0 272.6 L265.5 272.4 L266.0 272.2 L266.5 272.0 L267.0 271.8 L267.5 271.6 L268.0 271.4 L268.5 271.2 L269.0 271.0 L269.5 270.8 L270.0 270.7 L270.5 270.5 L271.0 270.3 L271.5 270.1 L272.0 270.0 L272.5 269.8 L273.0 269.6 L273.5 269.5 L274.0 269.3 L274.5 269.1 L275.0 269.0 L275.5 268.8 L276.0 268.7 L276.5 268.5 L277.0 268.4 L277.5 268.2 L278.0 268.1 L278.5 267.9 L279.0 267.8 L279.5 267.6 L280.0 267.5 L280.5 267.4 L281.0 267.2 L281.5 267.1 L282.0 266.9 L282.5 266.8 L283.0 266.7 L283.5 266.6 L284.0 266.4 L284.5 266.3 L285.0 266.2 L285.5 266.0 L286.0 265.9 L286.5 265.8 L287.0 265.7 L287.5 265.5 L288.0 265.4 L288.5 265.3 L289.0 265.2 L289.5 265.1 L290.0 265.0 L290.5 264.8 L291.0 264.7 L291.5 264.6 L292.0 264.5 L292.5 264.4 L293.0 264.3 L293.5 264.2 L294.0 264.1 L294.5 264.0 L295.0 263.9 L295.5 263.8 L296.0 263.6 L296.5 263.5 L297.0 263.4 L297.5 263.3 L298.0 263.2 L298.5 263.1 L299.0 263.0 L299.5 262.9 L300.0 262.9 L300.5 262.8 L301.0 262.7 L301.5 262.6 L302.0 262.5 L302.5 262.4 L303.0 262.3 L303.5 262.2 L304.0 262.1 L304.5 262.0 L305.0 261.9 L305.5 261.8 L306.0 261.8 L306.5 261.7 L307.0 261.6 L307.5 261.5 L308.0 261.4 L308.5 261.3 L309.0 261.2 L309.5 261.2" stroke="#10f0f0"/>
<path d="M87.3 369.8 L87.8 370.0 L88.3 370.3 L88.8 370.5 L89.3 370.6 L89.8 370.8 L90.3 370.9 L90.8 371.2 L91.3 371.5 L91.8 371.8 L92.3 372.0 L92.8 372.2 L93.3 372.4 L93.8 372.5 L94.3 372.3 L94.8 372.1 L95.3 372.0 L95.8 372.0 L96.3 372.0 L96.8 372.0 L97.3 372.2 L97.8 372.5 L98.3 372.8 L98.8 373.0 L99.3 373.2 L99.8 373.4 L100.3 373.5 L100.8 373.6 L101.3 373.7 L101.8 373.7 L102.3 373.7 L102.8 373.6 L103.3 373.6 L103.8 374.1 L104.3 374.7 L104.8 375.3 L105.3 375.4 L105.8 375.3 L106.3 375.3 L106.8 375.6 L107.3 376.1 L107.8 376.7 L108.3 377.0 L108.8 376.9 L109.3 376.8 L109.8 376.8 L110.3 377.1 L110.8 377.3 L111.3 377.6 L111.8 377.3 L112.3 377.1 L112.8 376.9 L113.3 377.2 L113.8 377.6 L114.3 377.9 L114.8 378.0 L115.3 378.0 L115.8 377.9 L116.3 377.9 L116.8 378.1 L117.3 378.3 L117.8 378.5 L118.3 378.2 L118.8 378.0 L119.3 377.7 L119.8 378.2 L120.3 378.7 L120.8 379.2 L121.3 379.4 L121.8 379.5 L122.3 379.5 L122.8 379.6 L123.3 379.7 L123.8 379.8 L124.3 380.0 L124.8 380.2 L125.3 380.4 L125.8 380.6 L126.3 380.7 L126.8 380.9 L127.3 381.1 L127.8 381.2 L128.3 381.4 L128.8 381.6 L129.3 381.6 L129.8 381.6 L130.3 381.7 L130.8 381.8 L131.3 382.0 L131.8 382.2 L132.3 382.3 L132.8 382.2 L133.3 382.1 L133.8 382.1 L134.3 382.2 L134.8 382.3 L135.3 382.4 L135.8 382.9 L136.3 383.4 L136.8 383.9 L137.3 383.8 L137.8 383.6 L138.3 383.4 L138.8 383.7 L139.3 384.2 L139.8 384.7 L140.3 384.9 L140.8 384.5 L141.3 384.1 L141.8 383.9 L142.3 384.2 L142.8 384.5 L143.3 384.9 L143.8 384.9 L144.3 384.9 L144.8 384.9 L145.3 385.0 L145.8 385.2 L146.3 385.3 L146.8 385.4 L147.3 385.5 L147.8 385.6 L148.3 385.7 L148.8 385.7 L149.3 385.6 L149.8 385.6 L150.3 385.7 L150.8 385.7 L151.3 385.7 L151.8 385.7 L152.3 385.8 L152.8 385.8 L153.3 386.2 L153.8 386.8 L154.3 387.4 L154.8 387.9 L155.3 388.4 L155.8 388.9 L156.3 389.3 L156.8 389.3 L157.3 389.3 L157.8 389.4 L158.3 389.8 L158.8 390.2 L159.3 390.6 L159.8 391.1 L160.3 391.5 L160.8 391.8 L161.3 392.4 L161.8 393.1 L162.3 393.7 L162.8 393.8 L163.3 393.5 L163.8 393.2 L164.3 393.2 L164.8 393.8 L165.3 394.3 L165.8 394.7 L166.3 394.5 L166.8 394.3 L167.3 394.1 L167.8 394.2 L168.3 394.3 L168.8 394.5 L169.3 394.8 L169.8 395.1 L170.3 395.5 L170.8 395.9 L171.3 396.3 L171.8 396.8 L172.3 397.1 L172.8 397.4 L173.3 397.6 L173.8 397.9 L174.3 398.5 L174.8 399.0 L175.3 399.6 L175.8 399.8 L176.3 400.0 L176.8 400.3 L177.3 400.7 L177.8 401.3 L178.3 401.8 L178.8 402.4 L179.3 402.9 L179.8 403.5 L180.3 404.2 L180.8 404.9 L181.3 405.7 L181.8 406.4 L182.3 406.8 L182.8 407.2 L183.3 407.7 L183.8 408.5 L184.3 409.4 L184.8 410.3 L185.3 411.6 L185.8 412.9 L186.3 414.3 L186.8 415.2 L187.3 415.8 L187.8 416.4 L188.3 417.1 L188.8 418.1 L189.3 419.0 L189.8 420.1 L190.3 421.6 L190.8 423.1 L191.3 424.8 L191.8 425.6 L192.3 426.5 L192.5 426.9 L192.6 427.0 L192.7 427.2 L192.8 427.5 L192.9 427.7 L193.0 428.0 L193.1 428.3 L193.2 428.7 L193.3 429.0 L193.4 429.4 L193.5 429.8 L193.6 430.1 L193.7 430.5 L193.8 430.9 L193.9 431.3 L194.0 431.7 L194.1 432.1 L194.2 432.5 L194.3 432.9 L194.4 433.4 L194.5 433.8 L194.6 434.2 L194.7 434.6 L194.8 435.1 L194.9 435.5 L195.0 436.0 L195.1 436.4 L195.2 436.9 L195.3 437.4 L195.4 437.9 L195.5 438.4 L195.6 439.0 L195.7 439.5 L195.8 440.1 L195.9 440.7 L196.0 441.3 L196.1 441.9 L196.2 442.6 L196.3 443.3 L196.4 444.0 L196.5 444.7 L196.6 445.5 L196.7 446.3 L196.8 447.1 L196.9 448.0 L197.0 448.9 L197.1 449.8 L197.2 450.8 L197.3 451.9 L197.4 453.0 L197.5 454.3 L197.6 455.6 L197.7 457.0 L197.8 458.6 L197.9 460.4 L198.0 462.3 L198.1 464.9 L198.2 468.0 L198.3 468.0 L198.4 468.0 L198.5 468.0 L198.6 468.0 L198.7 467.1 L198.8 462.5 L198.9 459.3 L199.0 456.8 L199.1 454.7 L199.2 453.0 L199.3 451.5 L199.4 450.1 L199.5 449.0 L199.6 447.9 L199.7 446.9 L199.8 446.0 L199.9 445.2 L200.0 444.4 L200.1 443.7 L200.2 443.0 L200.3 442.4 L200.4 441.8 L200.5 441.2 L200.6 440.4 L200.7 439.6 L200.8 438.9 L200.9 438.2 L201.0 437.4 L201.1 436.7 L201.2 436.1 L201.3 435.4 L201.4 434.8 L201.5 434.2 L201.6 433.6 L201.7 433.0 L201.8 432.4 L201.9 431.8 L202.0 431.2 L202.1 430.7 L202.2 430.1 L202.3 429.6 L202.4 429.1 L202.5 428.5 L202.6 428.1 L202.7 427.6 L202.8 427.2 L202.9 426.7 L203.0 426.3 L203.1 425.8 L203.2 425.4 L203.3 425.0 L203.4 424.6 L203.5 424.1 L203.6 423.7 L203.7 423.3 L203.8 422.9 L203.9 422.6 L204.0 422.2 L204.1 421.8 L204.2 421.4 L204.3 421.1 L204.4 420.7 L204.5 420.4 L204.5 420.4 L205.0 418.6 L205.5 417.0 L206.0 415.3 L206.5 413.6 L207.0 411.9 L207.5 410.1 L208.0 408.4 L208.5 406.6 L209.0 404.9 L209.5 403.5 L210.0 402.0 L210.5 400.5 L211.0 399.0 L211.5 397.5 L212.0 396.0 L212.5 394.4 L213.0 392.7 L213.5 391.0 L214.0 389.3 L214.5 387.5 L215.0 385.7 L215.5 384.0 L216.0 382.4 L216.5 381.0 L217.0 379.5 L217.5 378.1 L218.0 376.8 L218.5 375.6 L219.0 374.3 L219.5 373.2 L220.0 372.2 L220.5 371.6 L221.0 371.1 L221.5 370.7 L222.0 370.2 L222.5 369.7 L223.0 369.1 L223.5 368.7 L224.0 368.1 L224.5 367.4 L225.0 366.7 L225.5 366.0 L226.0 365.1 L226.5 364.1 L227.0 363.1 L227.5 362.0 L228.0 360.8 L228.5 359.6 L229.0 358.3 L229.5 357.1 L230.0 355.8 L230.5 354.5 L231.0 353.3 L231.5 352.0 L232.0 350.8 L232.5 349.6 L233.0 348.4 L233.5 347.3 L234.0 346.2 L234.5 345.1 L235.0 344.1 L235.5 343.1 L236.0 342.1 L236.5 341.2 L237.0 340.3 L237.5 339.4 L238.0 338.5 L238.5 337.7 L239.0 336.9 L239.5 336.2 L240.0 335.4 L240.5 334.7 L241.0 334.0 L241.5 333.4 L242.0 332.7 L242.5 332.1 L243.0 331.5 L243.5 330.9 L244.0 330.3 L244.5 329.7 L245.0 329.2 L245.5 328.6 L246.0 328.0 L246.5 327.5 L247.0 326.9 L247.5 326.3 L248.0 325.8 L248.5 325.2 L249.0 324.7 L249.5 324.1 L250.0 323.5 L250.5 322.9 L251.0 322.3 L251.5 321.7 L252.0 321.1 L252.5 320.5 L253.0 320.0 L253.5 319.4 L254.0 318.8 L254.5 318.3 L255.0 317.8 L255.5 317.3 L256.0 316.8 L256.5 316.3 L257.0 315.8 L257.5 315.4 L258.0 314.9 L258.5 314.5 L259.0 314.1 L259.5 313.7 L260.0 313.3 L260.5 313.0 L261.0 312.6 L261.5 312.3 L262.0 311.9 L262.5 311.6 L263.0 311.3 L263.5 310.9 L264.0 310.6 L264.5 310.3 L265.0 310.0 L265.5 309.7 L266.0 309.5 L266.5 309.2 L267.0 308.9 L267.5 308.6 L268.0 308.4 L268.5 308.1 L269.0 307.8 L269.5 307.6 L270.0 307.3 L270.5 307.1 L271.0 306.8 L271.5 306.6 L272.0 306.4 L272.5 306.1 L273.0 305.9 L273.5 305.6 L274.0 305.4 L274.5 305.2 L275.0 305.0 L275.5 304.7 L276.0 304.5 L276.5 304.3 L277.0 304.1 L277.5 303.9 L278.0 303.7 L278.5 303.4 L279.0 303.2 L279.5 303.0 L280.0 302.8 L280.5 302.6 L281.0 302.4 L281.5 302.2 L282.0 302.0 L282.5 301.8 L283.0 301.7 L283.5 301.5 L284.0 301.3 L284.5 301.1 L285.0 300.9 L285.5 300.7 L286.0 300.6 L286.5 300.4 L287.0 300.2 L287.5 300.0 L288.0 299.9 L288.5 299.7 L289.0 299.5 L289.5 299.4 L290.0 299.2 L290.5 299.0 L291.0 298.9 L291.5 298.7 L292.0 298.5 L292.5 298.4 L293.0 298.2 L293.5 298.1 L294.0 297.9 L294.5 297.8 L295.0 297.6 L295.5 297.5 L296.0 297.3 L296.5 297.2 L297.0 297.1 L297.5 296.9 L298.0 296.8 L298.5 296.6 L299.0 296.5 L299.5 296.4 L300.0 296.2 L300.5 296.1 L301.0 296.0 L301.5 295.8 L302.0 295.7 L302.5 295.6 L303.0 295.5 L303.5 295.3 L304.0 295.2 L304.5 295.1 L305.0 295.0 L305.5 294.8 L306.0 294.7 L306.5 294.6 L307.0 294.5 L307.5 294.4 L308.0 294.3 L308.5 294.2 L309.0 294.0 L309.5 293.9" stroke="#1010ff"/>
<path d="M87.3 364.7 L87.8 364.7 L88.3 364.7 L88.8 364.9 L89.3 365.0 L89.8 365.3 L90.3 365.5 L90.8 365.9 L91.3 366.3 L91.8 365.2 L92.3 364.1 L92.8 364.0 L93.3 363.8 L93.8 364.6 L94.3 365.5 L94.8 365.4 L95.3 365.3 L95.8 365.3 L96.3 365.3 L96.8 365.6 L97.3 365.8 L97.8 365.3 L98.3 364.8 L98.8 365.3 L99.3 365.9 L99.8 366.2 L100.3 366.5 L100.8 366.5 L101.3 366.5 L101.8 366.4 L102.3 366.3 L102.8 367.0 L103.3 367.6 L103.8 367.8 L104.3 368.1 L104.8 367.9 L105.3 367.8 L105.8 367.6 L106.3 367.4 L106.8 367.8 L107.3 368.2 L107.8 367.8 L108.3 367.4 L108.8 367.8 L109.3 368.1 L109.8 368.1 L110.3 368.2 L110.8 368.5 L111.3 368.8 L111.8 368.8 L112.3 368.9 L112.8 368.6 L113.3 368.3 L113.8 368.4 L114.3 368.6 L114.8 368.7 L115.3 368.9 L115.8 368.8 L116.3 368.6 L116.8 368.5 L117.3 368.3 L117.8 369.2 L118.3 370.0 L118.8 369.9 L119.3 369.8 L119.8 369.8 L120.3 369.7 L120.8 369.6 L121.3 369.4 L121.8 369.5 L122.3 369.6 L122.8 369.8 L123.3 369.9 L123.8 370.5 L124.3 371.1 L124.8 371.0 L125.3 371.0 L125.8 371.5 L126.3 372.1 L126.8 372.1 L127.3 372.1 L127.8 372.4 L128.3 372.6 L128.8 373.5 L129.3 374.3 L129.8 373.8 L130.3 373.3 L130.8 373.3 L131.3 373.3 L131.8 373.7 L132.3 374.1 L132.8 373.8 L133.3 373.5 L133.8 373.3 L134.3 373.2 L134.8 373.4 L135.3 373.6 L135.8 373.5 L136.3 373.3 L136.8 373.7 L137.3 374.1 L137.8 374.2 L138.3 374.4 L138.8 374.4 L139.3 374.5 L139.8 374.5 L140.3 374.5 L140.8 374.4 L141.3 374.3 L141.8 374.4 L142.3 374.4 L142.8 373.7 L143.3 373.0 L143.8 373.3 L144.3 373.5 L144.8 373.2 L145.3 373.0 L145.8 372.4 L146.3 371.9 L146.8 372.0 L147.3 372.3 L147.8 373.2 L148.3 374.2 L148.8 373.8 L149.3 373.4 L149.8 374.4 L150.3 375.4 L150.8 375.5 L151.3 375.7 L151.8 376.4 L152.3 377.0 L152.8 377.4 L153.3 377.8 L153.8 377.6 L154.3 377.4 L154.8 377.6 L155.3 377.8 L155.8 378.0 L156.3 378.3 L156.8 378.1 L157.3 378.0 L157.8 378.2 L158.3 378.3 L158.8 378.5 L159.3 378.6 L159.8 379.3 L160.3 379.9 L160.8 379.4 L161.3 378.9 L161.8 379.0 L162.3 379.1 L162.8 379.4 L163.3 379.7 L163.8 379.2 L164.3 378.7 L164.8 378.8 L165.3 378.9 L165.8 379.0 L166.3 379.2 L166.8 379.8 L167.3 380.5 L167.8 380.2 L168.3 379.8 L168.8 380.1 L169.3 380.4 L169.8 380.5 L170.3 380.6 L170.8 380.8 L171.3 381.0 L171.8 381.0 L172.3 381.0 L172.8 381.1 L173.3 381.3 L173.8 381.8 L174.3 382.3 L174.8 382.3 L175.3 382.3 L175.8 382.8 L176.3 383.4 L176.8 383.1 L177.3 382.8 L177.8 382.8 L178.3 382.8 L178.8 383.1 L179.3 383.4 L179.8 384.0 L180.3 384.6 L180.8 385.0 L181.3 385.4 L181.8 385.6 L182.3 385.7 L182.8 386.5 L183.3 387.4 L183.8 388.1 L184.3 388.8 L184.8 389.3 L185.3 389.8 L185.8 389.8 L186.3 389.8 L186.8 391.5 L187.3 393.2 L187.8 393.8 L188.3 394.5 L188.8 395.5 L189.3 396.5 L189.8 397.2 L190.3 398.0 L190.8 399.0 L191.3 400.1 L191.8 401.1 L192.3 402.2 L192.5 402.8 L192.6 403.2 L192.7 403.5 L192.8 403.8 L192.9 404.2 L193.0 404.5 L193.1 404.9 L193.2 405.3 L193.3 405.6 L193.4 405.9 L193.5 406.2 L193.6 406.5 L193.7 406.8 L193.8 407.1 L193.9 407.5 L194.0 407.8 L194.1 408.2 L194.2 408.6 L194.3 409.0 L194.4 409.6 L194.5 410.2 L194.6 410.8 L194.7 411.4 L194.8 412.0 L194.9 412.7 L195.0 413.3 L195.1 414.0 L195.2 414.7 L195.3 415.4 L195.4 415.9 L195.5 416.4 L195.6 417.0 L195.7 417.5 L195.8 418.1 L195.9 418.6 L196.0 419.2 L196.1 419.8 L196.2 420.5 L196.3 421.1 L196.4 422.0 L196.5 422.8 L196.6 423.7 L196.7 424.6 L196.8 425.6 L196.9 426.6 L197.0 427.6 L197.1 428.7 L197.2 429.9 L197.3 431.1 L197.4 432.3 L197.5 433.5 L197.6 434.9 L197.7 436.1 L197.8 437.6 L197.9 439.3 L198.0 441.3 L198.1 443.8 L198.2 445.0 L198.3 445.0 L198.4 445.0 L198.5 445.0 L198.6 445.0 L198.7 442.0 L198.8 437.4 L198.9 434.2 L199.0 431.6 L199.1 429.5 L199.2 427.8 L199.3 426.3 L199.4 424.9 L199.5 423.8 L199.6 422.7 L199.7 421.7 L199.8 420.8 L199.9 420.0 L200.0 419.2 L200.1 418.4 L200.2 417.7 L200.3 417.1 L200.4 416.4 L200.5 415.7 L200.6 415.1 L200.7 414.5 L200.8 413.9 L200.9 413.3 L201.0 412.7 L201.1 412.2 L201.2 411.7 L201.3 411.1 L201.4 410.6 L201.5 410.1 L201.6 409.6 L201.7 409.1 L201.8 408.6 L201.9 408.1 L202.0 407.6 L202.1 407.2 L202.2 406.7 L202.3 406.2 L202.4 405.8 L202.5 405.4 L202.6 405.1 L202.7 404.7 L202.8 404.3 L202.9 404.0 L203.0 403.6 L203.1 403.2 L203.2 402.9 L203.3 402.5 L203.4 402.2 L203.5 401.8 L203.6 401.4 L203.7 401.0 L203.8 400.6 L203.9 400.3 L204.0 399.9 L204.1 399.5 L204.2 399.2 L204.3 398.8 L204.4 398.5 L204.5 398.2 L204.5 398.2 L205.0 396.6 L205.5 395.1 L206.0 393.7 L206.5 392.2 L207.0 390.6 L207.5 389.1 L208.0 387.7 L208.5 386.4 L209.0 385.1 L209.5 383.8 L210.0 382.6 L210.5 381.5 L211.0 380.7 L211.5 379.7 L212.0 378.4 L212.5 377.3 L213.0 376.3 L213.5 375.5 L214.0 374.9 L214.5 374.3 L215.0 373.7 L215.5 373.1 L216.0 372.2 L216.5 371.4 L217.0 370.7 L217.5 370.1 L218.0 369.6 L218.5 368.9 L219.0 367.9 L219.5 367.0 L220.0 366.2 L220.5 365.6 L221.0 365.0 L221.5 364.4 L222.0 363.8 L222.5 363.0 L223.0 362.3 L223.5 361.0 L224.0 360.1 L224.5 359.2 L225.0 358.3 L225.5 357.4 L226.0 356.5 L226.5 355.5 L227.0 354.6 L227.5 353.7 L228.0 352.8 L228.5 351.9 L229.0 351.0 L229.5 350.1 L230.0 349.2 L230.5 348.3 L231.0 347.4 L231.5 346.5 L232.0 345.7 L232.5 344.8 L233.0 344.0 L233.5 343.1 L234.0 342.3 L234.5 341.5 L235.0 340.7 L235.5 339.9 L236.0 339.1 L236.5 338.3 L237.0 337.5 L237.5 336.8 L238.0 336.0 L238.5 335.3 L239.0 334.6 L239.5 333.9 L240.0 333.2 L240.5 332.5 L241.0 331.8 L241.5 331.2 L242.0 330.5 L242.5 329.9 L243.0 329.2 L243.5 328.6 L244.0 328.0 L244.5 327.4 L245.0 326.8 L245.5 326.3 L246.0 325.7 L246.5 325.2 L247.0 324.6 L247.5 324.1 L248.0 323.6 L248.5 323.1 L249.0 322.6 L249.5 322.1 L250.0 321.6 L250.5 321.2 L251.0 320.7 L251.5 320.3 L252.0 319.8 L252.5 319.4 L253.0 319.0 L253.5 318.6 L254.0 318.2 L254.5 317.8 L255.0 317.4 L255.5 317.1 L256.0 316.7 L256.5 316.3 L257.0 316.0 L257.5 315.6 L258.0 315.3 L258.5 315.0 L259.0 314.7 L259.5 314.3 L260.0 314.0 L260.5 313.7 L261.0 313.4 L261.5 313.1 L262.0 312.8 L262.5 312.5 L263.0 312.3 L263.5 312.0 L264.0 311.7 L264.5 311.5 L265.0 311.2 L265.5 310.9 L266.0 310.7 L266.5 310.4 L267.0 310.2 L267.5 309.9 L268.0 309.7 L268.5 309.5 L269.0 309.2 L269.5 309.0 L270.0 308.8 L270.5 308.6 L271.0 308.4 L271.5 308.2 L272.0 307.9 L272.5 307.7 L273.0 307.5 L273.5 307.3 L274.0 307.1 L274.5 306.9 L275.0 306.7 L275.5 306.6 L276.0 306.4 L276.5 306.2 L277.0 306.0 L277.5 305.8 L278.0 305.6 L278.5 305.5 L279.0 305.3 L279.5 305.1 L280.0 304.9 L280.5 304.8 L281.0 304.6 L281.5 304.5 L282.0 304.3 L282.5 304.1 L283.0 304.0 L283.5 303.8 L284.0 303.7 L284.5 303.5 L285.0 303.4 L285.5 303.2 L286.0 303.1 L286.5 302.9 L287.0 302.8 L287.5 302.6 L288.0 302.5 L288.5 302.3 L289.0 302.2 L289.5 302.1 L290.0 301.9 L290.5 301.8 L291.0 301.6 L291.5 301.5 L292.0 301.4 L292.5 301.2 L293.0 301.1 L293.5 301.0 L294.0 300.9 L294.5 300.7 L295.0 300.6 L295.5 300.5 L296.0 300.4 L296.5 300.2 L297.0 300.1 L297.5 300.0 L298.0 299.9 L298.5 299.7 L299.0 299.6 L299.5 299.5 L300.0 299.4 L300.5 299.3 L301.0 299.2 L301.5 299.0 L302.0 298.9 L302.5 298.8 L303.0 298.7 L303.5 298.6 L304.0 298.5 L304.5 298.4 L305.0 298.2 L305.5 298.1 L306.0 298.0 L306.5 297.9 L307.0 297.8 L307.5 297.7 L308.0 297.6 L308.5 297.5 L309.0 297.4 L309.5 297.3" stroke="#10ee10"/>
<path d="M87.3 392.4 L87.8 392.4 L88.3 392.4 L88.8 392.4 L89.3 392.4 L89.8 392.7 L90.3 392.9 L90.8 393.2 L91.3 393.5 L91.8 393.3 L92.3 393.1 L92.8 392.8 L93.3 392.6 L93.8 392.9 L94.3 393.2 L94.8 393.5 L95.3 393.9 L95.8 394.4 L96.3 394.9 L96.8 395.4 L97.3 395.9 L97.8 395.8 L98.3 395.8 L98.8 395.7 L99.3 395.7 L99.8 395.9 L100.3 396.1 L100.8 396.4 L101.3 396.6 L101.8 396.9 L102.3 397.3 L102.8 397.7 L103.3 398.0 L103.8 398.2 L104.3 398.4 L104.8 398.6 L105.3 398.7 L105.8 399.0 L106.3 399.2 L106.8 399.4 L107.3 399.5 L107.8 399.8 L108.3 400.0 L108.8 400.2 L109.3 400.4 L109.8 400.6 L110.3 400.7 L110.8 400.9 L111.3 401.1 L111.8 400.9 L112.3 400.8 L112.8 400.6 L113.3 400.4 L113.8 400.6 L114.3 400.7 L114.8 400.7 L115.3 400.6 L115.8 400.2 L116.3 399.9 L116.8 399.6 L117.3 399.6 L117.8 399.8 L118.3 400.2 L118.8 400.6 L119.3 401.0 L119.8 401.4 L120.3 401.7 L120.8 402.1 L121.3 402.5 L121.8 402.8 L122.3 403.1 L122.8 403.4 L123.3 403.6 L123.8 404.1 L124.3 404.7 L124.8 405.3 L125.3 405.9 L125.8 406.2 L126.3 406.6 L126.8 407.0 L127.3 407.3 L127.8 407.6 L128.3 407.9 L128.8 408.1 L129.3 408.3 L129.8 408.5 L130.3 408.8 L130.8 408.9 L131.3 409.1 L131.8 409.1 L132.3 409.1 L132.8 409.1 L133.3 409.1 L133.8 409.0 L134.3 409.0 L134.8 408.9 L135.3 408.8 L135.8 409.0 L136.3 409.3 L136.8 409.7 L137.3 410.4 L137.8 410.8 L138.3 411.2 L138.8 411.7 L139.3 412.1 L139.8 412.5 L140.3 412.8 L140.8 413.0 L141.3 413.2 L141.8 413.9 L142.3 414.5 L142.8 415.2 L143.3 415.8 L143.8 415.9 L144.3 416.0 L144.8 416.1 L145.3 416.2 L145.8 416.4 L146.3 416.5 L146.8 416.7 L147.3 416.8 L147.8 417.0 L148.3 417.1 L148.8 417.3 L149.3 417.4 L149.8 417.8 L150.3 418.1 L150.8 418.6 L151.3 419.1 L151.8 419.5 L152.3 420.0 L152.8 420.6 L153.3 421.3 L153.8 422.2 L154.3 423.3 L154.8 424.3 L155.3 425.3 L155.8 425.9 L156.3 426.5 L156.8 427.3 L157.3 428.1 L157.8 429.2 L158.3 430.4 L158.8 431.5 L159.3 432.6 L159.8 433.6 L160.3 434.5 L160.8 435.3 L161.3 435.8 L161.8 436.2 L162.3 436.5 L162.8 436.8 L163.3 437.0 L163.8 437.5 L164.3 438.0 L164.8 438.5 L165.3 438.9 L165.8 439.2 L166.3 439.5 L166.8 439.8 L167.3 440.2 L167.8 440.5 L168.3 440.8 L168.8 441.1 L169.3 441.5 L169.8 441.9 L170.3 442.4 L170.8 442.8 L171.3 443.3 L171.8 443.9 L172.3 444.6 L172.8 445.2 L173.3 445.9 L173.8 446.3 L174.3 446.9 L174.8 447.4 L175.3 448.0 L175.8 448.7 L176.3 449.2 L176.8 449.7 L177.3 450.0 L177.8 450.3 L178.3 450.3 L178.8 450.1 L179.3 449.6 L179.8 448.9 L180.3 448.1 L180.8 447.3 L181.3 446.5 L181.8 446.1 L182.3 446.0 L182.8 445.8 L183.3 445.7 L183.8 445.3 L184.3 444.8 L184.8 444.4 L185.3 444.0 L185.8 444.0 L186.3 444.1 L186.8 444.3 L187.3 444.6 L187.8 444.9 L188.3 445.4 L188.8 445.9 L189.3 446.6 L189.8 447.0 L190.3 447.5 L190.8 447.9 L191.3 448.4 L191.8 449.2 L192.3 450.1 L192.5 450.4 L192.6 450.6 L192.7 450.8 L192.8 451.0 L192.9 451.2 L193.0 451.4 L193.1 451.6 L193.2 451.8 L193.3 452.0 L193.4 452.2 L193.5 452.4 L193.6 452.5 L193.7 452.7 L193.8 452.9 L193.9 453.1 L194.0 453.3 L194.1 453.4 L194.2 453.6 L194.3 453.8 L194.4 454.0 L194.5 454.2 L194.6 454.4 L194.7 454.6 L194.8 454.8 L194.9 455.0 L195.0 455.2 L195.1 455.4 L195.2 455.7 L195.3 455.9 L195.4 456.2 L195.5 456.6 L195.6 457.0 L195.7 457.4 L195.8 457.8 L195.9 458.2 L196.0 458.6 L196.1 459.0 L196.2 459.4 L196.3 459.9 L196.4 460.3 L196.5 460.8 L196.6 461.3 L196.7 461.8 L196.8 462.3 L196.9 462.8 L197.0 463.4 L197.1 463.9 L197.2 464.5 L197.3 465.5 L197.4 466.5 L197.5 467.5 L197.6 468.7 L197.7 470.0 L197.8 471.5 L197.9 472.0 L198.0 472.0 L198.1 472.0 L198.2 472.0 L198.3 472.0 L198.4 472.0 L198.5 472.0 L198.6 472.0 L198.7 472.0 L198.8 472.0 L198.9 472.0 L199.0 472.0 L199.1 472.0 L199.2 472.0 L199.3 472.0 L199.4 472.0 L199.5 472.0 L199.6 471.2 L199.7 470.2 L199.8 469.3 L199.9 468.5 L200.0 468.0 L200.1 467.4 L200.2 466.7 L200.3 466.0 L200.4 465.2 L200.5 464.5 L200.6 463.6 L200.7 462.8 L200.8 462.0 L200.9 461.2 L201.0 460.3 L201.1 459.5 L201.2 458.7 L201.3 457.9 L201.4 457.0 L201.5 456.2 L201.6 455.4 L201.7 454.6 L201.8 453.8 L201.9 452.9 L202.0 452.2 L202.1 451.4 L202.2 450.6 L202.3 449.8 L202.4 449.1 L202.5 448.3 L202.6 447.6 L202.7 446.9 L202.8 446.2 L202.9 445.5 L203.0 444.8 L203.1 444.1 L203.2 443.4 L203.3 442.8 L203.4 442.2 L203.5 441.6 L203.6 441.0 L203.7 440.4 L203.8 439.8 L203.9 439.3 L204.0 438.7 L204.1 438.2 L204.2 437.7 L204.3 437.1 L204.4 436.6 L204.5 436.1 L204.5 436.1 L205.0 433.7 L205.5 431.5 L206.0 429.3 L206.5 427.3 L207.0 425.4 L207.5 423.6 L208.0 421.9 L208.5 420.3 L209.0 418.7 L209.5 417.0 L210.0 415.3 L210.5 413.5 L211.0 411.7 L211.5 410.0 L212.0 408.4 L212.5 406.8 L213.0 405.3 L213.5 403.6 L214.0 401.7 L214.5 399.9 L215.0 398.1 L215.5 396.5 L216.0 395.0 L216.5 393.6 L217.0 392.2 L217.5 390.8 L218.0 389.3 L218.5 387.8 L219.0 386.4 L219.5 385.0 L220.0 383.7 L220.5 382.4 L221.0 381.1 L221.5 379.9 L222.0 378.8 L222.5 377.7 L223.0 376.7 L223.5 375.6 L224.0 374.6 L224.5 373.6 L225.0 372.6 L225.5 371.7 L226.0 370.7 L226.5 369.8 L227.0 369.0 L227.5 368.1 L228.0 367.3 L228.5 366.5 L229.0 365.7 L229.5 364.9 L230.0 364.2 L230.5 363.4 L231.0 362.7 L231.5 362.0 L232.0 361.3 L232.5 360.6 L233.0 359.9 L233.5 359.3 L234.0 358.6 L234.5 358.0 L235.0 357.4 L235.5 356.8 L236.0 356.2 L236.5 355.6 L237.0 355.0 L237.5 354.4 L238.0 353.8 L238.5 353.2 L239.0 352.7 L239.5 352.1 L240.0 351.6 L240.5 351.1 L241.0 350.5 L241.5 350.0 L242.0 349.5 L242.5 349.0 L243.0 348.5 L243.5 348.0 L244.0 347.5 L244.5 347.1 L245.0 346.6 L245.5 346.1 L246.0 345.7 L246.5 345.2 L247.0 344.8 L247.5 344.4 L248.0 343.9 L248.5 343.5 L249.0 343.1 L249.5 342.7 L250.0 342.3 L250.5 341.9 L251.0 341.5 L251.5 341.1 L252.0 340.7 L252.5 340.4 L253.0 340.0 L253.5 339.6 L254.0 339.3 L254.5 338.9 L255.0 338.6 L255.5 338.3 L256.0 337.9 L256.5 337.6 L257.0 337.3 L257.5 337.0 L258.0 336.7 L258.5 336.4 L259.0 336.1 L259.5 335.8 L260.0 335.5 L260.5 335.2 L261.0 334.9 L261.5 334.7 L262.0 334.4 L262.5 334.1 L263.0 333.9 L263.5 333.6 L264.0 333.4 L264.5 333.1 L265.0 332.9 L265.5 332.7 L266.0 332.4 L266.5 332.2 L267.0 332.0 L267.5 331.8 L268.0 331.6 L268.5 331.3 L269.0 331.1 L269.5 330.9 L270.0 330.7 L270.5 330.6 L271.0 330.4 L271.5 330.2 L272.0 330.0 L272.5 329.8 L273.0 329.6 L273.5 329.5 L274.0 329.3 L274.5 329.1 L275.0 329.0 L275.5 328.8 L276.0 328.7 L276.5 328.5 L277.0 328.4 L277.5 328.2 L278.0 328.1 L278.5 327.9 L279.0 327.8 L279.5 327.6 L280.0 327.5 L280.5 327.3 L281.0 327.2 L281.5 327.1 L282.0 326.9 L282.5 326.8 L283.0 326.7 L283.5 326.5 L284.0 326.4 L284.5 326.3 L285.0 326.1 L285.5 326.0 L286.0 325.9 L286.5 325.8 L287.0 325.6 L287.5 325.5 L288.0 325.4 L288.5 325.3 L289.0 325.2 L289.5 325.0 L290.0 324.9 L290.5 324.8 L291.0 324.7 L291.5 324.6 L292.0 324.4 L292.5 324.3 L293.0 324.2 L293.5 324.1 L294.0 324.0 L294.5 323.8 L295.0 323.7 L295.5 323.6 L296.0 323.5 L296.5 323.4 L297.0 323.2 L297.5 323.1 L298.0 323.0 L298.5 322.9 L299.0 322.8 L299.5 322.7 L300.0 322.5 L300.5 322.4 L301.0 322.3 L301.5 322.2 L302.0 322.1 L302.5 321.9 L303.0 321.8 L303.5 321.7 L304.0 321.6 L304.5 321.4 L305.0 321.3 L305.5 321.2 L306.0 321.1 L306.5 321.0 L307.0 320.8 L307.5 320.7 L308.0 320.6 L308.5 320.5 L309.0 320.3 L309.5 320.2" stroke="#ff1010"/>
<path d="M87.3 368.4 L87.8 368.6 L88.3 368.7 L88.8 368.9 L89.3 368.9 L89.8 368.8 L90.3 368.8 L90.8 369.0 L91.3 369.3 L91.8 369.6 L92.3 369.8 L92.8 369.7 L93.3 369.6 L93.8 369.6 L94.3 369.8 L94.8 370.1 L95.3 370.3 L95.8 370.5 L96.3 370.8 L96.8 371.0 L97.3 371.0 L97.8 370.9 L98.3 370.7 L98.8 370.8 L99.3 371.0 L99.8 371.1 L100.3 371.3 L100.8 371.5 L101.3 371.7 L101.8 371.8 L102.3 371.9 L102.8 372.0 L103.3 372.1 L103.8 372.2 L104.3 372.4 L104.8 372.6 L105.3 372.8 L105.8 373.0 L106.3 373.3 L106.8 373.4 L107.3 373.4 L107.8 373.4 L108.3 373.6 L108.8 374.0 L109.3 374.4 L109.8 374.7 L110.3 374.7 L110.8 374.6 L111.3 374.5 L111.8 374.9 L112.3 375.3 L112.8 375.7 L113.3 376.0 L113.8 376.1 L114.3 376.3 L114.8 376.4 L115.3 376.4 L115.8 376.5 L116.3 376.4 L116.8 376.3 L117.3 376.1 L117.8 376.0 L118.3 376.3 L118.8 376.5 L119.3 376.7 L119.8 377.0 L120.3 377.3 L120.8 377.6 L121.3 377.7 L121.8 377.7 L122.3 377.7 L122.8 378.1 L123.3 378.6 L123.8 379.1 L124.3 379.3 L124.8 379.1 L125.3 378.9 L125.8 378.9 L126.3 379.3 L126.8 379.7 L127.3 380.2 L127.8 380.3 L128.3 380.4 L128.8 380.5 L129.3 380.8 L129.8 381.2 L130.3 381.6 L130.8 381.7 L131.3 381.5 L131.8 381.4 L132.3 381.5 L132.8 382.0 L133.3 382.5 L133.8 382.9 L134.3 383.0 L134.8 383.1 L135.3 383.2 L135.8 383.3 L136.3 383.4 L136.8 383.5 L137.3 383.8 L137.8 384.2 L138.3 384.5 L138.8 384.8 L139.3 385.1 L139.8 385.4 L140.3 385.5 L140.8 385.4 L141.3 385.4 L141.8 385.3 L142.3 385.6 L142.8 385.8 L143.3 386.0 L143.8 386.0 L144.3 386.0 L144.8 385.9 L145.3 386.2 L145.8 386.5 L146.3 386.9 L146.8 387.1 L147.3 387.3 L147.8 387.5 L148.3 387.7 L148.8 388.0 L149.3 388.4 L149.8 388.7 L150.3 389.0 L150.8 389.2 L151.3 389.5 L151.8 389.7 L152.3 389.9 L152.8 390.2 L153.3 390.5 L153.8 390.9 L154.3 391.3 L154.8 391.9 L155.3 392.6 L155.8 393.4 L156.3 394.0 L156.8 394.5 L157.3 394.9 L157.8 395.4 L158.3 396.2 L158.8 396.9 L159.3 397.5 L159.8 397.9 L160.3 398.2 L160.8 398.6 L161.3 398.8 L161.8 399.1 L162.3 399.3 L162.8 399.6 L163.3 400.1 L163.8 400.5 L164.3 401.0 L164.8 401.6 L165.3 402.2 L165.8 402.8 L166.3 403.1 L166.8 403.3 L167.3 403.6 L167.8 404.2 L168.3 404.8 L168.8 405.4 L169.3 406.0 L169.8 406.5 L170.3 407.0 L170.8 407.5 L171.3 408.0 L171.8 408.5 L172.3 409.0 L172.8 409.5 L173.3 410.0 L173.8 410.4 L174.3 410.8 L174.8 411.1 L175.3 411.5 L175.8 411.9 L176.3 412.4 L176.8 412.9 L177.3 413.4 L177.8 414.0 L178.3 414.6 L178.8 415.3 L179.3 416.1 L179.8 416.8 L180.3 417.4 L180.8 417.8 L181.3 418.0 L181.8 417.3 L182.3 415.7 L182.8 414.3 L183.3 413.6 L183.8 414.1 L184.3 414.7 L184.8 415.3 L185.3 415.3 L185.8 415.3 L186.3 415.5 L186.8 416.1 L187.3 417.1 L187.8 418.1 L188.3 419.1 L188.8 420.0 L189.3 420.9 L189.8 421.9 L190.3 423.1 L190.8 424.3 L191.3 425.6 L191.8 426.4 L192.3 427.2 L192.5 427.6 L192.6 427.8 L192.7 428.0 L192.8 428.2 L192.9 428.4 L193.0 428.7 L193.1 429.0 L193.2 429.3 L193.3 429.7 L193.4 430.0 L193.5 430.3 L193.6 430.7 L193.7 431.0 L193.8 431.3 L193.9 431.7 L194.0 432.1 L194.1 432.4 L194.2 432.8 L194.3 433.2 L194.4 433.6 L194.5 434.0 L194.6 434.3 L194.7 434.7 L194.8 435.1 L194.9 435.5 L195.0 435.9 L195.1 436.3 L195.2 436.7 L195.3 437.1 L195.4 437.6 L195.5 438.1 L195.6 438.5 L195.7 439.0 L195.8 439.5 L195.9 440.1 L196.0 440.6 L196.1 441.2 L196.2 441.8 L196.3 442.4 L196.4 443.0 L196.5 443.7 L196.6 444.4 L196.7 445.1 L196.8 445.9 L196.9 446.7 L197.0 447.6 L197.1 448.5 L197.2 449.5 L197.3 450.4 L197.4 451.4 L197.5 452.4 L197.6 453.6 L197.7 455.0 L197.8 456.0 L197.9 456.0 L198.0 456.0 L198.1 456.0 L198.2 456.0 L198.3 456.0 L198.4 456.0 L198.5 456.0 L198.6 456.0 L198.7 456.0 L198.8 452.1 L198.9 448.9 L199.0 446.3 L199.1 444.3 L199.2 442.5 L199.3 441.0 L199.4 437.9 L199.5 435.6 L199.6 433.7 L199.7 432.3 L199.8 431.1 L199.9 430.1 L200.0 429.2 L200.1 428.5 L200.2 427.8 L200.3 427.2 L200.4 426.6 L200.5 426.1 L200.6 425.6 L200.7 425.1 L200.8 424.7 L200.9 424.2 L201.0 423.8 L201.1 423.3 L201.2 422.9 L201.3 422.4 L201.4 422.0 L201.5 421.5 L201.6 421.1 L201.7 420.6 L201.8 420.1 L201.9 419.7 L202.0 419.2 L202.1 418.7 L202.2 418.2 L202.3 417.7 L202.4 417.2 L202.5 416.7 L202.6 416.2 L202.7 415.7 L202.8 415.2 L202.9 414.7 L203.0 414.2 L203.1 413.7 L203.2 413.1 L203.3 412.6 L203.4 412.1 L203.5 411.6 L203.6 411.1 L203.7 410.6 L203.8 410.0 L203.9 409.5 L204.0 409.0 L204.1 408.5 L204.2 408.0 L204.3 407.5 L204.4 407.0 L204.5 406.5 L204.5 406.5 L205.0 404.1 L205.5 401.7 L206.0 399.5 L206.5 397.4 L207.0 395.3 L207.5 393.4 L208.0 391.4 L208.5 389.5 L209.0 387.7 L209.5 386.3 L210.0 384.9 L210.5 383.5 L211.0 382.2 L211.5 381.0 L212.0 379.8 L212.5 378.7 L213.0 377.6 L213.5 376.6 L214.0 375.7 L214.5 374.8 L215.0 373.9 L215.5 373.0 L216.0 371.9 L216.5 370.9 L217.0 370.0 L217.5 369.1 L218.0 368.3 L218.5 367.5 L219.0 366.7 L219.5 365.8 L220.0 365.0 L220.5 364.3 L221.0 363.7 L221.5 363.0 L222.0 362.2 L222.5 361.2 L223.0 360.3 L223.5 359.6 L224.0 358.9 L224.5 358.1 L225.0 357.3 L225.5 356.5 L226.0 355.8 L226.5 355.0 L227.0 354.3 L227.5 353.5 L228.0 352.8 L228.5 352.1 L229.0 351.4 L229.5 350.7 L230.0 350.0 L230.5 349.4 L231.0 348.7 L231.5 348.1 L232.0 347.5 L232.5 346.9 L233.0 346.3 L233.5 345.7 L234.0 345.1 L234.5 344.6 L235.0 344.0 L235.5 343.5 L236.0 343.0 L236.5 342.5 L237.0 342.0 L237.5 341.5 L238.0 341.0 L238.5 340.6 L239.0 340.1 L239.5 339.7 L240.0 339.3 L240.5 338.9 L241.0 338.5 L241.5 338.1 L242.0 337.7 L242.5 337.3 L243.0 336.9 L243.5 336.6 L244.0 336.2 L244.5 335.9 L245.0 335.6 L245.5 335.2 L246.0 334.9 L246.5 334.6 L247.0 334.3 L247.5 334.0 L248.0 333.7 L248.5 333.4 L249.0 333.1 L249.5 332.8 L250.0 332.6 L250.5 332.3 L251.0 332.0 L251.5 331.8 L252.0 331.5 L252.5 331.3 L253.0 331.0 L253.5 330.8 L254.0 330.6 L254.5 330.3 L255.0 330.1 L255.5 329.9 L256.0 329.6 L256.5 329.4 L257.0 329.2 L257.5 329.0 L258.0 328.8 L258.5 328.6 L259.0 328.4 L259.5 328.2 L260.0 328.0 L260.5 327.8 L261.0 327.6 L261.5 327.4 L262.0 327.2 L262.5 327.0 L263.0 326.8 L263.5 326.7 L264.0 326.5 L264.5 326.3 L265.0 326.1 L265.5 326.0 L266.0 325.8 L266.5 325.6 L267.0 325.5 L267.5 325.3 L268.0 325.1 L268.5 325.0 L269.0 324.8 L269.5 324.6 L270.0 324.5 L270.5 324.3 L271.0 324.2 L271.5 324.0 L272.0 323.9 L272.5 323.7 L273.0 323.6 L273.5 323.4 L274.0 323.3 L274.5 323.2 L275.0 323.0 L275.5 322.9 L276.0 322.7 L276.5 322.6 L277.0 322.5 L277.5 322.3 L278.0 322.2 L278.5 322.0 L279.0 321.9 L279.5 321.8 L280.0 321.7 L280.5 321.5 L281.0 321.4 L281.5 321.3 L282.0 321.1 L282.5 321.0 L283.0 320.9 L283.5 320.8 L284.0 320.6 L284.5 320.5 L285.0 320.4 L285.5 320.3 L286.0 320.1 L286.5 320.0 L287.0 319.9 L287.5 319.8 L288.0 319.7 L288.5 319.5 L289.0 319.4 L289.5 319.3 L290.0 319.2 L290.5 319.1 L291.0 319.0 L291.5 318.8 L292.0 318.7 L292.5 318.6 L293.0 318.5 L293.5 318.4 L294.0 318.3 L294.5 318.2 L295.0 318.0 L295.5 317.9 L296.0 317.8 L296.5 317.7 L297.0 317.6 L297.5 317.5 L298.0 317.4 L298.5 317.3 L299.0 317.2 L299.5 317.1 L300.0 317.0 L300.5 316.8 L301.0 316.7 L301.5 316.6 L302.0 316.5 L302.5 316.4 L303.0 316.3 L303.5 316.2 L304.0 316.1 L304.5 316.0 L305.0 315.9 L305.5 315.8 L306.0 315.7 L306.5 315.6 L307.0 315.5 L307.5 315.4 L308.0 315.3 L308.5 315.2 L309.0 315.1 L309.5 315.0" stroke="#141414"/>
</g>
<g stroke="#1a1a1a" stroke-width="1.4" fill="none" stroke-linecap="butt">
<rect x="59.80" y="1.80" width="300.40" height="469.30"/>
<line x1="59.80" y1="236.80" x2="360.20" y2="236.80"/>
</g>
<g stroke="#1a1a1a" stroke-width="1.25" fill="none">
<line x1="87.30" y1="1.80" x2="87.30" y2="7.80"/>
<line x1="87.30" y1="236.80" x2="87.30" y2="230.80"/>
<line x1="87.30" y1="471.10" x2="87.30" y2="465.10"/>
<line x1="115.10" y1="1.80" x2="115.10" y2="4.80"/>
<line x1="115.10" y1="236.80" x2="115.10" y2="233.80"/>
<line x1="115.10" y1="471.10" x2="115.10" y2="468.10"/>
<line x1="142.90" y1="1.80" x2="142.90" y2="7.80"/>
<line x1="142.90" y1="236.80" x2="142.90" y2="230.80"/>
<line x1="142.90" y1="471.10" x2="142.90" y2="465.10"/>
<line x1="170.70" y1="1.80" x2="170.70" y2="4.80"/>
<line x1="170.70" y1="236.80" x2="170.70" y2="233.80"/>
<line x1="170.70" y1="471.10" x2="170.70" y2="468.10"/>
<line x1="198.50" y1="1.80" x2="198.50" y2="7.80"/>
<line x1="198.50" y1="236.80" x2="198.50" y2="230.80"/>
<line x1="198.50" y1="471.10" x2="198.50" y2="465.10"/>
<line x1="226.30" y1="1.80" x2="226.30" y2="4.80"/>
<line x1="226.30" y1="236.80" x2="226.30" y2="233.80"/>
<line x1="226.30" y1="471.10" x2="226.30" y2="468.10"/>
<line x1="254.10" y1="1.80" x2="254.10" y2="7.80"/>
<line x1="254.10" y1="236.80" x2="254.10" y2="230.80"/>
<line x1="254.10" y1="471.10" x2="254.10" y2="465.10"/>
<line x1="281.90" y1="1.80" x2="281.90" y2="4.80"/>
<line x1="281.90" y1="236.80" x2="281.90" y2="233.80"/>
<line x1="281.90" y1="471.10" x2="281.90" y2="468.10"/>
<line x1="309.70" y1="1.80" x2="309.70" y2="7.80"/>
<line x1="309.70" y1="236.80" x2="309.70" y2="230.80"/>
<line x1="309.70" y1="471.10" x2="309.70" y2="465.10"/>
<line x1="337.50" y1="1.80" x2="337.50" y2="4.80"/>
<line x1="337.50" y1="236.80" x2="337.50" y2="233.80"/>
<line x1="337.50" y1="471.10" x2="337.50" y2="468.10"/>
<line x1="59.80" y1="232.06" x2="62.80" y2="232.06"/>
<line x1="360.20" y1="232.06" x2="357.20" y2="232.06"/>
<line x1="59.80" y1="226.17" x2="62.80" y2="226.17"/>
<line x1="360.20" y1="226.17" x2="357.20" y2="226.17"/>
<line x1="59.80" y1="221.99" x2="62.80" y2="221.99"/>
<line x1="360.20" y1="221.99" x2="357.20" y2="221.99"/>
<line x1="59.80" y1="218.75" x2="65.80" y2="218.75"/>
<line x1="360.20" y1="218.75" x2="354.20" y2="218.75"/>
<line x1="59.80" y1="208.68" x2="62.80" y2="208.68"/>
<line x1="360.20" y1="208.68" x2="357.20" y2="208.68"/>
<line x1="59.80" y1="198.61" x2="62.80" y2="198.61"/>
<line x1="360.20" y1="198.61" x2="357.20" y2="198.61"/>
<line x1="59.80" y1="192.72" x2="62.80" y2="192.72"/>
<line x1="360.20" y1="192.72" x2="357.20" y2="192.72"/>
<line x1="59.80" y1="188.54" x2="62.80" y2="188.54"/>
<line x1="360.20" y1="188.54" x2="357.20" y2="188.54"/>
<line x1="59.80" y1="185.30" x2="65.80" y2="185.30"/>
<line x1="360.20" y1="185.30" x2="354.20" y2="185.30"/>
<line x1="59.80" y1="175.23" x2="62.80" y2="175.23"/>
<line x1="360.20" y1="175.23" x2="357.20" y2="175.23"/>
<line x1="59.80" y1="165.16" x2="62.80" y2="165.16"/>
<line x1="360.20" y1="165.16" x2="357.20" y2="165.16"/>
<line x1="59.80" y1="159.27" x2="62.80" y2="159.27"/>
<line x1="360.20" y1="159.27" x2="357.20" y2="159.27"/>
<line x1="59.80" y1="155.09" x2="62.80" y2="155.09"/>
<line x1="360.20" y1="155.09" x2="357.20" y2="155.09"/>
<line x1="59.80" y1="151.85" x2="65.80" y2="151.85"/>
<line x1="360.20" y1="151.85" x2="354.20" y2="151.85"/>
<line x1="59.80" y1="141.78" x2="62.80" y2="141.78"/>
<line x1="360.20" y1="141.78" x2="357.20" y2="141.78"/>
<line x1="59.80" y1="131.71" x2="62.80" y2="131.71"/>
<line x1="360.20" y1="131.71" x2="357.20" y2="131.71"/>
<line x1="59.80" y1="125.82" x2="62.80" y2="125.82"/>
<line x1="360.20" y1="125.82" x2="357.20" y2="125.82"/>
<line x1="59.80" y1="121.64" x2="62.80" y2="121.64"/>
<line x1="360.20" y1="121.64" x2="357.20" y2="121.64"/>
<line x1="59.80" y1="118.40" x2="65.80" y2="118.40"/>
<line x1="360.20" y1="118.40" x2="354.20" y2="118.40"/>
<line x1="59.80" y1="108.33" x2="62.80" y2="108.33"/>
<line x1="360.20" y1="108.33" x2="357.20" y2="108.33"/>
<line x1="59.80" y1="98.26" x2="62.80" y2="98.26"/>
<line x1="360.20" y1="98.26" x2="357.20" y2="98.26"/>
<line x1="59.80" y1="92.37" x2="62.80" y2="92.37"/>
<line x1="360.20" y1="92.37" x2="357.20" y2="92.37"/>
<line x1="59.80" y1="88.19" x2="62.80" y2="88.19"/>
<line x1="360.20" y1="88.19" x2="357.20" y2="88.19"/>
<line x1="59.80" y1="84.95" x2="65.80" y2="84.95"/>
<line x1="360.20" y1="84.95" x2="354.20" y2="84.95"/>
<line x1="59.80" y1="74.88" x2="62.80" y2="74.88"/>
<line x1="360.20" y1="74.88" x2="357.20" y2="74.88"/>
<line x1="59.80" y1="64.81" x2="62.80" y2="64.81"/>
<line x1="360.20" y1="64.81" x2="357.20" y2="64.81"/>
<line x1="59.80" y1="58.92" x2="62.80" y2="58.92"/>
<line x1="360.20" y1="58.92" x2="357.20" y2="58.92"/>
<line x1="59.80" y1="54.74" x2="62.80" y2="54.74"/>
<line x1="360.20" y1="54.74" x2="357.20" y2="54.74"/>
<line x1="59.80" y1="51.50" x2="65.80" y2="51.50"/>
<line x1="360.20" y1="51.50" x2="354.20" y2="51.50"/>
<line x1="59.80" y1="41.43" x2="62.80" y2="41.43"/>
<line x1="360.20" y1="41.43" x2="357.20" y2="41.43"/>
<line x1="59.80" y1="31.36" x2="62.80" y2="31.36"/>
<line x1="360.20" y1="31.36" x2="357.20" y2="31.36"/>
<line x1="59.80" y1="25.47" x2="62.80" y2="25.47"/>
<line x1="360.20" y1="25.47" x2="357.20" y2="25.47"/>
<line x1="59.80" y1="21.29" x2="62.80" y2="21.29"/>
<line x1="360.20" y1="21.29" x2="357.20" y2="21.29"/>
<line x1="59.80" y1="18.05" x2="65.80" y2="18.05"/>
<line x1="360.20" y1="18.05" x2="354.20" y2="18.05"/>
<line x1="59.80" y1="7.98" x2="62.80" y2="7.98"/>
<line x1="360.20" y1="7.98" x2="357.20" y2="7.98"/>
<line x1="59.80" y1="469.39" x2="62.80" y2="469.39"/>
<line x1="360.20" y1="469.39" x2="357.20" y2="469.39"/>
<line x1="59.80" y1="466.13" x2="62.80" y2="466.13"/>
<line x1="360.20" y1="466.13" x2="357.20" y2="466.13"/>
<line x1="59.80" y1="463.60" x2="65.80" y2="463.60"/>
<line x1="360.20" y1="463.60" x2="354.20" y2="463.60"/>
<line x1="59.80" y1="455.74" x2="62.80" y2="455.74"/>
<line x1="360.20" y1="455.74" x2="357.20" y2="455.74"/>
<line x1="59.80" y1="447.89" x2="62.80" y2="447.89"/>
<line x1="360.20" y1="447.89" x2="357.20" y2="447.89"/>
<line x1="59.80" y1="443.29" x2="62.80" y2="443.29"/>
<line x1="360.20" y1="443.29" x2="357.20" y2="443.29"/>
<line x1="59.80" y1="440.03" x2="62.80" y2="440.03"/>
<line x1="360.20" y1="440.03" x2="357.20" y2="440.03"/>
<line x1="59.80" y1="437.50" x2="65.80" y2="437.50"/>
<line x1="360.20" y1="437.50" x2="354.20" y2="437.50"/>
<line x1="59.80" y1="429.64" x2="62.80" y2="429.64"/>
<line x1="360.20" y1="429.64" x2="357.20" y2="429.64"/>
<line x1="59.80" y1="421.79" x2="62.80" y2="421.79"/>
<line x1="360.20" y1="421.79" x2="357.20" y2="421.79"/>
<line x1="59.80" y1="417.19" x2="62.80" y2="417.19"/>
<line x1="360.20" y1="417.19" x2="357.20" y2="417.19"/>
<line x1="59.80" y1="413.93" x2="62.80" y2="413.93"/>
<line x1="360.20" y1="413.93" x2="357.20" y2="413.93"/>
<line x1="59.80" y1="411.40" x2="65.80" y2="411.40"/>
<line x1="360.20" y1="411.40" x2="354.20" y2="411.40"/>
<line x1="59.80" y1="403.54" x2="62.80" y2="403.54"/>
<line x1="360.20" y1="403.54" x2="357.20" y2="403.54"/>
<line x1="59.80" y1="395.69" x2="62.80" y2="395.69"/>
<line x1="360.20" y1="395.69" x2="357.20" y2="395.69"/>
<line x1="59.80" y1="391.09" x2="62.80" y2="391.09"/>
<line x1="360.20" y1="391.09" x2="357.20" y2="391.09"/>
<line x1="59.80" y1="387.83" x2="62.80" y2="387.83"/>
<line x1="360.20" y1="387.83" x2="357.20" y2="387.83"/>
<line x1="59.80" y1="385.30" x2="65.80" y2="385.30"/>
<line x1="360.20" y1="385.30" x2="354.20" y2="385.30"/>
<line x1="59.80" y1="377.44" x2="62.80" y2="377.44"/>
<line x1="360.20" y1="377.44" x2="357.20" y2="377.44"/>
<line x1="59.80" y1="369.59" x2="62.80" y2="369.59"/>
<line x1="360.20" y1="369.59" x2="357.20" y2="369.59"/>
<line x1="59.80" y1="364.99" x2="62.80" y2="364.99"/>
<line x1="360.20" y1="364.99" x2="357.20" y2="364.99"/>
<line x1="59.80" y1="361.73" x2="62.80" y2="361.73"/>
<line x1="360.20" y1="361.73" x2="357.20" y2="361.73"/>
<line x1="59.80" y1="359.20" x2="65.80" y2="359.20"/>
<line x1="360.20" y1="359.20" x2="354.20" y2="359.20"/>
<line x1="59.80" y1="351.34" x2="62.80" y2="351.34"/>
<line x1="360.20" y1="351.34" x2="357.20" y2="351.34"/>
<line x1="59.80" y1="343.49" x2="62.80" y2="343.49"/>
<line x1="360.20" y1="343.49" x2="357.20" y2="343.49"/>
<line x1="59.80" y1="338.89" x2="62.80" y2="338.89"/>
<line x1="360.20" y1="338.89" x2="357.20" y2="338.89"/>
<line x1="59.80" y1="335.63" x2="62.80" y2="335.63"/>
<line x1="360.20" y1="335.63" x2="357.20" y2="335.63"/>
<line x1="59.80" y1="333.10" x2="65.80" y2="333.10"/>
<line x1="360.20" y1="333.10" x2="354.20" y2="333.10"/>
<line x1="59.80" y1="325.24" x2="62.80" y2="325.24"/>
<line x1="360.20" y1="325.24" x2="357.20" y2="325.24"/>
<line x1="59.80" y1="317.39" x2="62.80" y2="317.39"/>
<line x1="360.20" y1="317.39" x2="357.20" y2="317.39"/>
<line x1="59.80" y1="312.79" x2="62.80" y2="312.79"/>
<line x1="360.20" y1="312.79" x2="357.20" y2="312.79"/>
<line x1="59.80" y1="309.53" x2="62.80" y2="309.53"/>
<line x1="360.20" y1="309.53" x2="357.20" y2="309.53"/>
<line x1="59.80" y1="307.00" x2="65.80" y2="307.00"/>
<line x1="360.20" y1="307.00" x2="354.20" y2="307.00"/>
<line x1="59.80" y1="299.14" x2="62.80" y2="299.14"/>
<line x1="360.20" y1="299.14" x2="357.20" y2="299.14"/>
<line x1="59.80" y1="291.29" x2="62.80" y2="291.29"/>
<line x1="360.20" y1="291.29" x2="357.20" y2="291.29"/>
<line x1="59.80" y1="286.69" x2="62.80" y2="286.69"/>
<line x1="360.20" y1="286.69" x2="357.20" y2="286.69"/>
<line x1="59.80" y1="283.43" x2="62.80" y2="283.43"/>
<line x1="360.20" y1="283.43" x2="357.20" y2="283.43"/>
<line x1="59.80" y1="280.90" x2="65.80" y2="280.90"/>
<line x1="360.20" y1="280.90" x2="354.20" y2="280.90"/>
<line x1="59.80" y1="273.04" x2="62.80" y2="273.04"/>
<line x1="360.20" y1="273.04" x2="357.20" y2="273.04"/>
<line x1="59.80" y1="265.19" x2="62.80" y2="265.19"/>
<line x1="360.20" y1="265.19" x2="357.20" y2="265.19"/>
<line x1="59.80" y1="260.59" x2="62.80" y2="260.59"/>
<line x1="360.20" y1="260.59" x2="357.20" y2="260.59"/>
<line x1="59.80" y1="257.33" x2="62.80" y2="257.33"/>
<line x1="360.20" y1="257.33" x2="357.20" y2="257.33"/>
<line x1="59.80" y1="254.80" x2="65.80" y2="254.80"/>
<line x1="360.20" y1="254.80" x2="354.20" y2="254.80"/>
<line x1="59.80" y1="246.94" x2="62.80" y2="246.94"/>
<line x1="360.20" y1="246.94" x2="357.20" y2="246.94"/>
<line x1="59.80" y1="239.09" x2="62.80" y2="239.09"/>
<line x1="360.20" y1="239.09" x2="357.20" y2="239.09"/>
</g>
<rect x="315" y="103.3" width="91" height="276" fill="#fff"/>
<g fill="none" stroke-width="1.35">
<line x1="322.9" y1="143.65" x2="360" y2="143.65" stroke="#ff1f8f"/>
<line x1="322.9" y1="163.18" x2="360" y2="163.18" stroke="#ff8010"/>
<line x1="322.9" y1="182.71" x2="360" y2="182.71" stroke="#0f8a1f"/>
<line x1="322.9" y1="202.24" x2="360" y2="202.24" stroke="#8a1a8a"/>
<line x1="322.9" y1="221.77" x2="360" y2="221.77" stroke="#8a8a1a"/>
<line x1="322.9" y1="241.30" x2="360" y2="241.30" stroke="#ff19ff"/>
<line x1="322.9" y1="260.83" x2="360" y2="260.83" stroke="#10f0f0"/>
<line x1="322.9" y1="280.36" x2="360" y2="280.36" stroke="#1010ff"/>
<line x1="322.9" y1="299.89" x2="360" y2="299.89" stroke="#10ee10"/>
<line x1="322.9" y1="319.42" x2="360" y2="319.42" stroke="#ff1010"/>
<line x1="322.9" y1="338.95" x2="360" y2="338.95" stroke="#141414"/>
</g>
</svg>
<div id="tx">
<div class="t yl" style="left:-5.9px;top:43.1px">10<sup>-3</sup></div>
<div class="t yl" style="left:-5.9px;top:110.0px">10<sup>-5</sup></div>
<div class="t yl" style="left:-5.9px;top:176.9px">10<sup>-7</sup></div>
<div class="t yl" style="left:-5.9px;top:272.5px">10<sup>-3</sup></div>
<div class="t yl" style="left:-5.9px;top:324.7px">10<sup>-5</sup></div>
<div class="t yl" style="left:-5.9px;top:376.9px">10<sup>-7</sup></div>
<div class="t yl" style="left:-5.9px;top:429.1px">10<sup>-9</sup></div>
<div class="t xl" style="left:67.7px;top:477.7px">-2</div>
<div class="t xl" style="left:122.9px;top:477.7px">-1</div>
<div class="t xl" style="left:178.7px;top:477.7px">0</div>
<div class="t xl" style="left:233.1px;top:477.7px">1</div>
<div class="t xl" style="left:289.0px;top:477.7px">2</div>
<div class="t lg" style="top:135.7px">300K</div>
<div class="t lg" style="top:155.2px">280K</div>
<div class="t lg" style="top:174.7px">260K</div>
<div class="t lg" style="top:194.2px">240K</div>
<div class="t lg" style="top:213.8px">220K</div>
<div class="t lg" style="top:233.3px">200K</div>
<div class="t lg" style="top:252.8px">180K</div>
<div class="t lg" style="top:272.4px">160K</div>
<div class="t lg" style="top:291.9px">140K</div>
<div class="t lg" style="top:311.4px">120K</div>
<div class="t lg" style="top:331.0px">100K</div>
<div class="t" style="font-size:16.6px;left:72.5px;top:15.7px">Zn-polar</div>
<div class="t" style="font-size:14.6px;left:69.4px;top:247.3px">O-polar</div>
<div class="t" style="font-size:13px;font-weight:normal;-webkit-text-stroke:0;left:71.6px;top:211px">(<i>a</i>)</div>
<div class="t" style="font-size:13px;font-weight:normal;-webkit-text-stroke:0;left:71.6px;top:444.6px">(<i>b</i>)</div>
<div class="t" style="font-size:16.5px;left:162.7px;top:504.6px">Voltage (V)</div>
<div class="t" style="font-size:16px;left:8.9px;top:225.8px;transform:translate(-50%,-50%) rotate(-90deg)">Current (A)</div>
</div></div></body></html>
